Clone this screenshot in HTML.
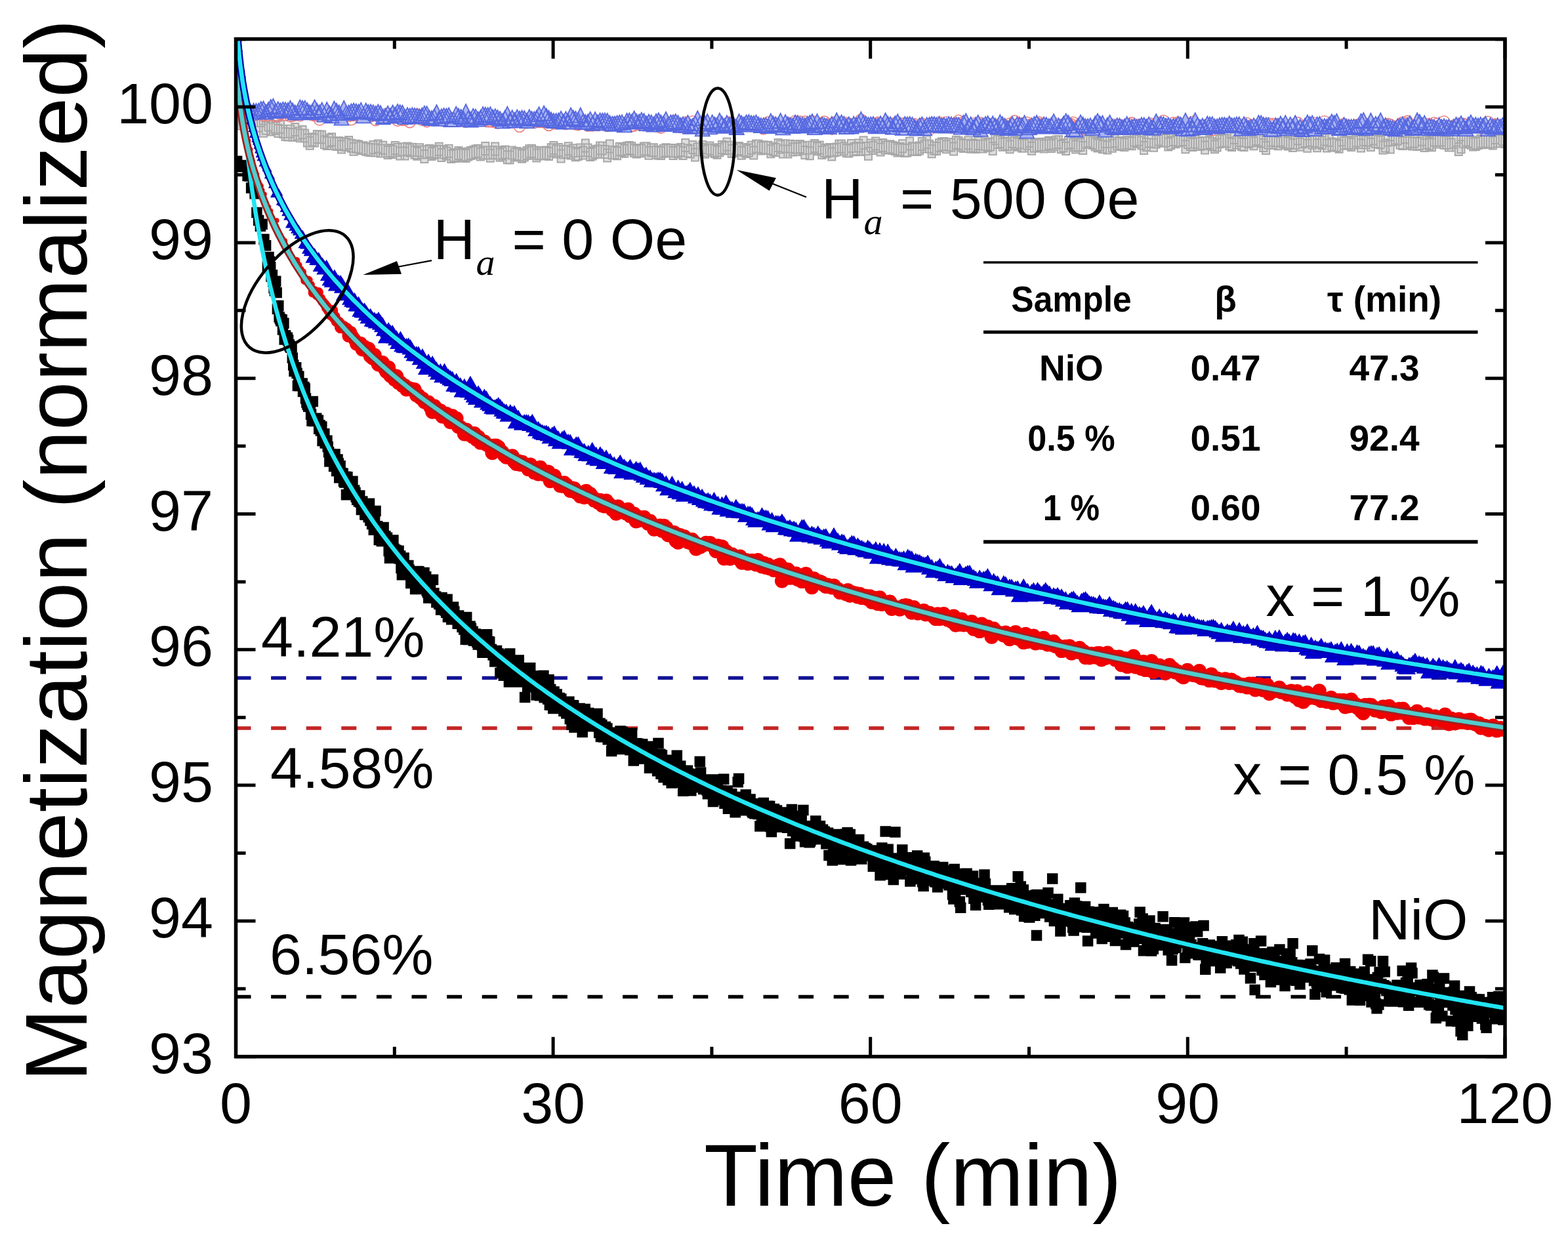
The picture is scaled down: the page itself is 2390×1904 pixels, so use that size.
<!DOCTYPE html><html><head><meta charset="utf-8"><style>html,body{margin:0;padding:0;background:#fff;overflow:hidden;}svg{display:block}</style></head><body>
<svg width="2390" height="1904" viewBox="0 0 2390 1904">
<rect width="2390" height="1904" fill="#fff"/>
<defs><clipPath id="pc"><rect x="359.5" y="59.5" width="1934.5" height="1551.2"/></clipPath></defs>
<g clip-path="url(#pc)">
<path d="M358.8 166.6h11v19h-11zM362.6 178.6h11v19h-11zM366.3 172.8h11v19h-11zM370 175.7h11v19h-11zM373.7 177h11v19h-11zM377.4 175.4h11v19h-11zM381.1 173.9h11v19h-11zM384.9 181.7h11v19h-11zM388.6 181.4h11v19h-11zM392.3 174.1h11v19h-11zM396 189.8h11v19h-11zM399.7 185.7h11v19h-11zM403.5 180.6h11v19h-11zM407.2 187.4h11v19h-11zM410.9 183.5h11v19h-11zM414.6 185.9h11v19h-11zM418.3 189.9h11v19h-11zM422 183.7h11v19h-11zM425.8 191h11v19h-11zM429.5 194.9h11v19h-11zM433.2 195.6h11v19h-11zM436.9 190.8h11v19h-11zM440.6 196h11v19h-11zM444.3 188.1h11v19h-11zM448.1 194.2h11v19h-11zM451.8 197.3h11v19h-11zM455.5 192h11v19h-11zM459.2 197.4h11v19h-11zM462.9 204.6h11v19h-11zM466.7 208.7h11v19h-11zM470.4 203.3h11v19h-11zM474.1 204.4h11v19h-11zM477.8 199.1h11v19h-11zM481.5 199.2h11v19h-11zM485.2 199.4h11v19h-11zM489 207.2h11v19h-11zM492.7 208.9h11v19h-11zM496.4 204.7h11v19h-11zM500.1 203.3h11v19h-11zM503.8 209.1h11v19h-11zM507.5 209.9h11v19h-11zM511.3 208.9h11v19h-11zM515 214.4h11v19h-11zM518.7 210.2h11v19h-11zM522.4 210.9h11v19h-11zM526.1 207.9h11v19h-11zM529.9 212.8h11v19h-11zM533.6 217.7h11v19h-11zM537.3 213.8h11v19h-11zM541 214.4h11v19h-11zM544.7 216.3h11v19h-11zM548.4 216.3h11v19h-11zM552.2 217.8h11v19h-11zM555.9 218.4h11v19h-11zM559.6 219.3h11v19h-11zM563.3 215h11v19h-11zM567 219.4h11v19h-11zM570.8 213.4h11v19h-11zM574.5 220.5h11v19h-11zM578.2 215.7h11v19h-11zM581.9 220.5h11v19h-11zM585.6 223h11v19h-11zM589.3 220.1h11v19h-11zM593.1 222.1h11v19h-11zM596.8 216.1h11v19h-11zM600.5 219h11v19h-11zM604.2 224.5h11v19h-11zM607.9 218.2h11v19h-11zM611.6 224.6h11v19h-11zM615.4 217.6h11v19h-11zM619.1 219.4h11v19h-11zM622.8 218.8h11v19h-11zM626.5 222.8h11v19h-11zM630.2 224.8h11v19h-11zM634 219.3h11v19h-11zM637.7 222.5h11v19h-11zM641.4 228.9h11v19h-11zM645.1 222.3h11v19h-11zM648.8 220.7h11v19h-11zM652.5 225h11v19h-11zM656.3 223h11v19h-11zM660 221.4h11v19h-11zM663.7 217.7h11v19h-11zM667.4 227h11v19h-11zM671.1 222.2h11v19h-11zM674.9 224.4h11v19h-11zM678.6 220.7h11v19h-11zM682.3 229h11v19h-11zM686 227.1h11v19h-11zM689.7 227.9h11v19h-11zM693.4 224h11v19h-11zM697.2 226h11v19h-11zM700.9 227.5h11v19h-11zM704.6 227.9h11v19h-11zM708.3 225.4h11v19h-11zM712 224h11v19h-11zM715.7 223h11v19h-11zM719.5 221.6h11v19h-11zM723.2 220.8h11v19h-11zM726.9 225.4h11v19h-11zM730.6 223.3h11v19h-11zM734.3 217.1h11v19h-11zM738.1 223.5h11v19h-11zM741.8 227.8h11v19h-11zM745.5 223.1h11v19h-11zM749.2 217.5h11v19h-11zM752.9 223.5h11v19h-11zM756.6 226.7h11v19h-11zM760.4 224.6h11v19h-11zM764.1 222.4h11v19h-11zM767.8 230.3h11v19h-11zM771.5 230.5h11v19h-11zM775.2 223.5h11v19h-11zM779 226.6h11v19h-11zM782.7 225.1h11v19h-11zM786.4 226.5h11v19h-11zM790.1 228.8h11v19h-11zM793.8 226.5h11v19h-11zM797.5 224h11v19h-11zM801.3 221.3h11v19h-11zM805 220.8h11v19h-11zM808.7 223.5h11v19h-11zM812.4 227.6h11v19h-11zM816.1 224.6h11v19h-11zM819.8 223.7h11v19h-11zM823.6 224.3h11v19h-11zM827.3 223.4h11v19h-11zM831 225.1h11v19h-11zM834.7 219.2h11v19h-11zM838.4 216.1h11v19h-11zM842.2 221.5h11v19h-11zM845.9 218.9h11v19h-11zM849.6 228.4h11v19h-11zM853.3 222.2h11v19h-11zM857 221.7h11v19h-11zM860.7 217.2h11v19h-11zM864.5 223.4h11v19h-11zM868.2 220.2h11v19h-11zM871.9 226.2h11v19h-11zM875.6 225.1h11v19h-11zM879.3 219.4h11v19h-11zM883.1 223.5h11v19h-11zM886.8 212.4h11v19h-11zM890.5 219.5h11v19h-11zM894.2 226.1h11v19h-11zM897.9 224.5h11v19h-11zM901.6 222.2h11v19h-11zM905.4 221.4h11v19h-11zM909.1 216.5h11v19h-11zM912.8 216.6h11v19h-11zM916.5 222.1h11v19h-11zM920.2 227.4h11v19h-11zM923.9 213.5h11v19h-11zM927.7 223.2h11v19h-11zM931.4 223h11v19h-11zM935.1 224.2h11v19h-11zM938.8 217.7h11v19h-11zM942.5 218.8h11v19h-11zM946.3 220.8h11v19h-11zM950 216.9h11v19h-11zM953.7 216.1h11v19h-11zM957.4 217.3h11v19h-11zM961.1 220h11v19h-11zM964.8 221.5h11v19h-11zM968.6 220h11v19h-11zM972.3 220.3h11v19h-11zM976 217.5h11v19h-11zM979.7 217.3h11v19h-11zM983.4 223.7h11v19h-11zM987.2 219.5h11v19h-11zM990.9 219.3h11v19h-11zM994.6 222.8h11v19h-11zM998.3 223.8h11v19h-11zM1002 223.9h11v19h-11zM1005.7 220.8h11v19h-11zM1009.5 219.2h11v19h-11zM1013.2 220.3h11v19h-11zM1016.9 219.9h11v19h-11zM1020.6 224.1h11v19h-11zM1024.3 220.2h11v19h-11zM1028 221.4h11v19h-11zM1031.8 219h11v19h-11zM1035.5 223.9h11v19h-11zM1039.2 211.9h11v19h-11zM1042.9 220.3h11v19h-11zM1046.6 221.6h11v19h-11zM1050.4 214.9h11v19h-11zM1054.1 226.4h11v19h-11zM1057.8 218.3h11v19h-11zM1061.5 218.3h11v19h-11zM1065.2 215h11v19h-11zM1068.9 221.8h11v19h-11zM1072.7 219.5h11v19h-11zM1076.4 216.6h11v19h-11zM1080.1 219.4h11v19h-11zM1083.8 221h11v19h-11zM1087.5 222.8h11v19h-11zM1091.3 219.3h11v19h-11zM1095 215.1h11v19h-11zM1098.7 216.5h11v19h-11zM1102.4 210.4h11v19h-11zM1106.1 215.8h11v19h-11zM1109.8 220.9h11v19h-11zM1113.6 219.9h11v19h-11zM1117.3 217.9h11v19h-11zM1121 217h11v19h-11zM1124.7 223.7h11v19h-11zM1128.4 219.1h11v19h-11zM1132.1 221.3h11v19h-11zM1135.9 219.5h11v19h-11zM1139.6 215.7h11v19h-11zM1143.3 223.5h11v19h-11zM1147 213.6h11v19h-11zM1150.7 213.8h11v19h-11zM1154.5 216.4h11v19h-11zM1158.2 215.3h11v19h-11zM1161.9 215.9h11v19h-11zM1165.6 215.7h11v19h-11zM1169.3 221.2h11v19h-11zM1173 217.9h11v19h-11zM1176.8 218.9h11v19h-11zM1180.5 212.1h11v19h-11zM1184.2 214.6h11v19h-11zM1187.9 221.4h11v19h-11zM1191.6 213.3h11v19h-11zM1195.4 221.6h11v19h-11zM1199.1 213.8h11v19h-11zM1202.8 218.5h11v19h-11zM1206.5 214.4h11v19h-11zM1210.2 218h11v19h-11zM1213.9 214.1h11v19h-11zM1217.7 216.3h11v19h-11zM1221.4 223.1h11v19h-11zM1225.1 215.8h11v19h-11zM1228.8 224.2h11v19h-11zM1232.5 215.5h11v19h-11zM1236.2 212.9h11v19h-11zM1240 217.3h11v19h-11zM1243.7 215.5h11v19h-11zM1247.4 223.1h11v19h-11zM1251.1 219.9h11v19h-11zM1254.8 221h11v19h-11zM1258.6 219h11v19h-11zM1262.3 225.4h11v19h-11zM1266 219.5h11v19h-11zM1269.7 218.5h11v19h-11zM1273.4 213.7h11v19h-11zM1277.1 213.4h11v19h-11zM1280.9 217.2h11v19h-11zM1284.6 220h11v19h-11zM1288.3 220.4h11v19h-11zM1292 213.1h11v19h-11zM1295.7 218.2h11v19h-11zM1299.5 217h11v19h-11zM1303.2 212.4h11v19h-11zM1306.9 218h11v19h-11zM1310.6 208.3h11v19h-11zM1314.3 217.1h11v19h-11zM1318 224.8h11v19h-11zM1321.8 212.5h11v19h-11zM1325.5 216.1h11v19h-11zM1329.2 209.4h11v19h-11zM1332.9 213.3h11v19h-11zM1336.6 218.5h11v19h-11zM1340.3 212.1h11v19h-11zM1344.1 215.6h11v19h-11zM1347.8 214.4h11v19h-11zM1351.5 214.2h11v19h-11zM1355.2 216.1h11v19h-11zM1358.9 217.1h11v19h-11zM1362.7 219.6h11v19h-11zM1366.4 218.1h11v19h-11zM1370.1 213.2h11v19h-11zM1373.8 220h11v19h-11zM1377.5 219.4h11v19h-11zM1381.2 209.5h11v19h-11zM1385 217.2h11v19h-11zM1388.7 217.7h11v19h-11zM1392.4 218.1h11v19h-11zM1396.1 216.5h11v19h-11zM1399.8 210h11v19h-11zM1403.6 213.5h11v19h-11zM1407.3 207.1h11v19h-11zM1411 213.8h11v19h-11zM1414.7 221.3h11v19h-11zM1418.4 216.5h11v19h-11zM1422.1 217h11v19h-11zM1425.9 212.2h11v19h-11zM1429.6 210.4h11v19h-11zM1433.3 210.1h11v19h-11zM1437 214.2h11v19h-11zM1440.7 210.9h11v19h-11zM1444.4 211.4h11v19h-11zM1448.2 217.6h11v19h-11zM1451.9 207.7h11v19h-11zM1455.6 208.8h11v19h-11zM1459.3 211.5h11v19h-11zM1463 212.9h11v19h-11zM1466.8 212.7h11v19h-11zM1470.5 208.2h11v19h-11zM1474.2 213.7h11v19h-11zM1477.9 212.5h11v19h-11zM1481.6 214.1h11v19h-11zM1485.3 209h11v19h-11zM1489.1 213.6h11v19h-11zM1492.8 213.4h11v19h-11zM1496.5 210.2h11v19h-11zM1500.2 211.7h11v19h-11zM1503.9 210.5h11v19h-11zM1507.7 217.1h11v19h-11zM1511.4 201.3h11v19h-11zM1515.1 207.1h11v19h-11zM1518.8 206.1h11v19h-11zM1522.5 210.7h11v19h-11zM1526.2 209.6h11v19h-11zM1530 210.4h11v19h-11zM1533.7 214.3h11v19h-11zM1537.4 206h11v19h-11zM1541.1 208.7h11v19h-11zM1544.8 210.8h11v19h-11zM1548.5 207.3h11v19h-11zM1552.3 212.7h11v19h-11zM1556 212.5h11v19h-11zM1559.7 208.8h11v19h-11zM1563.4 205h11v19h-11zM1567.1 216.7h11v19h-11zM1570.9 212.7h11v19h-11zM1574.6 212.4h11v19h-11zM1578.3 211.1h11v19h-11zM1582 210.8h11v19h-11zM1585.7 213.6h11v19h-11zM1589.4 210.6h11v19h-11zM1593.2 208.4h11v19h-11zM1596.9 213h11v19h-11zM1600.6 210.6h11v19h-11zM1604.3 207.6h11v19h-11zM1608 207.1h11v19h-11zM1611.8 214.3h11v19h-11zM1615.5 212.3h11v19h-11zM1619.2 217h11v19h-11zM1622.9 208.1h11v19h-11zM1626.6 207.3h11v19h-11zM1630.3 211.2h11v19h-11zM1634.1 214.6h11v19h-11zM1637.8 211.8h11v19h-11zM1641.5 211.1h11v19h-11zM1645.2 216.1h11v19h-11zM1648.9 206.8h11v19h-11zM1652.6 205h11v19h-11zM1656.4 206.7h11v19h-11zM1660.1 208.1h11v19h-11zM1663.8 210.4h11v19h-11zM1667.5 212.6h11v19h-11zM1671.2 210.4h11v19h-11zM1675 214.2h11v19h-11zM1678.7 205.9h11v19h-11zM1682.4 215.4h11v19h-11zM1686.1 205.8h11v19h-11zM1689.8 212.7h11v19h-11zM1693.5 205.2h11v19h-11zM1697.3 209.7h11v19h-11zM1701 208.7h11v19h-11zM1704.7 210.3h11v19h-11zM1708.4 211.1h11v19h-11zM1712.1 207.7h11v19h-11zM1715.9 208.2h11v19h-11zM1719.6 209.3h11v19h-11zM1723.3 203.8h11v19h-11zM1727 205.8h11v19h-11zM1730.7 202.7h11v19h-11zM1734.4 208.4h11v19h-11zM1738.2 216.1h11v19h-11zM1741.9 210.9h11v19h-11zM1745.6 205.3h11v19h-11zM1749.3 205.8h11v19h-11zM1753 211.7h11v19h-11zM1756.7 206.6h11v19h-11zM1760.5 202.6h11v19h-11zM1764.2 204.7h11v19h-11zM1767.9 204.6h11v19h-11zM1771.6 204.7h11v19h-11zM1775.3 210.6h11v19h-11zM1779.1 208.5h11v19h-11zM1782.8 203h11v19h-11zM1786.5 206.3h11v19h-11zM1790.2 204.2h11v19h-11zM1793.9 203.9h11v19h-11zM1797.6 202.9h11v19h-11zM1801.4 214.3h11v19h-11zM1805.1 207.1h11v19h-11zM1808.8 210.1h11v19h-11zM1812.5 211.1h11v19h-11zM1816.2 206.7h11v19h-11zM1820 209.9h11v19h-11zM1823.7 210h11v19h-11zM1827.4 208.8h11v19h-11zM1831.1 215.6h11v19h-11zM1834.8 209h11v19h-11zM1838.5 207.2h11v19h-11zM1842.3 210.3h11v19h-11zM1846 214.2h11v19h-11zM1849.7 211.5h11v19h-11zM1853.4 206.3h11v19h-11zM1857.1 204.9h11v19h-11zM1860.8 204.7h11v19h-11zM1864.6 205.6h11v19h-11zM1868.3 209.3h11v19h-11zM1872 210.9h11v19h-11zM1875.7 199.9h11v19h-11zM1879.4 207.8h11v19h-11zM1883.2 204h11v19h-11zM1886.9 210.2h11v19h-11zM1890.6 211h11v19h-11zM1894.3 205.1h11v19h-11zM1898 206.2h11v19h-11zM1901.7 204.5h11v19h-11zM1905.5 209.2h11v19h-11zM1909.2 202.1h11v19h-11zM1912.9 203.8h11v19h-11zM1916.6 205.4h11v19h-11zM1920.3 212h11v19h-11zM1924.1 216.1h11v19h-11zM1927.8 207.8h11v19h-11zM1931.5 203.4h11v19h-11zM1935.2 207.9h11v19h-11zM1938.9 204.6h11v19h-11zM1942.6 209.3h11v19h-11zM1946.4 203.8h11v19h-11zM1950.1 206.3h11v19h-11zM1953.8 207.6h11v19h-11zM1957.5 209.4h11v19h-11zM1961.2 207.3h11v19h-11zM1964.9 212h11v19h-11zM1968.7 208h11v19h-11zM1972.4 201.2h11v19h-11zM1976.1 210.8h11v19h-11zM1979.8 206.5h11v19h-11zM1983.5 205.2h11v19h-11zM1987.3 212.8h11v19h-11zM1991 204h11v19h-11zM1994.7 207.7h11v19h-11zM1998.4 205h11v19h-11zM2002.1 212.2h11v19h-11zM2005.8 206.2h11v19h-11zM2009.6 208.3h11v19h-11zM2013.3 202.6h11v19h-11zM2017 212.4h11v19h-11zM2020.7 203.7h11v19h-11zM2024.4 210.6h11v19h-11zM2028.2 211.3h11v19h-11zM2031.9 211.7h11v19h-11zM2035.6 213.7h11v19h-11zM2039.3 203.2h11v19h-11zM2043 208.7h11v19h-11zM2046.7 207.8h11v19h-11zM2050.5 208.8h11v19h-11zM2054.2 211.1h11v19h-11zM2057.9 207.7h11v19h-11zM2061.6 204.4h11v19h-11zM2065.3 206.9h11v19h-11zM2069 212.6h11v19h-11zM2072.8 203.1h11v19h-11zM2076.5 207.5h11v19h-11zM2080.2 203.8h11v19h-11zM2083.9 211.1h11v19h-11zM2087.6 201.4h11v19h-11zM2091.4 206h11v19h-11zM2095.1 206.7h11v19h-11zM2098.8 207.5h11v19h-11zM2102.5 215.4h11v19h-11zM2106.2 212.6h11v19h-11zM2109.9 203.5h11v19h-11zM2113.7 214.6h11v19h-11zM2117.4 202.9h11v19h-11zM2121.1 200.5h11v19h-11zM2124.8 201.8h11v19h-11zM2128.5 207.8h11v19h-11zM2132.3 208.9h11v19h-11zM2136 199.3h11v19h-11zM2139.7 208.5h11v19h-11zM2143.4 206.1h11v19h-11zM2147.1 209.4h11v19h-11zM2150.8 205.6h11v19h-11zM2154.6 210.1h11v19h-11zM2158.3 208.9h11v19h-11zM2162 202.8h11v19h-11zM2165.7 212h11v19h-11zM2169.4 207.6h11v19h-11zM2173.1 209.4h11v19h-11zM2176.9 211.3h11v19h-11zM2180.6 203.5h11v19h-11zM2184.3 206.6h11v19h-11zM2188 204h11v19h-11zM2191.7 203.5h11v19h-11zM2195.5 207.7h11v19h-11zM2199.2 208h11v19h-11zM2202.9 211.4h11v19h-11zM2206.6 211.6h11v19h-11zM2210.3 206.7h11v19h-11zM2214 203.8h11v19h-11zM2217.8 217.9h11v19h-11zM2221.5 214.2h11v19h-11zM2225.2 206.3h11v19h-11zM2228.9 203.4h11v19h-11zM2232.6 205.2h11v19h-11zM2236.4 207.7h11v19h-11zM2240.1 210.6h11v19h-11zM2243.8 210h11v19h-11zM2247.5 208.2h11v19h-11zM2251.2 205.8h11v19h-11zM2254.9 207.2h11v19h-11zM2258.7 205.5h11v19h-11zM2262.4 206.8h11v19h-11zM2266.1 206.2h11v19h-11zM2269.8 208.4h11v19h-11zM2273.5 200h11v19h-11zM2277.2 205.3h11v19h-11zM2281 205.5h11v19h-11zM2284.7 202.6h11v19h-11zM2288.4 205.9h11v19h-11z" fill="#dedede" stroke="#a8a8a8" stroke-width="2"/>
<path d="M355.8 170.9a8.5 8.5 0 1 0 17 0a8.5 8.5 0 1 0 -17 0zM359.6 173.1a8.5 8.5 0 1 0 17 0a8.5 8.5 0 1 0 -17 0zM363.3 169a8.5 8.5 0 1 0 17 0a8.5 8.5 0 1 0 -17 0zM367 170.3a8.5 8.5 0 1 0 17 0a8.5 8.5 0 1 0 -17 0zM370.7 170.9a8.5 8.5 0 1 0 17 0a8.5 8.5 0 1 0 -17 0zM374.4 171.6a8.5 8.5 0 1 0 17 0a8.5 8.5 0 1 0 -17 0zM378.1 176a8.5 8.5 0 1 0 17 0a8.5 8.5 0 1 0 -17 0zM381.9 173.1a8.5 8.5 0 1 0 17 0a8.5 8.5 0 1 0 -17 0zM385.6 172.4a8.5 8.5 0 1 0 17 0a8.5 8.5 0 1 0 -17 0zM389.3 173.6a8.5 8.5 0 1 0 17 0a8.5 8.5 0 1 0 -17 0zM393 175.9a8.5 8.5 0 1 0 17 0a8.5 8.5 0 1 0 -17 0zM396.7 171.4a8.5 8.5 0 1 0 17 0a8.5 8.5 0 1 0 -17 0zM400.5 175.9a8.5 8.5 0 1 0 17 0a8.5 8.5 0 1 0 -17 0zM404.2 167.5a8.5 8.5 0 1 0 17 0a8.5 8.5 0 1 0 -17 0zM407.9 171.1a8.5 8.5 0 1 0 17 0a8.5 8.5 0 1 0 -17 0zM411.6 177.1a8.5 8.5 0 1 0 17 0a8.5 8.5 0 1 0 -17 0zM415.3 177.3a8.5 8.5 0 1 0 17 0a8.5 8.5 0 1 0 -17 0zM419 174a8.5 8.5 0 1 0 17 0a8.5 8.5 0 1 0 -17 0zM422.8 172.4a8.5 8.5 0 1 0 17 0a8.5 8.5 0 1 0 -17 0zM426.5 175.6a8.5 8.5 0 1 0 17 0a8.5 8.5 0 1 0 -17 0zM430.2 172.5a8.5 8.5 0 1 0 17 0a8.5 8.5 0 1 0 -17 0zM433.9 177.5a8.5 8.5 0 1 0 17 0a8.5 8.5 0 1 0 -17 0zM437.6 176.6a8.5 8.5 0 1 0 17 0a8.5 8.5 0 1 0 -17 0zM441.3 175.6a8.5 8.5 0 1 0 17 0a8.5 8.5 0 1 0 -17 0zM445.1 171.6a8.5 8.5 0 1 0 17 0a8.5 8.5 0 1 0 -17 0zM448.8 176.2a8.5 8.5 0 1 0 17 0a8.5 8.5 0 1 0 -17 0zM452.5 173.2a8.5 8.5 0 1 0 17 0a8.5 8.5 0 1 0 -17 0zM456.2 173.2a8.5 8.5 0 1 0 17 0a8.5 8.5 0 1 0 -17 0zM459.9 172.8a8.5 8.5 0 1 0 17 0a8.5 8.5 0 1 0 -17 0zM463.7 173.6a8.5 8.5 0 1 0 17 0a8.5 8.5 0 1 0 -17 0zM467.4 175.2a8.5 8.5 0 1 0 17 0a8.5 8.5 0 1 0 -17 0zM471.1 176.1a8.5 8.5 0 1 0 17 0a8.5 8.5 0 1 0 -17 0zM474.8 176.1a8.5 8.5 0 1 0 17 0a8.5 8.5 0 1 0 -17 0zM478.5 182.5a8.5 8.5 0 1 0 17 0a8.5 8.5 0 1 0 -17 0zM482.2 173.2a8.5 8.5 0 1 0 17 0a8.5 8.5 0 1 0 -17 0zM486 177a8.5 8.5 0 1 0 17 0a8.5 8.5 0 1 0 -17 0zM489.7 172.5a8.5 8.5 0 1 0 17 0a8.5 8.5 0 1 0 -17 0zM493.4 173.8a8.5 8.5 0 1 0 17 0a8.5 8.5 0 1 0 -17 0zM497.1 171.5a8.5 8.5 0 1 0 17 0a8.5 8.5 0 1 0 -17 0zM500.8 177.7a8.5 8.5 0 1 0 17 0a8.5 8.5 0 1 0 -17 0zM504.5 175.5a8.5 8.5 0 1 0 17 0a8.5 8.5 0 1 0 -17 0zM508.3 175.3a8.5 8.5 0 1 0 17 0a8.5 8.5 0 1 0 -17 0zM512 174.9a8.5 8.5 0 1 0 17 0a8.5 8.5 0 1 0 -17 0zM515.7 177.7a8.5 8.5 0 1 0 17 0a8.5 8.5 0 1 0 -17 0zM519.4 174.3a8.5 8.5 0 1 0 17 0a8.5 8.5 0 1 0 -17 0zM523.1 176.8a8.5 8.5 0 1 0 17 0a8.5 8.5 0 1 0 -17 0zM526.9 182.3a8.5 8.5 0 1 0 17 0a8.5 8.5 0 1 0 -17 0zM530.6 175.8a8.5 8.5 0 1 0 17 0a8.5 8.5 0 1 0 -17 0zM534.3 174.8a8.5 8.5 0 1 0 17 0a8.5 8.5 0 1 0 -17 0zM538 174a8.5 8.5 0 1 0 17 0a8.5 8.5 0 1 0 -17 0zM541.7 178.7a8.5 8.5 0 1 0 17 0a8.5 8.5 0 1 0 -17 0zM545.4 177.1a8.5 8.5 0 1 0 17 0a8.5 8.5 0 1 0 -17 0zM549.2 175.2a8.5 8.5 0 1 0 17 0a8.5 8.5 0 1 0 -17 0zM552.9 175.2a8.5 8.5 0 1 0 17 0a8.5 8.5 0 1 0 -17 0zM556.6 177.5a8.5 8.5 0 1 0 17 0a8.5 8.5 0 1 0 -17 0zM560.3 175.1a8.5 8.5 0 1 0 17 0a8.5 8.5 0 1 0 -17 0zM564 183.1a8.5 8.5 0 1 0 17 0a8.5 8.5 0 1 0 -17 0zM567.8 177.5a8.5 8.5 0 1 0 17 0a8.5 8.5 0 1 0 -17 0zM571.5 177.8a8.5 8.5 0 1 0 17 0a8.5 8.5 0 1 0 -17 0zM575.2 178.2a8.5 8.5 0 1 0 17 0a8.5 8.5 0 1 0 -17 0zM578.9 174a8.5 8.5 0 1 0 17 0a8.5 8.5 0 1 0 -17 0zM582.6 175.1a8.5 8.5 0 1 0 17 0a8.5 8.5 0 1 0 -17 0zM586.3 178a8.5 8.5 0 1 0 17 0a8.5 8.5 0 1 0 -17 0zM590.1 179.1a8.5 8.5 0 1 0 17 0a8.5 8.5 0 1 0 -17 0zM593.8 176.2a8.5 8.5 0 1 0 17 0a8.5 8.5 0 1 0 -17 0zM597.5 183.6a8.5 8.5 0 1 0 17 0a8.5 8.5 0 1 0 -17 0zM601.2 180.7a8.5 8.5 0 1 0 17 0a8.5 8.5 0 1 0 -17 0zM604.9 182.9a8.5 8.5 0 1 0 17 0a8.5 8.5 0 1 0 -17 0zM608.6 182.7a8.5 8.5 0 1 0 17 0a8.5 8.5 0 1 0 -17 0zM612.4 179.3a8.5 8.5 0 1 0 17 0a8.5 8.5 0 1 0 -17 0zM616.1 186.1a8.5 8.5 0 1 0 17 0a8.5 8.5 0 1 0 -17 0zM619.8 180.4a8.5 8.5 0 1 0 17 0a8.5 8.5 0 1 0 -17 0zM623.5 175.5a8.5 8.5 0 1 0 17 0a8.5 8.5 0 1 0 -17 0zM627.2 174.4a8.5 8.5 0 1 0 17 0a8.5 8.5 0 1 0 -17 0zM631 180.4a8.5 8.5 0 1 0 17 0a8.5 8.5 0 1 0 -17 0zM634.7 182.7a8.5 8.5 0 1 0 17 0a8.5 8.5 0 1 0 -17 0zM638.4 180.8a8.5 8.5 0 1 0 17 0a8.5 8.5 0 1 0 -17 0zM642.1 185.1a8.5 8.5 0 1 0 17 0a8.5 8.5 0 1 0 -17 0zM645.8 180.1a8.5 8.5 0 1 0 17 0a8.5 8.5 0 1 0 -17 0zM649.5 182.4a8.5 8.5 0 1 0 17 0a8.5 8.5 0 1 0 -17 0zM653.3 183a8.5 8.5 0 1 0 17 0a8.5 8.5 0 1 0 -17 0zM657 178.6a8.5 8.5 0 1 0 17 0a8.5 8.5 0 1 0 -17 0zM660.7 182.1a8.5 8.5 0 1 0 17 0a8.5 8.5 0 1 0 -17 0zM664.4 182.4a8.5 8.5 0 1 0 17 0a8.5 8.5 0 1 0 -17 0zM668.1 184.3a8.5 8.5 0 1 0 17 0a8.5 8.5 0 1 0 -17 0zM671.9 184.7a8.5 8.5 0 1 0 17 0a8.5 8.5 0 1 0 -17 0zM675.6 184.3a8.5 8.5 0 1 0 17 0a8.5 8.5 0 1 0 -17 0zM679.3 180a8.5 8.5 0 1 0 17 0a8.5 8.5 0 1 0 -17 0zM683 183.9a8.5 8.5 0 1 0 17 0a8.5 8.5 0 1 0 -17 0zM686.7 184.8a8.5 8.5 0 1 0 17 0a8.5 8.5 0 1 0 -17 0zM690.4 182.3a8.5 8.5 0 1 0 17 0a8.5 8.5 0 1 0 -17 0zM694.2 184.2a8.5 8.5 0 1 0 17 0a8.5 8.5 0 1 0 -17 0zM697.9 184.4a8.5 8.5 0 1 0 17 0a8.5 8.5 0 1 0 -17 0zM701.6 185.6a8.5 8.5 0 1 0 17 0a8.5 8.5 0 1 0 -17 0zM705.3 182.9a8.5 8.5 0 1 0 17 0a8.5 8.5 0 1 0 -17 0zM709 184a8.5 8.5 0 1 0 17 0a8.5 8.5 0 1 0 -17 0zM712.7 183.4a8.5 8.5 0 1 0 17 0a8.5 8.5 0 1 0 -17 0zM716.5 183.2a8.5 8.5 0 1 0 17 0a8.5 8.5 0 1 0 -17 0zM720.2 181.6a8.5 8.5 0 1 0 17 0a8.5 8.5 0 1 0 -17 0zM723.9 182.4a8.5 8.5 0 1 0 17 0a8.5 8.5 0 1 0 -17 0zM727.6 180.6a8.5 8.5 0 1 0 17 0a8.5 8.5 0 1 0 -17 0zM731.3 183a8.5 8.5 0 1 0 17 0a8.5 8.5 0 1 0 -17 0zM735.1 185.3a8.5 8.5 0 1 0 17 0a8.5 8.5 0 1 0 -17 0zM738.8 185.3a8.5 8.5 0 1 0 17 0a8.5 8.5 0 1 0 -17 0zM742.5 185.7a8.5 8.5 0 1 0 17 0a8.5 8.5 0 1 0 -17 0zM746.2 183.7a8.5 8.5 0 1 0 17 0a8.5 8.5 0 1 0 -17 0zM749.9 187.5a8.5 8.5 0 1 0 17 0a8.5 8.5 0 1 0 -17 0zM753.6 183a8.5 8.5 0 1 0 17 0a8.5 8.5 0 1 0 -17 0zM757.4 186.2a8.5 8.5 0 1 0 17 0a8.5 8.5 0 1 0 -17 0zM761.1 185.4a8.5 8.5 0 1 0 17 0a8.5 8.5 0 1 0 -17 0zM764.8 182.6a8.5 8.5 0 1 0 17 0a8.5 8.5 0 1 0 -17 0zM768.5 182.9a8.5 8.5 0 1 0 17 0a8.5 8.5 0 1 0 -17 0zM772.2 186.6a8.5 8.5 0 1 0 17 0a8.5 8.5 0 1 0 -17 0zM776 184.9a8.5 8.5 0 1 0 17 0a8.5 8.5 0 1 0 -17 0zM779.7 185.6a8.5 8.5 0 1 0 17 0a8.5 8.5 0 1 0 -17 0zM783.4 192.8a8.5 8.5 0 1 0 17 0a8.5 8.5 0 1 0 -17 0zM787.1 186.6a8.5 8.5 0 1 0 17 0a8.5 8.5 0 1 0 -17 0zM790.8 185.6a8.5 8.5 0 1 0 17 0a8.5 8.5 0 1 0 -17 0zM794.5 187.3a8.5 8.5 0 1 0 17 0a8.5 8.5 0 1 0 -17 0zM798.3 184a8.5 8.5 0 1 0 17 0a8.5 8.5 0 1 0 -17 0zM802 185.2a8.5 8.5 0 1 0 17 0a8.5 8.5 0 1 0 -17 0zM805.7 186.9a8.5 8.5 0 1 0 17 0a8.5 8.5 0 1 0 -17 0zM809.4 183.8a8.5 8.5 0 1 0 17 0a8.5 8.5 0 1 0 -17 0zM813.1 185.9a8.5 8.5 0 1 0 17 0a8.5 8.5 0 1 0 -17 0zM816.8 185.7a8.5 8.5 0 1 0 17 0a8.5 8.5 0 1 0 -17 0zM820.6 186.5a8.5 8.5 0 1 0 17 0a8.5 8.5 0 1 0 -17 0zM824.3 181.9a8.5 8.5 0 1 0 17 0a8.5 8.5 0 1 0 -17 0zM828 190.9a8.5 8.5 0 1 0 17 0a8.5 8.5 0 1 0 -17 0zM831.7 186.4a8.5 8.5 0 1 0 17 0a8.5 8.5 0 1 0 -17 0zM835.4 188.1a8.5 8.5 0 1 0 17 0a8.5 8.5 0 1 0 -17 0zM839.2 184.2a8.5 8.5 0 1 0 17 0a8.5 8.5 0 1 0 -17 0zM842.9 183.7a8.5 8.5 0 1 0 17 0a8.5 8.5 0 1 0 -17 0zM846.6 187.1a8.5 8.5 0 1 0 17 0a8.5 8.5 0 1 0 -17 0zM850.3 186.3a8.5 8.5 0 1 0 17 0a8.5 8.5 0 1 0 -17 0zM854 188.9a8.5 8.5 0 1 0 17 0a8.5 8.5 0 1 0 -17 0zM857.7 185.1a8.5 8.5 0 1 0 17 0a8.5 8.5 0 1 0 -17 0zM861.5 185.1a8.5 8.5 0 1 0 17 0a8.5 8.5 0 1 0 -17 0zM865.2 188.5a8.5 8.5 0 1 0 17 0a8.5 8.5 0 1 0 -17 0zM868.9 189.5a8.5 8.5 0 1 0 17 0a8.5 8.5 0 1 0 -17 0zM872.6 190.2a8.5 8.5 0 1 0 17 0a8.5 8.5 0 1 0 -17 0zM876.3 187.9a8.5 8.5 0 1 0 17 0a8.5 8.5 0 1 0 -17 0zM880.1 188.8a8.5 8.5 0 1 0 17 0a8.5 8.5 0 1 0 -17 0zM883.8 186.3a8.5 8.5 0 1 0 17 0a8.5 8.5 0 1 0 -17 0zM887.5 191.7a8.5 8.5 0 1 0 17 0a8.5 8.5 0 1 0 -17 0zM891.2 191.4a8.5 8.5 0 1 0 17 0a8.5 8.5 0 1 0 -17 0zM894.9 191.4a8.5 8.5 0 1 0 17 0a8.5 8.5 0 1 0 -17 0zM898.6 184.6a8.5 8.5 0 1 0 17 0a8.5 8.5 0 1 0 -17 0zM902.4 190.9a8.5 8.5 0 1 0 17 0a8.5 8.5 0 1 0 -17 0zM906.1 186.9a8.5 8.5 0 1 0 17 0a8.5 8.5 0 1 0 -17 0zM909.8 190.1a8.5 8.5 0 1 0 17 0a8.5 8.5 0 1 0 -17 0zM913.5 190a8.5 8.5 0 1 0 17 0a8.5 8.5 0 1 0 -17 0zM917.2 192a8.5 8.5 0 1 0 17 0a8.5 8.5 0 1 0 -17 0zM920.9 188.5a8.5 8.5 0 1 0 17 0a8.5 8.5 0 1 0 -17 0zM924.7 188.2a8.5 8.5 0 1 0 17 0a8.5 8.5 0 1 0 -17 0zM928.4 186.6a8.5 8.5 0 1 0 17 0a8.5 8.5 0 1 0 -17 0zM932.1 186.2a8.5 8.5 0 1 0 17 0a8.5 8.5 0 1 0 -17 0zM935.8 190.7a8.5 8.5 0 1 0 17 0a8.5 8.5 0 1 0 -17 0zM939.5 187a8.5 8.5 0 1 0 17 0a8.5 8.5 0 1 0 -17 0zM943.3 191a8.5 8.5 0 1 0 17 0a8.5 8.5 0 1 0 -17 0zM947 188.5a8.5 8.5 0 1 0 17 0a8.5 8.5 0 1 0 -17 0zM950.7 188.1a8.5 8.5 0 1 0 17 0a8.5 8.5 0 1 0 -17 0zM954.4 191.9a8.5 8.5 0 1 0 17 0a8.5 8.5 0 1 0 -17 0zM958.1 191.7a8.5 8.5 0 1 0 17 0a8.5 8.5 0 1 0 -17 0zM961.8 187.2a8.5 8.5 0 1 0 17 0a8.5 8.5 0 1 0 -17 0zM965.6 189.3a8.5 8.5 0 1 0 17 0a8.5 8.5 0 1 0 -17 0zM969.3 189.8a8.5 8.5 0 1 0 17 0a8.5 8.5 0 1 0 -17 0zM973 191.5a8.5 8.5 0 1 0 17 0a8.5 8.5 0 1 0 -17 0zM976.7 188.1a8.5 8.5 0 1 0 17 0a8.5 8.5 0 1 0 -17 0zM980.4 188.9a8.5 8.5 0 1 0 17 0a8.5 8.5 0 1 0 -17 0zM984.2 189.7a8.5 8.5 0 1 0 17 0a8.5 8.5 0 1 0 -17 0zM987.9 191.8a8.5 8.5 0 1 0 17 0a8.5 8.5 0 1 0 -17 0zM991.6 192.4a8.5 8.5 0 1 0 17 0a8.5 8.5 0 1 0 -17 0zM995.3 188.9a8.5 8.5 0 1 0 17 0a8.5 8.5 0 1 0 -17 0zM999 194.6a8.5 8.5 0 1 0 17 0a8.5 8.5 0 1 0 -17 0zM1002.7 191.4a8.5 8.5 0 1 0 17 0a8.5 8.5 0 1 0 -17 0zM1006.5 188.4a8.5 8.5 0 1 0 17 0a8.5 8.5 0 1 0 -17 0zM1010.2 186.6a8.5 8.5 0 1 0 17 0a8.5 8.5 0 1 0 -17 0zM1013.9 189.3a8.5 8.5 0 1 0 17 0a8.5 8.5 0 1 0 -17 0zM1017.6 184.6a8.5 8.5 0 1 0 17 0a8.5 8.5 0 1 0 -17 0zM1021.3 191.1a8.5 8.5 0 1 0 17 0a8.5 8.5 0 1 0 -17 0zM1025 192.1a8.5 8.5 0 1 0 17 0a8.5 8.5 0 1 0 -17 0zM1028.8 193.9a8.5 8.5 0 1 0 17 0a8.5 8.5 0 1 0 -17 0zM1032.5 192a8.5 8.5 0 1 0 17 0a8.5 8.5 0 1 0 -17 0zM1036.2 186.5a8.5 8.5 0 1 0 17 0a8.5 8.5 0 1 0 -17 0zM1039.9 190a8.5 8.5 0 1 0 17 0a8.5 8.5 0 1 0 -17 0zM1043.6 192.4a8.5 8.5 0 1 0 17 0a8.5 8.5 0 1 0 -17 0zM1047.4 185.2a8.5 8.5 0 1 0 17 0a8.5 8.5 0 1 0 -17 0zM1051.1 188.5a8.5 8.5 0 1 0 17 0a8.5 8.5 0 1 0 -17 0zM1054.8 192.1a8.5 8.5 0 1 0 17 0a8.5 8.5 0 1 0 -17 0zM1058.5 190.6a8.5 8.5 0 1 0 17 0a8.5 8.5 0 1 0 -17 0zM1062.2 185.4a8.5 8.5 0 1 0 17 0a8.5 8.5 0 1 0 -17 0zM1065.9 189.1a8.5 8.5 0 1 0 17 0a8.5 8.5 0 1 0 -17 0zM1069.7 190.4a8.5 8.5 0 1 0 17 0a8.5 8.5 0 1 0 -17 0zM1073.4 195.5a8.5 8.5 0 1 0 17 0a8.5 8.5 0 1 0 -17 0zM1077.1 189.2a8.5 8.5 0 1 0 17 0a8.5 8.5 0 1 0 -17 0zM1080.8 188a8.5 8.5 0 1 0 17 0a8.5 8.5 0 1 0 -17 0zM1084.5 190.8a8.5 8.5 0 1 0 17 0a8.5 8.5 0 1 0 -17 0zM1088.3 191a8.5 8.5 0 1 0 17 0a8.5 8.5 0 1 0 -17 0zM1092 191.5a8.5 8.5 0 1 0 17 0a8.5 8.5 0 1 0 -17 0zM1095.7 193.6a8.5 8.5 0 1 0 17 0a8.5 8.5 0 1 0 -17 0zM1099.4 189.8a8.5 8.5 0 1 0 17 0a8.5 8.5 0 1 0 -17 0zM1103.1 186.5a8.5 8.5 0 1 0 17 0a8.5 8.5 0 1 0 -17 0zM1106.8 190a8.5 8.5 0 1 0 17 0a8.5 8.5 0 1 0 -17 0zM1110.6 189.9a8.5 8.5 0 1 0 17 0a8.5 8.5 0 1 0 -17 0zM1114.3 192.2a8.5 8.5 0 1 0 17 0a8.5 8.5 0 1 0 -17 0zM1118 191.9a8.5 8.5 0 1 0 17 0a8.5 8.5 0 1 0 -17 0zM1121.7 187.9a8.5 8.5 0 1 0 17 0a8.5 8.5 0 1 0 -17 0zM1125.4 191.6a8.5 8.5 0 1 0 17 0a8.5 8.5 0 1 0 -17 0zM1129.1 192.2a8.5 8.5 0 1 0 17 0a8.5 8.5 0 1 0 -17 0zM1132.9 189.1a8.5 8.5 0 1 0 17 0a8.5 8.5 0 1 0 -17 0zM1136.6 191.9a8.5 8.5 0 1 0 17 0a8.5 8.5 0 1 0 -17 0zM1140.3 189.9a8.5 8.5 0 1 0 17 0a8.5 8.5 0 1 0 -17 0zM1144 189.9a8.5 8.5 0 1 0 17 0a8.5 8.5 0 1 0 -17 0zM1147.7 189.1a8.5 8.5 0 1 0 17 0a8.5 8.5 0 1 0 -17 0zM1151.5 191.4a8.5 8.5 0 1 0 17 0a8.5 8.5 0 1 0 -17 0zM1155.2 196.5a8.5 8.5 0 1 0 17 0a8.5 8.5 0 1 0 -17 0zM1158.9 189.9a8.5 8.5 0 1 0 17 0a8.5 8.5 0 1 0 -17 0zM1162.6 186.4a8.5 8.5 0 1 0 17 0a8.5 8.5 0 1 0 -17 0zM1166.3 188.7a8.5 8.5 0 1 0 17 0a8.5 8.5 0 1 0 -17 0zM1170 187.7a8.5 8.5 0 1 0 17 0a8.5 8.5 0 1 0 -17 0zM1173.8 190a8.5 8.5 0 1 0 17 0a8.5 8.5 0 1 0 -17 0zM1177.5 188.8a8.5 8.5 0 1 0 17 0a8.5 8.5 0 1 0 -17 0zM1181.2 195.4a8.5 8.5 0 1 0 17 0a8.5 8.5 0 1 0 -17 0zM1184.9 190.9a8.5 8.5 0 1 0 17 0a8.5 8.5 0 1 0 -17 0zM1188.6 193.6a8.5 8.5 0 1 0 17 0a8.5 8.5 0 1 0 -17 0zM1192.4 187.2a8.5 8.5 0 1 0 17 0a8.5 8.5 0 1 0 -17 0zM1196.1 188.4a8.5 8.5 0 1 0 17 0a8.5 8.5 0 1 0 -17 0zM1199.8 194.1a8.5 8.5 0 1 0 17 0a8.5 8.5 0 1 0 -17 0zM1203.5 184.8a8.5 8.5 0 1 0 17 0a8.5 8.5 0 1 0 -17 0zM1207.2 189.4a8.5 8.5 0 1 0 17 0a8.5 8.5 0 1 0 -17 0zM1210.9 185.2a8.5 8.5 0 1 0 17 0a8.5 8.5 0 1 0 -17 0zM1214.7 192.9a8.5 8.5 0 1 0 17 0a8.5 8.5 0 1 0 -17 0zM1218.4 185.5a8.5 8.5 0 1 0 17 0a8.5 8.5 0 1 0 -17 0zM1222.1 188.3a8.5 8.5 0 1 0 17 0a8.5 8.5 0 1 0 -17 0zM1225.8 188.7a8.5 8.5 0 1 0 17 0a8.5 8.5 0 1 0 -17 0zM1229.5 184.9a8.5 8.5 0 1 0 17 0a8.5 8.5 0 1 0 -17 0zM1233.2 195.3a8.5 8.5 0 1 0 17 0a8.5 8.5 0 1 0 -17 0zM1237 188.7a8.5 8.5 0 1 0 17 0a8.5 8.5 0 1 0 -17 0zM1240.7 193.3a8.5 8.5 0 1 0 17 0a8.5 8.5 0 1 0 -17 0zM1244.4 187.5a8.5 8.5 0 1 0 17 0a8.5 8.5 0 1 0 -17 0zM1248.1 185.6a8.5 8.5 0 1 0 17 0a8.5 8.5 0 1 0 -17 0zM1251.8 189.8a8.5 8.5 0 1 0 17 0a8.5 8.5 0 1 0 -17 0zM1255.6 189.7a8.5 8.5 0 1 0 17 0a8.5 8.5 0 1 0 -17 0zM1259.3 196.6a8.5 8.5 0 1 0 17 0a8.5 8.5 0 1 0 -17 0zM1263 186.6a8.5 8.5 0 1 0 17 0a8.5 8.5 0 1 0 -17 0zM1266.7 185.4a8.5 8.5 0 1 0 17 0a8.5 8.5 0 1 0 -17 0zM1270.4 187.6a8.5 8.5 0 1 0 17 0a8.5 8.5 0 1 0 -17 0zM1274.1 190.1a8.5 8.5 0 1 0 17 0a8.5 8.5 0 1 0 -17 0zM1277.9 190.8a8.5 8.5 0 1 0 17 0a8.5 8.5 0 1 0 -17 0zM1281.6 187.5a8.5 8.5 0 1 0 17 0a8.5 8.5 0 1 0 -17 0zM1285.3 188.5a8.5 8.5 0 1 0 17 0a8.5 8.5 0 1 0 -17 0zM1289 190.8a8.5 8.5 0 1 0 17 0a8.5 8.5 0 1 0 -17 0zM1292.7 192.1a8.5 8.5 0 1 0 17 0a8.5 8.5 0 1 0 -17 0zM1296.5 187.9a8.5 8.5 0 1 0 17 0a8.5 8.5 0 1 0 -17 0zM1300.2 189.8a8.5 8.5 0 1 0 17 0a8.5 8.5 0 1 0 -17 0zM1303.9 182.6a8.5 8.5 0 1 0 17 0a8.5 8.5 0 1 0 -17 0zM1307.6 187.1a8.5 8.5 0 1 0 17 0a8.5 8.5 0 1 0 -17 0zM1311.3 190.6a8.5 8.5 0 1 0 17 0a8.5 8.5 0 1 0 -17 0zM1315 189.5a8.5 8.5 0 1 0 17 0a8.5 8.5 0 1 0 -17 0zM1318.8 189.1a8.5 8.5 0 1 0 17 0a8.5 8.5 0 1 0 -17 0zM1322.5 193.6a8.5 8.5 0 1 0 17 0a8.5 8.5 0 1 0 -17 0zM1326.2 188.8a8.5 8.5 0 1 0 17 0a8.5 8.5 0 1 0 -17 0zM1329.9 186.9a8.5 8.5 0 1 0 17 0a8.5 8.5 0 1 0 -17 0zM1333.6 190.1a8.5 8.5 0 1 0 17 0a8.5 8.5 0 1 0 -17 0zM1337.3 190.1a8.5 8.5 0 1 0 17 0a8.5 8.5 0 1 0 -17 0zM1341.1 186.8a8.5 8.5 0 1 0 17 0a8.5 8.5 0 1 0 -17 0zM1344.8 192.2a8.5 8.5 0 1 0 17 0a8.5 8.5 0 1 0 -17 0zM1348.5 193.9a8.5 8.5 0 1 0 17 0a8.5 8.5 0 1 0 -17 0zM1352.2 188.2a8.5 8.5 0 1 0 17 0a8.5 8.5 0 1 0 -17 0zM1355.9 187.5a8.5 8.5 0 1 0 17 0a8.5 8.5 0 1 0 -17 0zM1359.7 189.5a8.5 8.5 0 1 0 17 0a8.5 8.5 0 1 0 -17 0zM1363.4 192.9a8.5 8.5 0 1 0 17 0a8.5 8.5 0 1 0 -17 0zM1367.1 188.4a8.5 8.5 0 1 0 17 0a8.5 8.5 0 1 0 -17 0zM1370.8 188a8.5 8.5 0 1 0 17 0a8.5 8.5 0 1 0 -17 0zM1374.5 188.3a8.5 8.5 0 1 0 17 0a8.5 8.5 0 1 0 -17 0zM1378.2 190.4a8.5 8.5 0 1 0 17 0a8.5 8.5 0 1 0 -17 0zM1382 190.4a8.5 8.5 0 1 0 17 0a8.5 8.5 0 1 0 -17 0zM1385.7 189.4a8.5 8.5 0 1 0 17 0a8.5 8.5 0 1 0 -17 0zM1389.4 192.9a8.5 8.5 0 1 0 17 0a8.5 8.5 0 1 0 -17 0zM1393.1 195.5a8.5 8.5 0 1 0 17 0a8.5 8.5 0 1 0 -17 0zM1396.8 188.5a8.5 8.5 0 1 0 17 0a8.5 8.5 0 1 0 -17 0zM1400.6 192.5a8.5 8.5 0 1 0 17 0a8.5 8.5 0 1 0 -17 0zM1404.3 190.6a8.5 8.5 0 1 0 17 0a8.5 8.5 0 1 0 -17 0zM1408 197.5a8.5 8.5 0 1 0 17 0a8.5 8.5 0 1 0 -17 0zM1411.7 187.8a8.5 8.5 0 1 0 17 0a8.5 8.5 0 1 0 -17 0zM1415.4 189.2a8.5 8.5 0 1 0 17 0a8.5 8.5 0 1 0 -17 0zM1419.1 190.3a8.5 8.5 0 1 0 17 0a8.5 8.5 0 1 0 -17 0zM1422.9 186.5a8.5 8.5 0 1 0 17 0a8.5 8.5 0 1 0 -17 0zM1426.6 189.6a8.5 8.5 0 1 0 17 0a8.5 8.5 0 1 0 -17 0zM1430.3 191.9a8.5 8.5 0 1 0 17 0a8.5 8.5 0 1 0 -17 0zM1434 186.5a8.5 8.5 0 1 0 17 0a8.5 8.5 0 1 0 -17 0zM1437.7 190.4a8.5 8.5 0 1 0 17 0a8.5 8.5 0 1 0 -17 0zM1441.4 194.6a8.5 8.5 0 1 0 17 0a8.5 8.5 0 1 0 -17 0zM1445.2 188.7a8.5 8.5 0 1 0 17 0a8.5 8.5 0 1 0 -17 0zM1448.9 187.9a8.5 8.5 0 1 0 17 0a8.5 8.5 0 1 0 -17 0zM1452.6 183.8a8.5 8.5 0 1 0 17 0a8.5 8.5 0 1 0 -17 0zM1456.3 189.9a8.5 8.5 0 1 0 17 0a8.5 8.5 0 1 0 -17 0zM1460 186.1a8.5 8.5 0 1 0 17 0a8.5 8.5 0 1 0 -17 0zM1463.8 191.6a8.5 8.5 0 1 0 17 0a8.5 8.5 0 1 0 -17 0zM1467.5 194.4a8.5 8.5 0 1 0 17 0a8.5 8.5 0 1 0 -17 0zM1471.2 191.6a8.5 8.5 0 1 0 17 0a8.5 8.5 0 1 0 -17 0zM1474.9 188.3a8.5 8.5 0 1 0 17 0a8.5 8.5 0 1 0 -17 0zM1478.6 191.9a8.5 8.5 0 1 0 17 0a8.5 8.5 0 1 0 -17 0zM1482.3 189.1a8.5 8.5 0 1 0 17 0a8.5 8.5 0 1 0 -17 0zM1486.1 187.5a8.5 8.5 0 1 0 17 0a8.5 8.5 0 1 0 -17 0zM1489.8 189.1a8.5 8.5 0 1 0 17 0a8.5 8.5 0 1 0 -17 0zM1493.5 190.9a8.5 8.5 0 1 0 17 0a8.5 8.5 0 1 0 -17 0zM1497.2 189.4a8.5 8.5 0 1 0 17 0a8.5 8.5 0 1 0 -17 0zM1500.9 191.7a8.5 8.5 0 1 0 17 0a8.5 8.5 0 1 0 -17 0zM1504.7 195.7a8.5 8.5 0 1 0 17 0a8.5 8.5 0 1 0 -17 0zM1508.4 191.9a8.5 8.5 0 1 0 17 0a8.5 8.5 0 1 0 -17 0zM1512.1 192.3a8.5 8.5 0 1 0 17 0a8.5 8.5 0 1 0 -17 0zM1515.8 188.7a8.5 8.5 0 1 0 17 0a8.5 8.5 0 1 0 -17 0zM1519.5 193.8a8.5 8.5 0 1 0 17 0a8.5 8.5 0 1 0 -17 0zM1523.2 191.3a8.5 8.5 0 1 0 17 0a8.5 8.5 0 1 0 -17 0zM1527 193a8.5 8.5 0 1 0 17 0a8.5 8.5 0 1 0 -17 0zM1530.7 188.5a8.5 8.5 0 1 0 17 0a8.5 8.5 0 1 0 -17 0zM1534.4 191.1a8.5 8.5 0 1 0 17 0a8.5 8.5 0 1 0 -17 0zM1538.1 184.6a8.5 8.5 0 1 0 17 0a8.5 8.5 0 1 0 -17 0zM1541.8 189.6a8.5 8.5 0 1 0 17 0a8.5 8.5 0 1 0 -17 0zM1545.5 188.4a8.5 8.5 0 1 0 17 0a8.5 8.5 0 1 0 -17 0zM1549.3 188a8.5 8.5 0 1 0 17 0a8.5 8.5 0 1 0 -17 0zM1553 194.9a8.5 8.5 0 1 0 17 0a8.5 8.5 0 1 0 -17 0zM1556.7 186.7a8.5 8.5 0 1 0 17 0a8.5 8.5 0 1 0 -17 0zM1560.4 190.2a8.5 8.5 0 1 0 17 0a8.5 8.5 0 1 0 -17 0zM1564.1 190.2a8.5 8.5 0 1 0 17 0a8.5 8.5 0 1 0 -17 0zM1567.9 191.9a8.5 8.5 0 1 0 17 0a8.5 8.5 0 1 0 -17 0zM1571.6 193.1a8.5 8.5 0 1 0 17 0a8.5 8.5 0 1 0 -17 0zM1575.3 186.6a8.5 8.5 0 1 0 17 0a8.5 8.5 0 1 0 -17 0zM1579 189.3a8.5 8.5 0 1 0 17 0a8.5 8.5 0 1 0 -17 0zM1582.7 188.9a8.5 8.5 0 1 0 17 0a8.5 8.5 0 1 0 -17 0zM1586.4 192.4a8.5 8.5 0 1 0 17 0a8.5 8.5 0 1 0 -17 0zM1590.2 193a8.5 8.5 0 1 0 17 0a8.5 8.5 0 1 0 -17 0zM1593.9 189.7a8.5 8.5 0 1 0 17 0a8.5 8.5 0 1 0 -17 0zM1597.6 189.3a8.5 8.5 0 1 0 17 0a8.5 8.5 0 1 0 -17 0zM1601.3 188.2a8.5 8.5 0 1 0 17 0a8.5 8.5 0 1 0 -17 0zM1605 191.6a8.5 8.5 0 1 0 17 0a8.5 8.5 0 1 0 -17 0zM1608.8 194.9a8.5 8.5 0 1 0 17 0a8.5 8.5 0 1 0 -17 0zM1612.5 191.7a8.5 8.5 0 1 0 17 0a8.5 8.5 0 1 0 -17 0zM1616.2 189a8.5 8.5 0 1 0 17 0a8.5 8.5 0 1 0 -17 0zM1619.9 188.7a8.5 8.5 0 1 0 17 0a8.5 8.5 0 1 0 -17 0zM1623.6 189a8.5 8.5 0 1 0 17 0a8.5 8.5 0 1 0 -17 0zM1627.3 186.7a8.5 8.5 0 1 0 17 0a8.5 8.5 0 1 0 -17 0zM1631.1 195.1a8.5 8.5 0 1 0 17 0a8.5 8.5 0 1 0 -17 0zM1634.8 191a8.5 8.5 0 1 0 17 0a8.5 8.5 0 1 0 -17 0zM1638.5 190a8.5 8.5 0 1 0 17 0a8.5 8.5 0 1 0 -17 0zM1642.2 196.4a8.5 8.5 0 1 0 17 0a8.5 8.5 0 1 0 -17 0zM1645.9 191.4a8.5 8.5 0 1 0 17 0a8.5 8.5 0 1 0 -17 0zM1649.6 194.6a8.5 8.5 0 1 0 17 0a8.5 8.5 0 1 0 -17 0zM1653.4 191.6a8.5 8.5 0 1 0 17 0a8.5 8.5 0 1 0 -17 0zM1657.1 193.7a8.5 8.5 0 1 0 17 0a8.5 8.5 0 1 0 -17 0zM1660.8 191.1a8.5 8.5 0 1 0 17 0a8.5 8.5 0 1 0 -17 0zM1664.5 190a8.5 8.5 0 1 0 17 0a8.5 8.5 0 1 0 -17 0zM1668.2 192a8.5 8.5 0 1 0 17 0a8.5 8.5 0 1 0 -17 0zM1672 192.7a8.5 8.5 0 1 0 17 0a8.5 8.5 0 1 0 -17 0zM1675.7 193.7a8.5 8.5 0 1 0 17 0a8.5 8.5 0 1 0 -17 0zM1679.4 191.5a8.5 8.5 0 1 0 17 0a8.5 8.5 0 1 0 -17 0zM1683.1 190.4a8.5 8.5 0 1 0 17 0a8.5 8.5 0 1 0 -17 0zM1686.8 190.1a8.5 8.5 0 1 0 17 0a8.5 8.5 0 1 0 -17 0zM1690.5 191.8a8.5 8.5 0 1 0 17 0a8.5 8.5 0 1 0 -17 0zM1694.3 189.8a8.5 8.5 0 1 0 17 0a8.5 8.5 0 1 0 -17 0zM1698 190.2a8.5 8.5 0 1 0 17 0a8.5 8.5 0 1 0 -17 0zM1701.7 192.4a8.5 8.5 0 1 0 17 0a8.5 8.5 0 1 0 -17 0zM1705.4 192.5a8.5 8.5 0 1 0 17 0a8.5 8.5 0 1 0 -17 0zM1709.1 192.3a8.5 8.5 0 1 0 17 0a8.5 8.5 0 1 0 -17 0zM1712.9 189.2a8.5 8.5 0 1 0 17 0a8.5 8.5 0 1 0 -17 0zM1716.6 187.4a8.5 8.5 0 1 0 17 0a8.5 8.5 0 1 0 -17 0zM1720.3 191.7a8.5 8.5 0 1 0 17 0a8.5 8.5 0 1 0 -17 0zM1724 191.3a8.5 8.5 0 1 0 17 0a8.5 8.5 0 1 0 -17 0zM1727.7 190.1a8.5 8.5 0 1 0 17 0a8.5 8.5 0 1 0 -17 0zM1731.4 191.6a8.5 8.5 0 1 0 17 0a8.5 8.5 0 1 0 -17 0zM1735.2 193.2a8.5 8.5 0 1 0 17 0a8.5 8.5 0 1 0 -17 0zM1738.9 190.6a8.5 8.5 0 1 0 17 0a8.5 8.5 0 1 0 -17 0zM1742.6 192.1a8.5 8.5 0 1 0 17 0a8.5 8.5 0 1 0 -17 0zM1746.3 188.6a8.5 8.5 0 1 0 17 0a8.5 8.5 0 1 0 -17 0zM1750 190.5a8.5 8.5 0 1 0 17 0a8.5 8.5 0 1 0 -17 0zM1753.7 189a8.5 8.5 0 1 0 17 0a8.5 8.5 0 1 0 -17 0zM1757.5 187.5a8.5 8.5 0 1 0 17 0a8.5 8.5 0 1 0 -17 0zM1761.2 192.2a8.5 8.5 0 1 0 17 0a8.5 8.5 0 1 0 -17 0zM1764.9 184a8.5 8.5 0 1 0 17 0a8.5 8.5 0 1 0 -17 0zM1768.6 190.9a8.5 8.5 0 1 0 17 0a8.5 8.5 0 1 0 -17 0zM1772.3 193a8.5 8.5 0 1 0 17 0a8.5 8.5 0 1 0 -17 0zM1776.1 192.1a8.5 8.5 0 1 0 17 0a8.5 8.5 0 1 0 -17 0zM1779.8 187.2a8.5 8.5 0 1 0 17 0a8.5 8.5 0 1 0 -17 0zM1783.5 191.7a8.5 8.5 0 1 0 17 0a8.5 8.5 0 1 0 -17 0zM1787.2 186.5a8.5 8.5 0 1 0 17 0a8.5 8.5 0 1 0 -17 0zM1790.9 188.9a8.5 8.5 0 1 0 17 0a8.5 8.5 0 1 0 -17 0zM1794.6 194.7a8.5 8.5 0 1 0 17 0a8.5 8.5 0 1 0 -17 0zM1798.4 191.5a8.5 8.5 0 1 0 17 0a8.5 8.5 0 1 0 -17 0zM1802.1 194a8.5 8.5 0 1 0 17 0a8.5 8.5 0 1 0 -17 0zM1805.8 188.4a8.5 8.5 0 1 0 17 0a8.5 8.5 0 1 0 -17 0zM1809.5 185.9a8.5 8.5 0 1 0 17 0a8.5 8.5 0 1 0 -17 0zM1813.2 189.2a8.5 8.5 0 1 0 17 0a8.5 8.5 0 1 0 -17 0zM1817 194.3a8.5 8.5 0 1 0 17 0a8.5 8.5 0 1 0 -17 0zM1820.7 193.4a8.5 8.5 0 1 0 17 0a8.5 8.5 0 1 0 -17 0zM1824.4 193.8a8.5 8.5 0 1 0 17 0a8.5 8.5 0 1 0 -17 0zM1828.1 190.8a8.5 8.5 0 1 0 17 0a8.5 8.5 0 1 0 -17 0zM1831.8 190.9a8.5 8.5 0 1 0 17 0a8.5 8.5 0 1 0 -17 0zM1835.5 190.6a8.5 8.5 0 1 0 17 0a8.5 8.5 0 1 0 -17 0zM1839.3 198.4a8.5 8.5 0 1 0 17 0a8.5 8.5 0 1 0 -17 0zM1843 191.4a8.5 8.5 0 1 0 17 0a8.5 8.5 0 1 0 -17 0zM1846.7 195.6a8.5 8.5 0 1 0 17 0a8.5 8.5 0 1 0 -17 0zM1850.4 190.7a8.5 8.5 0 1 0 17 0a8.5 8.5 0 1 0 -17 0zM1854.1 194.6a8.5 8.5 0 1 0 17 0a8.5 8.5 0 1 0 -17 0zM1857.8 188.5a8.5 8.5 0 1 0 17 0a8.5 8.5 0 1 0 -17 0zM1861.6 189.9a8.5 8.5 0 1 0 17 0a8.5 8.5 0 1 0 -17 0zM1865.3 192.1a8.5 8.5 0 1 0 17 0a8.5 8.5 0 1 0 -17 0zM1869 189.7a8.5 8.5 0 1 0 17 0a8.5 8.5 0 1 0 -17 0zM1872.7 190.2a8.5 8.5 0 1 0 17 0a8.5 8.5 0 1 0 -17 0zM1876.4 190.8a8.5 8.5 0 1 0 17 0a8.5 8.5 0 1 0 -17 0zM1880.2 189.8a8.5 8.5 0 1 0 17 0a8.5 8.5 0 1 0 -17 0zM1883.9 195.1a8.5 8.5 0 1 0 17 0a8.5 8.5 0 1 0 -17 0zM1887.6 194a8.5 8.5 0 1 0 17 0a8.5 8.5 0 1 0 -17 0zM1891.3 187.7a8.5 8.5 0 1 0 17 0a8.5 8.5 0 1 0 -17 0zM1895 195.5a8.5 8.5 0 1 0 17 0a8.5 8.5 0 1 0 -17 0zM1898.7 191.1a8.5 8.5 0 1 0 17 0a8.5 8.5 0 1 0 -17 0zM1902.5 191.1a8.5 8.5 0 1 0 17 0a8.5 8.5 0 1 0 -17 0zM1906.2 190.8a8.5 8.5 0 1 0 17 0a8.5 8.5 0 1 0 -17 0zM1909.9 193.4a8.5 8.5 0 1 0 17 0a8.5 8.5 0 1 0 -17 0zM1913.6 193a8.5 8.5 0 1 0 17 0a8.5 8.5 0 1 0 -17 0zM1917.3 189.9a8.5 8.5 0 1 0 17 0a8.5 8.5 0 1 0 -17 0zM1921.1 191.4a8.5 8.5 0 1 0 17 0a8.5 8.5 0 1 0 -17 0zM1924.8 188a8.5 8.5 0 1 0 17 0a8.5 8.5 0 1 0 -17 0zM1928.5 195.9a8.5 8.5 0 1 0 17 0a8.5 8.5 0 1 0 -17 0zM1932.2 189.1a8.5 8.5 0 1 0 17 0a8.5 8.5 0 1 0 -17 0zM1935.9 189a8.5 8.5 0 1 0 17 0a8.5 8.5 0 1 0 -17 0zM1939.6 189.5a8.5 8.5 0 1 0 17 0a8.5 8.5 0 1 0 -17 0zM1943.4 191.6a8.5 8.5 0 1 0 17 0a8.5 8.5 0 1 0 -17 0zM1947.1 193.2a8.5 8.5 0 1 0 17 0a8.5 8.5 0 1 0 -17 0zM1950.8 190.4a8.5 8.5 0 1 0 17 0a8.5 8.5 0 1 0 -17 0zM1954.5 191.4a8.5 8.5 0 1 0 17 0a8.5 8.5 0 1 0 -17 0zM1958.2 190.4a8.5 8.5 0 1 0 17 0a8.5 8.5 0 1 0 -17 0zM1961.9 194.5a8.5 8.5 0 1 0 17 0a8.5 8.5 0 1 0 -17 0zM1965.7 191.9a8.5 8.5 0 1 0 17 0a8.5 8.5 0 1 0 -17 0zM1969.4 187.1a8.5 8.5 0 1 0 17 0a8.5 8.5 0 1 0 -17 0zM1973.1 195a8.5 8.5 0 1 0 17 0a8.5 8.5 0 1 0 -17 0zM1976.8 192.2a8.5 8.5 0 1 0 17 0a8.5 8.5 0 1 0 -17 0zM1980.5 196.1a8.5 8.5 0 1 0 17 0a8.5 8.5 0 1 0 -17 0zM1984.3 189.8a8.5 8.5 0 1 0 17 0a8.5 8.5 0 1 0 -17 0zM1988 190.1a8.5 8.5 0 1 0 17 0a8.5 8.5 0 1 0 -17 0zM1991.7 190.9a8.5 8.5 0 1 0 17 0a8.5 8.5 0 1 0 -17 0zM1995.4 187.8a8.5 8.5 0 1 0 17 0a8.5 8.5 0 1 0 -17 0zM1999.1 190.4a8.5 8.5 0 1 0 17 0a8.5 8.5 0 1 0 -17 0zM2002.8 194.5a8.5 8.5 0 1 0 17 0a8.5 8.5 0 1 0 -17 0zM2006.6 193.1a8.5 8.5 0 1 0 17 0a8.5 8.5 0 1 0 -17 0zM2010.3 185.3a8.5 8.5 0 1 0 17 0a8.5 8.5 0 1 0 -17 0zM2014 194.6a8.5 8.5 0 1 0 17 0a8.5 8.5 0 1 0 -17 0zM2017.7 192.3a8.5 8.5 0 1 0 17 0a8.5 8.5 0 1 0 -17 0zM2021.4 193.4a8.5 8.5 0 1 0 17 0a8.5 8.5 0 1 0 -17 0zM2025.2 191.5a8.5 8.5 0 1 0 17 0a8.5 8.5 0 1 0 -17 0zM2028.9 191.9a8.5 8.5 0 1 0 17 0a8.5 8.5 0 1 0 -17 0zM2032.6 191.5a8.5 8.5 0 1 0 17 0a8.5 8.5 0 1 0 -17 0zM2036.3 191.5a8.5 8.5 0 1 0 17 0a8.5 8.5 0 1 0 -17 0zM2040 188.8a8.5 8.5 0 1 0 17 0a8.5 8.5 0 1 0 -17 0zM2043.7 194a8.5 8.5 0 1 0 17 0a8.5 8.5 0 1 0 -17 0zM2047.5 191.9a8.5 8.5 0 1 0 17 0a8.5 8.5 0 1 0 -17 0zM2051.2 192.4a8.5 8.5 0 1 0 17 0a8.5 8.5 0 1 0 -17 0zM2054.9 192.3a8.5 8.5 0 1 0 17 0a8.5 8.5 0 1 0 -17 0zM2058.6 190.6a8.5 8.5 0 1 0 17 0a8.5 8.5 0 1 0 -17 0zM2062.3 191.3a8.5 8.5 0 1 0 17 0a8.5 8.5 0 1 0 -17 0zM2066 188.1a8.5 8.5 0 1 0 17 0a8.5 8.5 0 1 0 -17 0zM2069.8 192.1a8.5 8.5 0 1 0 17 0a8.5 8.5 0 1 0 -17 0zM2073.5 192.1a8.5 8.5 0 1 0 17 0a8.5 8.5 0 1 0 -17 0zM2077.2 190.8a8.5 8.5 0 1 0 17 0a8.5 8.5 0 1 0 -17 0zM2080.9 187.1a8.5 8.5 0 1 0 17 0a8.5 8.5 0 1 0 -17 0zM2084.6 194.8a8.5 8.5 0 1 0 17 0a8.5 8.5 0 1 0 -17 0zM2088.4 191a8.5 8.5 0 1 0 17 0a8.5 8.5 0 1 0 -17 0zM2092.1 191.4a8.5 8.5 0 1 0 17 0a8.5 8.5 0 1 0 -17 0zM2095.8 190.7a8.5 8.5 0 1 0 17 0a8.5 8.5 0 1 0 -17 0zM2099.5 189.9a8.5 8.5 0 1 0 17 0a8.5 8.5 0 1 0 -17 0zM2103.2 190.4a8.5 8.5 0 1 0 17 0a8.5 8.5 0 1 0 -17 0zM2106.9 188.7a8.5 8.5 0 1 0 17 0a8.5 8.5 0 1 0 -17 0zM2110.7 190a8.5 8.5 0 1 0 17 0a8.5 8.5 0 1 0 -17 0zM2114.4 196.6a8.5 8.5 0 1 0 17 0a8.5 8.5 0 1 0 -17 0zM2118.1 194.4a8.5 8.5 0 1 0 17 0a8.5 8.5 0 1 0 -17 0zM2121.8 196.5a8.5 8.5 0 1 0 17 0a8.5 8.5 0 1 0 -17 0zM2125.5 189.9a8.5 8.5 0 1 0 17 0a8.5 8.5 0 1 0 -17 0zM2129.3 186.7a8.5 8.5 0 1 0 17 0a8.5 8.5 0 1 0 -17 0zM2133 188.1a8.5 8.5 0 1 0 17 0a8.5 8.5 0 1 0 -17 0zM2136.7 184.9a8.5 8.5 0 1 0 17 0a8.5 8.5 0 1 0 -17 0zM2140.4 194.2a8.5 8.5 0 1 0 17 0a8.5 8.5 0 1 0 -17 0zM2144.1 194.5a8.5 8.5 0 1 0 17 0a8.5 8.5 0 1 0 -17 0zM2147.8 191.7a8.5 8.5 0 1 0 17 0a8.5 8.5 0 1 0 -17 0zM2151.6 192.4a8.5 8.5 0 1 0 17 0a8.5 8.5 0 1 0 -17 0zM2155.3 192.4a8.5 8.5 0 1 0 17 0a8.5 8.5 0 1 0 -17 0zM2159 191.2a8.5 8.5 0 1 0 17 0a8.5 8.5 0 1 0 -17 0zM2162.7 193.3a8.5 8.5 0 1 0 17 0a8.5 8.5 0 1 0 -17 0zM2166.4 189a8.5 8.5 0 1 0 17 0a8.5 8.5 0 1 0 -17 0zM2170.1 190.4a8.5 8.5 0 1 0 17 0a8.5 8.5 0 1 0 -17 0zM2173.9 191.1a8.5 8.5 0 1 0 17 0a8.5 8.5 0 1 0 -17 0zM2177.6 187.2a8.5 8.5 0 1 0 17 0a8.5 8.5 0 1 0 -17 0zM2181.3 189a8.5 8.5 0 1 0 17 0a8.5 8.5 0 1 0 -17 0zM2185 192.6a8.5 8.5 0 1 0 17 0a8.5 8.5 0 1 0 -17 0zM2188.7 192.4a8.5 8.5 0 1 0 17 0a8.5 8.5 0 1 0 -17 0zM2192.5 185.3a8.5 8.5 0 1 0 17 0a8.5 8.5 0 1 0 -17 0zM2196.2 193.8a8.5 8.5 0 1 0 17 0a8.5 8.5 0 1 0 -17 0zM2199.9 192.4a8.5 8.5 0 1 0 17 0a8.5 8.5 0 1 0 -17 0zM2203.6 193.4a8.5 8.5 0 1 0 17 0a8.5 8.5 0 1 0 -17 0zM2207.3 191.4a8.5 8.5 0 1 0 17 0a8.5 8.5 0 1 0 -17 0zM2211 193a8.5 8.5 0 1 0 17 0a8.5 8.5 0 1 0 -17 0zM2214.8 188.3a8.5 8.5 0 1 0 17 0a8.5 8.5 0 1 0 -17 0zM2218.5 191a8.5 8.5 0 1 0 17 0a8.5 8.5 0 1 0 -17 0zM2222.2 188.9a8.5 8.5 0 1 0 17 0a8.5 8.5 0 1 0 -17 0zM2225.9 190.2a8.5 8.5 0 1 0 17 0a8.5 8.5 0 1 0 -17 0zM2229.6 194.5a8.5 8.5 0 1 0 17 0a8.5 8.5 0 1 0 -17 0zM2233.4 195.6a8.5 8.5 0 1 0 17 0a8.5 8.5 0 1 0 -17 0zM2237.1 191.6a8.5 8.5 0 1 0 17 0a8.5 8.5 0 1 0 -17 0zM2240.8 190.4a8.5 8.5 0 1 0 17 0a8.5 8.5 0 1 0 -17 0zM2244.5 193.5a8.5 8.5 0 1 0 17 0a8.5 8.5 0 1 0 -17 0zM2248.2 192.7a8.5 8.5 0 1 0 17 0a8.5 8.5 0 1 0 -17 0zM2251.9 196.4a8.5 8.5 0 1 0 17 0a8.5 8.5 0 1 0 -17 0zM2255.7 193.1a8.5 8.5 0 1 0 17 0a8.5 8.5 0 1 0 -17 0zM2259.4 185.7a8.5 8.5 0 1 0 17 0a8.5 8.5 0 1 0 -17 0zM2263.1 191.7a8.5 8.5 0 1 0 17 0a8.5 8.5 0 1 0 -17 0zM2266.8 190.8a8.5 8.5 0 1 0 17 0a8.5 8.5 0 1 0 -17 0zM2270.5 189.6a8.5 8.5 0 1 0 17 0a8.5 8.5 0 1 0 -17 0zM2274.2 191.9a8.5 8.5 0 1 0 17 0a8.5 8.5 0 1 0 -17 0zM2278 191.7a8.5 8.5 0 1 0 17 0a8.5 8.5 0 1 0 -17 0zM2281.7 190.7a8.5 8.5 0 1 0 17 0a8.5 8.5 0 1 0 -17 0zM2285.4 195.4a8.5 8.5 0 1 0 17 0a8.5 8.5 0 1 0 -17 0z" fill="none" stroke="#ec8080" stroke-width="1.6"/>
<path d="M353.3 174.3l11 -22l11 22zM357.1 175.8l11 -22l11 22zM360.8 177.3l11 -22l11 22zM364.5 177.8l11 -22l11 22zM368.2 177.2l11 -22l11 22zM371.9 182.3l11 -22l11 22zM375.6 179.7l11 -22l11 22zM379.4 180.1l11 -22l11 22zM383.1 179.8l11 -22l11 22zM386.8 177.1l11 -22l11 22zM390.5 176.5l11 -22l11 22zM394.2 181.7l11 -22l11 22zM398 178.2l11 -22l11 22zM401.7 174l11 -22l11 22zM405.4 172.7l11 -22l11 22zM409.1 180l11 -22l11 22zM412.8 177.2l11 -22l11 22zM416.5 179.2l11 -22l11 22zM420.3 177.8l11 -22l11 22zM424 178.2l11 -22l11 22zM427.7 179l11 -22l11 22zM431.4 175.8l11 -22l11 22zM435.1 179.5l11 -22l11 22zM438.8 182.5l11 -22l11 22zM442.6 181.7l11 -22l11 22zM446.3 174.4l11 -22l11 22zM450 175.7l11 -22l11 22zM453.7 175.7l11 -22l11 22zM457.4 179l11 -22l11 22zM461.2 182.3l11 -22l11 22zM464.9 180.8l11 -22l11 22zM468.6 174.6l11 -22l11 22zM472.3 180l11 -22l11 22zM476 182.3l11 -22l11 22zM479.7 178.6l11 -22l11 22zM483.5 185.7l11 -22l11 22zM487.2 178l11 -22l11 22zM490.9 183.6l11 -22l11 22zM494.6 187.3l11 -22l11 22zM498.3 176.6l11 -22l11 22zM502 179.7l11 -22l11 22zM505.8 182.6l11 -22l11 22zM509.5 190.7l11 -22l11 22zM513.2 175.8l11 -22l11 22zM516.9 183.1l11 -22l11 22zM520.6 182.4l11 -22l11 22zM524.4 180.5l11 -22l11 22zM528.1 179.4l11 -22l11 22zM531.8 180.6l11 -22l11 22zM535.5 181.4l11 -22l11 22zM539.2 178.7l11 -22l11 22zM542.9 187.4l11 -22l11 22zM546.7 179.6l11 -22l11 22zM550.4 181.8l11 -22l11 22zM554.1 181.3l11 -22l11 22zM557.8 182.2l11 -22l11 22zM561.5 183.9l11 -22l11 22zM565.3 181.5l11 -22l11 22zM569 183.3l11 -22l11 22zM572.7 189.4l11 -22l11 22zM576.4 187.5l11 -22l11 22zM580.1 183.7l11 -22l11 22zM583.8 187.5l11 -22l11 22zM587.6 182.6l11 -22l11 22zM591.3 185.7l11 -22l11 22zM595 180.9l11 -22l11 22zM598.7 181.9l11 -22l11 22zM602.4 182.8l11 -22l11 22zM606.1 189.2l11 -22l11 22zM609.9 186.3l11 -22l11 22zM613.6 187.4l11 -22l11 22zM617.3 186.3l11 -22l11 22zM621 187.1l11 -22l11 22zM624.7 187.4l11 -22l11 22zM628.5 188.5l11 -22l11 22zM632.2 186.8l11 -22l11 22zM635.9 183.7l11 -22l11 22zM639.6 184.2l11 -22l11 22zM643.3 190.3l11 -22l11 22zM647 191l11 -22l11 22zM650.8 188.6l11 -22l11 22zM654.5 182.1l11 -22l11 22zM658.2 191.9l11 -22l11 22zM661.9 188.2l11 -22l11 22zM665.6 187.1l11 -22l11 22zM669.4 187.5l11 -22l11 22zM673.1 186.5l11 -22l11 22zM676.8 193l11 -22l11 22zM680.5 192.9l11 -22l11 22zM684.2 184.7l11 -22l11 22zM687.9 187.5l11 -22l11 22zM691.7 189.1l11 -22l11 22zM695.4 192.1l11 -22l11 22zM699.1 181.1l11 -22l11 22zM702.8 191.3l11 -22l11 22zM706.5 193.6l11 -22l11 22zM710.2 187.7l11 -22l11 22zM714 188.7l11 -22l11 22zM717.7 192.7l11 -22l11 22zM721.4 190.2l11 -22l11 22zM725.1 185.1l11 -22l11 22zM728.8 185.8l11 -22l11 22zM732.6 186.3l11 -22l11 22zM736.3 185.2l11 -22l11 22zM740 189.6l11 -22l11 22zM743.7 188.2l11 -22l11 22zM747.4 190l11 -22l11 22zM751.1 192.1l11 -22l11 22zM754.9 195.4l11 -22l11 22zM758.6 190.8l11 -22l11 22zM762.3 184.7l11 -22l11 22zM766 194.6l11 -22l11 22zM769.7 190.2l11 -22l11 22zM773.5 194.1l11 -22l11 22zM777.2 189.4l11 -22l11 22zM780.9 191.8l11 -22l11 22zM784.6 190.6l11 -22l11 22zM788.3 191l11 -22l11 22zM792 195l11 -22l11 22zM795.8 189.3l11 -22l11 22zM799.5 191.9l11 -22l11 22zM803.2 192.2l11 -22l11 22zM806.9 190.5l11 -22l11 22zM810.6 185.2l11 -22l11 22zM814.3 192.9l11 -22l11 22zM818.1 183.5l11 -22l11 22zM821.8 187.6l11 -22l11 22zM825.5 190.8l11 -22l11 22zM829.2 193.6l11 -22l11 22zM832.9 195l11 -22l11 22zM836.7 195.1l11 -22l11 22zM840.4 194.5l11 -22l11 22zM844.1 191.7l11 -22l11 22zM847.8 196.6l11 -22l11 22zM851.5 192.2l11 -22l11 22zM855.2 196.5l11 -22l11 22zM859 186.6l11 -22l11 22zM862.7 190.5l11 -22l11 22zM866.4 191.8l11 -22l11 22zM870.1 193.6l11 -22l11 22zM873.8 186.6l11 -22l11 22zM877.6 196.3l11 -22l11 22zM881.3 197l11 -22l11 22zM885 196.5l11 -22l11 22zM888.7 192.7l11 -22l11 22zM892.4 198.8l11 -22l11 22zM896.1 192.9l11 -22l11 22zM899.9 197.4l11 -22l11 22zM903.6 194.6l11 -22l11 22zM907.3 194.8l11 -22l11 22zM911 194.6l11 -22l11 22zM914.7 195.1l11 -22l11 22zM918.4 198.6l11 -22l11 22zM922.2 199.7l11 -22l11 22zM925.9 199.8l11 -22l11 22zM929.6 198.4l11 -22l11 22zM933.3 197.8l11 -22l11 22zM937 197.2l11 -22l11 22zM940.8 201.3l11 -22l11 22zM944.5 194.8l11 -22l11 22zM948.2 194.4l11 -22l11 22zM951.9 196.5l11 -22l11 22zM955.6 191.5l11 -22l11 22zM959.3 195.9l11 -22l11 22zM963.1 196.6l11 -22l11 22zM966.8 193.8l11 -22l11 22zM970.5 195.3l11 -22l11 22zM974.2 199.2l11 -22l11 22zM977.9 196.6l11 -22l11 22zM981.7 197.6l11 -22l11 22zM985.4 200.6l11 -22l11 22zM989.1 195.8l11 -22l11 22zM992.8 194.3l11 -22l11 22zM996.5 197.7l11 -22l11 22zM1000.2 199.3l11 -22l11 22zM1004 192.7l11 -22l11 22zM1007.7 200.2l11 -22l11 22zM1011.4 197.4l11 -22l11 22zM1015.1 197.2l11 -22l11 22zM1018.8 196l11 -22l11 22zM1022.5 198.2l11 -22l11 22zM1026.3 201.8l11 -22l11 22zM1030 200.5l11 -22l11 22zM1033.7 201.4l11 -22l11 22zM1037.4 197.9l11 -22l11 22zM1041.1 203.8l11 -22l11 22zM1044.9 202.9l11 -22l11 22zM1048.6 199l11 -22l11 22zM1052.3 191.2l11 -22l11 22zM1056 199.3l11 -22l11 22zM1059.7 207.4l11 -22l11 22zM1063.4 199l11 -22l11 22zM1067.2 196.1l11 -22l11 22zM1070.9 204.3l11 -22l11 22zM1074.6 197.4l11 -22l11 22zM1078.3 200.7l11 -22l11 22zM1082 201.5l11 -22l11 22zM1085.8 194.8l11 -22l11 22zM1089.5 199.7l11 -22l11 22zM1093.2 202.9l11 -22l11 22zM1096.9 198.3l11 -22l11 22zM1100.6 201.3l11 -22l11 22zM1104.3 199.3l11 -22l11 22zM1108.1 202.5l11 -22l11 22zM1111.8 205l11 -22l11 22zM1115.5 196.1l11 -22l11 22zM1119.2 198.6l11 -22l11 22zM1122.9 200.6l11 -22l11 22zM1126.6 197.6l11 -22l11 22zM1130.4 197l11 -22l11 22zM1134.1 198.5l11 -22l11 22zM1137.8 198.7l11 -22l11 22zM1141.5 197.6l11 -22l11 22zM1145.2 200.6l11 -22l11 22zM1149 202l11 -22l11 22zM1152.7 201.9l11 -22l11 22zM1156.4 201.7l11 -22l11 22zM1160.1 203.2l11 -22l11 22zM1163.8 195.6l11 -22l11 22zM1167.5 199.3l11 -22l11 22zM1171.3 200.3l11 -22l11 22zM1175 201.3l11 -22l11 22zM1178.7 194.9l11 -22l11 22zM1182.4 205.4l11 -22l11 22zM1186.1 197.1l11 -22l11 22zM1189.9 200.6l11 -22l11 22zM1193.6 202l11 -22l11 22zM1197.3 203.1l11 -22l11 22zM1201 197.8l11 -22l11 22zM1204.7 198.3l11 -22l11 22zM1208.4 201l11 -22l11 22zM1212.2 201.7l11 -22l11 22zM1215.9 202.7l11 -22l11 22zM1219.6 199.8l11 -22l11 22zM1223.3 197.9l11 -22l11 22zM1227 196l11 -22l11 22zM1230.7 205.2l11 -22l11 22zM1234.5 195.9l11 -22l11 22zM1238.2 202.1l11 -22l11 22zM1241.9 200.9l11 -22l11 22zM1245.6 202.4l11 -22l11 22zM1249.3 203l11 -22l11 22zM1253.1 204.2l11 -22l11 22zM1256.8 200l11 -22l11 22zM1260.5 201.4l11 -22l11 22zM1264.2 194.3l11 -22l11 22zM1267.9 200.3l11 -22l11 22zM1271.6 197.5l11 -22l11 22zM1275.4 199.8l11 -22l11 22zM1279.1 204l11 -22l11 22zM1282.8 200.6l11 -22l11 22zM1286.5 203.6l11 -22l11 22zM1290.2 199.7l11 -22l11 22zM1294 201.5l11 -22l11 22zM1297.7 199.1l11 -22l11 22zM1301.4 192.7l11 -22l11 22zM1305.1 198.3l11 -22l11 22zM1308.8 199.6l11 -22l11 22zM1312.5 200.9l11 -22l11 22zM1316.3 200.5l11 -22l11 22zM1320 200.1l11 -22l11 22zM1323.7 203.3l11 -22l11 22zM1327.4 202.4l11 -22l11 22zM1331.1 199.3l11 -22l11 22zM1334.8 203.2l11 -22l11 22zM1338.6 194.6l11 -22l11 22zM1342.3 199.7l11 -22l11 22zM1346 200.2l11 -22l11 22zM1349.7 204.5l11 -22l11 22zM1353.4 199l11 -22l11 22zM1357.2 196.2l11 -22l11 22zM1360.9 201.2l11 -22l11 22zM1364.6 205.8l11 -22l11 22zM1368.3 200.1l11 -22l11 22zM1372 200.4l11 -22l11 22zM1375.7 200.1l11 -22l11 22zM1379.5 200.9l11 -22l11 22zM1383.2 204.7l11 -22l11 22zM1386.9 206.7l11 -22l11 22zM1390.6 202.3l11 -22l11 22zM1394.3 200.6l11 -22l11 22zM1398.1 206.4l11 -22l11 22zM1401.8 201.2l11 -22l11 22zM1405.5 201.1l11 -22l11 22zM1409.2 199.9l11 -22l11 22zM1412.9 200l11 -22l11 22zM1416.6 201.7l11 -22l11 22zM1420.4 200.1l11 -22l11 22zM1424.1 202.3l11 -22l11 22zM1427.8 201.3l11 -22l11 22zM1431.5 202.7l11 -22l11 22zM1435.2 199.9l11 -22l11 22zM1438.9 200.5l11 -22l11 22zM1442.7 201.8l11 -22l11 22zM1446.4 201.3l11 -22l11 22zM1450.1 201.4l11 -22l11 22zM1453.8 204.7l11 -22l11 22zM1457.5 197.9l11 -22l11 22zM1461.3 195.3l11 -22l11 22zM1465 203.4l11 -22l11 22zM1468.7 200.5l11 -22l11 22zM1472.4 205.3l11 -22l11 22zM1476.1 201l11 -22l11 22zM1479.8 197.7l11 -22l11 22zM1483.6 207.8l11 -22l11 22zM1487.3 202.5l11 -22l11 22zM1491 199.9l11 -22l11 22zM1494.7 199l11 -22l11 22zM1498.4 203l11 -22l11 22zM1502.2 199.3l11 -22l11 22zM1505.9 202.5l11 -22l11 22zM1509.6 204.8l11 -22l11 22zM1513.3 197.2l11 -22l11 22zM1517 200.3l11 -22l11 22zM1520.7 202.8l11 -22l11 22zM1524.5 206.4l11 -22l11 22zM1528.2 204.2l11 -22l11 22zM1531.9 200.1l11 -22l11 22zM1535.6 205.8l11 -22l11 22zM1539.3 200.4l11 -22l11 22zM1543 201l11 -22l11 22zM1546.8 202.6l11 -22l11 22zM1550.5 198.2l11 -22l11 22zM1554.2 210.7l11 -22l11 22zM1557.9 205.1l11 -22l11 22zM1561.6 202.2l11 -22l11 22zM1565.4 199.9l11 -22l11 22zM1569.1 198.1l11 -22l11 22zM1572.8 202.7l11 -22l11 22zM1576.5 203.7l11 -22l11 22zM1580.2 200.4l11 -22l11 22zM1583.9 201l11 -22l11 22zM1587.7 203.3l11 -22l11 22zM1591.4 201.5l11 -22l11 22zM1595.1 196.1l11 -22l11 22zM1598.8 203.7l11 -22l11 22zM1602.5 202.4l11 -22l11 22zM1606.3 203.9l11 -22l11 22zM1610 199.5l11 -22l11 22zM1613.7 195.4l11 -22l11 22zM1617.4 198l11 -22l11 22zM1621.1 202.7l11 -22l11 22zM1624.8 208l11 -22l11 22zM1628.6 208.8l11 -22l11 22zM1632.3 202.7l11 -22l11 22zM1636 197.4l11 -22l11 22zM1639.7 200.8l11 -22l11 22zM1643.4 203.2l11 -22l11 22zM1647.1 203.2l11 -22l11 22zM1650.9 202.2l11 -22l11 22zM1654.6 205.9l11 -22l11 22zM1658.3 199.2l11 -22l11 22zM1662 195.4l11 -22l11 22zM1665.7 199.3l11 -22l11 22zM1669.5 198.5l11 -22l11 22zM1673.2 208.7l11 -22l11 22zM1676.9 201.4l11 -22l11 22zM1680.6 197.7l11 -22l11 22zM1684.3 203.8l11 -22l11 22zM1688 205l11 -22l11 22zM1691.8 202.2l11 -22l11 22zM1695.5 202.6l11 -22l11 22zM1699.2 205.1l11 -22l11 22zM1702.9 203.6l11 -22l11 22zM1706.6 199.9l11 -22l11 22zM1710.4 203.8l11 -22l11 22zM1714.1 204.8l11 -22l11 22zM1717.8 203.1l11 -22l11 22zM1721.5 204.7l11 -22l11 22zM1725.2 203.8l11 -22l11 22zM1728.9 201.3l11 -22l11 22zM1732.7 201.6l11 -22l11 22zM1736.4 203.9l11 -22l11 22zM1740.1 200.4l11 -22l11 22zM1743.8 205.5l11 -22l11 22zM1747.5 205.7l11 -22l11 22zM1751.2 196l11 -22l11 22zM1755 201.9l11 -22l11 22zM1758.7 199.8l11 -22l11 22zM1762.4 200.2l11 -22l11 22zM1766.1 202.5l11 -22l11 22zM1769.8 201.6l11 -22l11 22zM1773.6 203.8l11 -22l11 22zM1777.3 203l11 -22l11 22zM1781 203.2l11 -22l11 22zM1784.7 199.7l11 -22l11 22zM1788.4 201l11 -22l11 22zM1792.1 206.5l11 -22l11 22zM1795.9 194.7l11 -22l11 22zM1799.6 207.3l11 -22l11 22zM1803.3 200.4l11 -22l11 22zM1807 205.6l11 -22l11 22zM1810.7 194.3l11 -22l11 22zM1814.5 200.9l11 -22l11 22zM1818.2 204.7l11 -22l11 22zM1821.9 202.6l11 -22l11 22zM1825.6 205.2l11 -22l11 22zM1829.3 199.5l11 -22l11 22zM1833 200.4l11 -22l11 22zM1836.8 200.2l11 -22l11 22zM1840.5 203.7l11 -22l11 22zM1844.2 203.5l11 -22l11 22zM1847.9 201.8l11 -22l11 22zM1851.6 201.3l11 -22l11 22zM1855.3 201.3l11 -22l11 22zM1859.1 202.4l11 -22l11 22zM1862.8 199.3l11 -22l11 22zM1866.5 202l11 -22l11 22zM1870.2 201.7l11 -22l11 22zM1873.9 200.5l11 -22l11 22zM1877.7 200.5l11 -22l11 22zM1881.4 206.6l11 -22l11 22zM1885.1 200.3l11 -22l11 22zM1888.8 203.4l11 -22l11 22zM1892.5 206.3l11 -22l11 22zM1896.2 204.4l11 -22l11 22zM1900 202.2l11 -22l11 22zM1903.7 205.2l11 -22l11 22zM1907.4 197.9l11 -22l11 22zM1911.1 198.5l11 -22l11 22zM1914.8 201l11 -22l11 22zM1918.6 201.5l11 -22l11 22zM1922.3 201.9l11 -22l11 22zM1926 207.8l11 -22l11 22zM1929.7 207.3l11 -22l11 22zM1933.4 202.1l11 -22l11 22zM1937.1 203l11 -22l11 22zM1940.9 199.5l11 -22l11 22zM1944.6 203.2l11 -22l11 22zM1948.3 198.2l11 -22l11 22zM1952 206.4l11 -22l11 22zM1955.7 200.7l11 -22l11 22zM1959.4 203.9l11 -22l11 22zM1963.2 198.3l11 -22l11 22zM1966.9 206.4l11 -22l11 22zM1970.6 204.1l11 -22l11 22zM1974.3 208.1l11 -22l11 22zM1978 202.4l11 -22l11 22zM1981.8 197.4l11 -22l11 22zM1985.5 199.9l11 -22l11 22zM1989.2 198.5l11 -22l11 22zM1992.9 207l11 -22l11 22zM1996.6 200.4l11 -22l11 22zM2000.3 200l11 -22l11 22zM2004.1 204.1l11 -22l11 22zM2007.8 203.1l11 -22l11 22zM2011.5 203.8l11 -22l11 22zM2015.2 200.8l11 -22l11 22zM2018.9 196.3l11 -22l11 22zM2022.7 198.2l11 -22l11 22zM2026.4 195.7l11 -22l11 22zM2030.1 206.1l11 -22l11 22zM2033.8 205l11 -22l11 22zM2037.5 201.2l11 -22l11 22zM2041.2 204.2l11 -22l11 22zM2045 204.3l11 -22l11 22zM2048.7 204.2l11 -22l11 22zM2052.4 203.9l11 -22l11 22zM2056.1 205l11 -22l11 22zM2059.8 202.6l11 -22l11 22zM2063.5 195.7l11 -22l11 22zM2067.3 194l11 -22l11 22zM2071 206.1l11 -22l11 22zM2074.7 204.1l11 -22l11 22zM2078.4 194.8l11 -22l11 22zM2082.1 202.9l11 -22l11 22zM2085.9 199.7l11 -22l11 22zM2089.6 200.7l11 -22l11 22zM2093.3 194.5l11 -22l11 22zM2097 204.7l11 -22l11 22zM2100.7 202.1l11 -22l11 22zM2104.4 204.8l11 -22l11 22zM2108.2 205.6l11 -22l11 22zM2111.9 206.2l11 -22l11 22zM2115.6 207.3l11 -22l11 22zM2119.3 203.2l11 -22l11 22zM2123 203l11 -22l11 22zM2126.8 200.5l11 -22l11 22zM2130.5 204l11 -22l11 22zM2134.2 201.7l11 -22l11 22zM2137.9 198.8l11 -22l11 22zM2141.6 206l11 -22l11 22zM2145.3 204.5l11 -22l11 22zM2149.1 194.3l11 -22l11 22zM2152.8 196.8l11 -22l11 22zM2156.5 201.7l11 -22l11 22zM2160.2 198.4l11 -22l11 22zM2163.9 206.1l11 -22l11 22zM2167.6 203l11 -22l11 22zM2171.4 204.1l11 -22l11 22zM2175.1 205.3l11 -22l11 22zM2178.8 206.5l11 -22l11 22zM2182.5 201.6l11 -22l11 22zM2186.2 204.3l11 -22l11 22zM2190 203.2l11 -22l11 22zM2193.7 204.9l11 -22l11 22zM2197.4 204.2l11 -22l11 22zM2201.1 206.8l11 -22l11 22zM2204.8 204.1l11 -22l11 22zM2208.5 201l11 -22l11 22zM2212.3 202.9l11 -22l11 22zM2216 199.1l11 -22l11 22zM2219.7 203.5l11 -22l11 22zM2223.4 207.1l11 -22l11 22zM2227.1 200.7l11 -22l11 22zM2230.9 197.5l11 -22l11 22zM2234.6 202.3l11 -22l11 22zM2238.3 201l11 -22l11 22zM2242 202.5l11 -22l11 22zM2245.7 200.7l11 -22l11 22zM2249.4 202.8l11 -22l11 22zM2253.2 199.5l11 -22l11 22zM2256.9 207.2l11 -22l11 22zM2260.6 201.9l11 -22l11 22zM2264.3 204.1l11 -22l11 22zM2268 204.8l11 -22l11 22zM2271.7 202.1l11 -22l11 22zM2275.5 203.9l11 -22l11 22zM2279.2 201.8l11 -22l11 22zM2282.9 201.2l11 -22l11 22z" fill="#aab4f2" stroke="#5568e0" stroke-width="1.8"/>
<line x1="359.5" y1="1033.6" x2="2294" y2="1033.6" stroke="#141496" stroke-width="5.5" stroke-dasharray="23 30.6"/>
<line x1="359.5" y1="1110" x2="2294" y2="1110" stroke="#c42424" stroke-width="5.5" stroke-dasharray="23 30.6"/>
<line x1="359.5" y1="1519.5" x2="2294" y2="1519.5" stroke="#000" stroke-width="5.5" stroke-dasharray="23 30.6"/>
<path d="M361.1 245.8h0M363.9 254.3h0M366.6 251.9h0M369.4 254.2h0M372.1 252.3h0M374.9 254.3h0M377.6 268.1h0M380.4 268.5h0M383.1 286.4h0M385.9 279.9h0M388.6 295.3h0M391.4 324h0M394.1 335.9h0M396.9 344.8h0M399.6 341.8h0M402.4 364.7h0M405.1 374.2h0M407.9 406.3h0M409.5 392.1h0M410.8 398.8h0M412.2 407.2h0M413.5 421.6h0M414.9 419.3h0M416.2 429.2h0M417.6 439.1h0M418.9 443.2h0M420.2 428.8h0M421.6 446.1h0M422.9 471h0M424.3 465.9h0M425.6 483.3h0M427 486.2h0M428.3 489.2h0M429.7 487.5h0M431 502.6h0M432.4 492.7h0M433.7 517.5h0M435.1 511.4h0M436.4 516.4h0M437.8 514.7h0M439.1 518.4h0M440.5 525.3h0M441.8 527.8h0M443.1 529.8h0M444.5 528.7h0M445.8 545.6h0M447.2 556.6h0M448.5 565.9h0M449.9 562h0M451.2 560.2h0M452.6 569.1h0M453.9 588h0M455.3 573.8h0M456.6 588.3h0M458 585.4h0M459.3 586.5h0M460.7 584.4h0M462 596.9h0M463.4 590.1h0M464.7 592.6h0M466 607.5h0M467.4 613.4h0M468.7 616.7h0M470.1 619.7h0M471.4 615.3h0M472.8 620h0M474.1 631.8h0M475.5 641.5h0M476.8 612h0M478.2 642h0M479.5 638.3h0M480.9 639.5h0M482.2 637.8h0M483.6 641.6h0M484.9 640.7h0M486.2 653.8h0M487.6 648.2h0M488.9 656.6h0M490.3 650.4h0M491.6 672h0M493 671.3h0M494.3 661.3h0M495.7 675.5h0M497 672.3h0M498.4 671.8h0M499.7 681.1h0M501.1 689.3h0M502.4 703.4h0M503.8 692.3h0M505.1 699.8h0M506.5 699h0M507.8 701.7h0M509.1 711h0M510.5 692.6h0M511.8 700.7h0M513.2 717.9h0M514.5 700.5h0M515.9 706.6h0M517.2 728.3h0M518.6 710.3h0M519.9 720.9h0M521.3 724.4h0M522.6 721.8h0M524 733.7h0M525.3 735.6h0M526.7 726.8h0M528 754.2h0M529.4 727.3h0M530.7 735.4h0M532 739.8h0M533.4 744.4h0M534.7 737.3h0M536.1 750.4h0M537.4 733.8h0M538.8 748.1h0M540.1 747.4h0M541.5 750.9h0M542.8 757.4h0M544.2 761.8h0M545.5 756.8h0M546.9 764.4h0M548.2 755.6h0M549.6 765.7h0M550.9 777.1h0M552.3 764.5h0M553.6 770.8h0M554.9 776.4h0M556.3 784.3h0M557.6 784.7h0M559 781.3h0M560.3 772.9h0M561.7 788.2h0M563 767.8h0M564.4 793.4h0M565.7 787h0M567.1 798.9h0M568.4 795.8h0M569.8 807.8h0M571.1 795.4h0M572.5 778.9h0M573.8 804h0M575.2 802.2h0M576.5 806.2h0M577.8 822.9h0M579.2 804.7h0M580.5 820.7h0M581.9 825h0M583.2 824.5h0M584.6 804.1h0M585.9 821.5h0M587.3 817.2h0M588.6 822.3h0M590 819.8h0M591.3 823.5h0M592.7 840h0M594 850.8h0M595.4 837.9h0M596.7 825.6h0M598 845.4h0M599.4 823.4h0M600.7 837h0M602.1 849.7h0M603.4 838.8h0M604.8 850.1h0M606.1 844.5h0M607.5 839.7h0M608.8 851.4h0M610.2 847.6h0M611.5 866.1h0M612.9 876.2h0M614.2 874.7h0M615.6 850.6h0M616.9 873.7h0M618.3 863.7h0M619.6 866.7h0M620.9 866h0M622.3 862.1h0M623.6 868.7h0M625 875.9h0M626.3 889.1h0M627.7 876.7h0M629 874.2h0M630.4 872.1h0M631.7 874.8h0M633.1 897.9h0M634.4 885.4h0M635.8 883.5h0M637.1 871h0M638.5 871.6h0M639.8 891.4h0M641.2 892.6h0M642.5 897.7h0M643.8 892.3h0M645.2 884.3h0M646.5 873.1h0M647.9 884.1h0M649.2 879.3h0M650.6 900.4h0M651.9 903.2h0M653.3 911.5h0M654.6 888.8h0M656 893.3h0M657.3 910.1h0M658.7 909.3h0M660 883.7h0M661.4 904.3h0M662.7 911.8h0M664.1 909.5h0M665.4 918.2h0M666.7 915.5h0M668.1 912.4h0M669.4 920.9h0M670.8 918.8h0M672.1 929.6h0M673.5 911.1h0M674.8 921.7h0M676.2 916.3h0M677.5 924.3h0M678.9 930.6h0M680.2 933.8h0M681.6 913.8h0M682.9 940.5h0M684.3 937h0M685.6 938.3h0M687 936.2h0M688.3 944.2h0M689.6 941.4h0M691 925.6h0M692.3 932.3h0M693.7 940.1h0M695 938.6h0M696.4 938.8h0M697.7 950.7h0M699.1 938.5h0M700.4 942.7h0M701.8 942h0M703.1 950.8h0M704.5 955.7h0M705.8 946.5h0M707.2 959.4h0M708.5 949h0M709.8 974.7h0M711.2 941h0M712.5 959.7h0M713.9 975.1h0M715.2 959.4h0M716.6 954.8h0M717.9 957.9h0M719.3 972.6h0M720.6 962.8h0M722 976.7h0M723.3 970h0M724.7 966.4h0M726 968.5h0M727.4 979h0M728.7 982.5h0M730.1 969.2h0M731.4 967.4h0M732.7 968.7h0M734.1 982.9h0M735.4 994.8h0M736.8 977.4h0M738.1 988.1h0M739.5 980.7h0M740.8 992.4h0M742.2 967.2h0M743.5 992.1h0M744.9 978.1h0M746.2 978.7h0M747.6 993.5h0M748.9 990.1h0M750.3 992.1h0M751.6 998.4h0M753 996.9h0M754.3 1008.5h0M755.6 1003.7h0M757 991.9h0M758.3 999.3h0M759.7 996.5h0M761 998.8h0M762.4 1026.1h0M763.7 998h0M765.1 1015.7h0M766.4 1018.6h0M767.8 1029.7h0M769.1 1008.8h0M770.5 1011.9h0M771.8 1013.3h0M773.2 1009h0M774.5 1027.4h0M775.9 1039.5h0M777.2 996.5h0M778.5 1013.6h0M779.9 1032.8h0M781.2 1009.9h0M782.6 1010.3h0M783.9 1020.7h0M785.3 1021.4h0M786.6 1021h0M788 1022.4h0M789.3 1039.4h0M790.7 1006.6h0M792 1019.8h0M793.4 1018.3h0M794.7 1030.6h0M796.1 1026h0M797.4 1034.7h0M798.7 1031.8h0M800.1 1063.1h0M801.4 1022.9h0M802.8 1030.8h0M804.1 1047.3h0M805.5 1033.7h0M806.8 1039.1h0M808.2 1018.3h0M809.5 1045.7h0M810.9 1039.7h0M812.2 1046.5h0M813.6 1030.4h0M814.9 1036.2h0M816.3 1037.5h0M817.6 1059.5h0M819 1032h0M820.3 1051.2h0M821.6 1050.7h0M823 1060.2h0M824.3 1052.8h0M825.7 1042.8h0M827 1056.7h0M828.4 1029.9h0M829.7 1063.2h0M831.1 1054.4h0M832.4 1050h0M833.8 1050.2h0M835.1 1065.8h0M836.5 1036.2h0M837.8 1074.4h0M839.2 1051.1h0M840.5 1074.7h0M841.9 1064.3h0M843.2 1080h0M844.5 1054.4h0M845.9 1073.1h0M847.2 1066h0M848.6 1058.6h0M849.9 1079.6h0M851.3 1067.3h0M852.6 1063.9h0M854 1069.3h0M855.3 1065.4h0M856.7 1071h0M858 1073.5h0M859.4 1084h0M860.7 1074.9h0M862.1 1069.9h0M863.4 1087.6h0M864.8 1075.2h0M866.1 1070.9h0M867.4 1069.7h0M868.8 1096.1h0M870.1 1080.9h0M871.5 1104.7h0M872.8 1075.2h0M874.2 1075.4h0M875.5 1108.8h0M876.9 1084.1h0M878.2 1085.5h0M879.6 1086.1h0M880.9 1080h0M882.3 1098.6h0M883.6 1080.1h0M885 1098.1h0M886.3 1083h0M887.7 1116h0M889 1100.4h0M890.3 1104.6h0M891.7 1081h0M893 1101.2h0M894.4 1092h0M895.7 1090.8h0M897.1 1087.1h0M898.4 1107.3h0M899.8 1101.1h0M901.1 1097.4h0M902.5 1093.8h0M903.8 1097.8h0M905.2 1096.3h0M906.5 1102.6h0M907.9 1095.8h0M909.2 1098.8h0M910.5 1088.1h0M911.9 1107.6h0M913.2 1116.9h0M914.6 1102.7h0M915.9 1123.1h0M917.3 1105h0M918.6 1112.6h0M920 1123.5h0M921.3 1116.3h0M922.7 1108h0M924 1119h0M925.4 1110.6h0M926.7 1127.3h0M928.1 1125h0M929.4 1117.1h0M930.8 1124.5h0M932.1 1144.9h0M933.4 1137.2h0M934.8 1129.9h0M936.1 1120.2h0M937.5 1118.7h0M938.8 1118h0M940.2 1134.6h0M941.5 1116.7h0M942.9 1130.7h0M944.2 1142h0M945.6 1114.5h0M946.9 1134.2h0M948.3 1115.8h0M949.6 1129.8h0M951 1136.4h0M952.3 1123.7h0M953.7 1121.5h0M955 1130.5h0M956.3 1136.7h0M957.7 1132.1h0M959 1127.8h0M960.4 1143.3h0M961.7 1127.9h0M963.1 1117.8h0M964.4 1140.4h0M965.8 1159.5h0M967.1 1136.4h0M968.5 1140.9h0M969.8 1133.3h0M971.2 1137.7h0M972.5 1133.8h0M973.9 1148.4h0M975.2 1135.4h0M976.6 1139.1h0M977.9 1155.4h0M979.2 1134.6h0M980.6 1156.8h0M981.9 1147.5h0M983.3 1141.7h0M984.6 1150.4h0M986 1147.2h0M987.3 1155h0M988.7 1150.9h0M990 1170.7h0M991.4 1163.9h0M992.7 1165.3h0M994.1 1138.1h0M995.4 1153.4h0M996.8 1168.1h0M998.1 1163.5h0M999.5 1159h0M1000.8 1158.7h0M1002.1 1175.2h0M1003.5 1133h0M1004.8 1153.8h0M1006.2 1149.8h0M1007.5 1179.7h0M1008.9 1151.2h0M1010.2 1162.1h0M1011.6 1184.9h0M1012.9 1163.2h0M1014.3 1169.3h0M1015.6 1167.7h0M1017 1174.4h0M1018.3 1189h0M1019.7 1158.8h0M1021 1169.8h0M1022.3 1186.2h0M1023.7 1193.5h0M1025 1170.4h0M1026.4 1185.8h0M1027.7 1183.5h0M1029.1 1183.6h0M1030.4 1162.1h0M1031.8 1151.7h0M1033.1 1177.8h0M1034.5 1176.1h0M1035.8 1177h0M1037.2 1167.7h0M1038.5 1192.7h0M1039.9 1177.1h0M1041.2 1205.8h0M1042.6 1179.2h0M1043.9 1185.5h0M1045.2 1189.7h0M1046.6 1180.2h0M1047.9 1174.7h0M1049.3 1179.5h0M1050.6 1185.6h0M1052 1181.4h0M1053.3 1205.3h0M1054.7 1182.6h0M1056 1195.3h0M1057.4 1196.4h0M1058.7 1191.2h0M1060.1 1180.1h0M1061.4 1198.4h0M1062.8 1200.3h0M1064.1 1193.8h0M1065.5 1193h0M1066.8 1161h0M1068.1 1177.7h0M1069.5 1193.1h0M1070.8 1198.2h0M1072.2 1203.1h0M1073.5 1193.9h0M1074.9 1200h0M1076.2 1188.4h0M1077.6 1204.6h0M1078.9 1210.2h0M1080.3 1198.9h0M1081.6 1209.7h0M1083 1198.4h0M1084.3 1197.3h0M1085.7 1199.8h0M1087 1222h0M1088.4 1188.6h0M1089.7 1206.3h0M1091 1201.8h0M1092.4 1206.8h0M1093.7 1192.4h0M1095.1 1218.1h0M1096.4 1213.9h0M1097.8 1205.8h0M1099.1 1204.9h0M1100.5 1210.2h0M1101.8 1219.3h0M1103.2 1187.7h0M1104.5 1224.8h0M1105.9 1209.1h0M1107.2 1220.7h0M1108.6 1205.5h0M1109.9 1232.7h0M1111.2 1217.2h0M1112.6 1232.2h0M1113.9 1210.2h0M1115.3 1210.5h0M1116.6 1228h0M1118 1224.7h0M1119.3 1224h0M1120.7 1238.3h0M1122 1226.5h0M1123.4 1217.2h0M1124.7 1192.3h0M1126.1 1186.9h0M1127.4 1228.5h0M1128.8 1228.4h0M1130.1 1214.9h0M1131.5 1229.3h0M1132.8 1222.8h0M1134.1 1226.2h0M1135.5 1235.3h0M1136.8 1211.4h0M1138.2 1230.6h0M1139.5 1232.8h0M1140.9 1225.8h0M1142.2 1230.6h0M1143.6 1218.6h0M1144.9 1231.7h0M1146.3 1236.9h0M1147.6 1238.9h0M1149 1225.3h0M1150.3 1240.3h0M1151.7 1236.1h0M1153 1240.2h0M1154.4 1234h0M1155.7 1241h0M1157 1237.4h0M1158.4 1259.6h0M1159.7 1233.7h0M1161.1 1248.2h0M1162.4 1237.7h0M1163.8 1223.9h0M1165.1 1243.5h0M1166.5 1251.4h0M1167.8 1252.1h0M1169.2 1248.3h0M1170.5 1228.8h0M1171.9 1244.8h0M1173.2 1228.9h0M1174.6 1260.3h0M1175.9 1267.9h0M1177.3 1233.9h0M1178.6 1240.8h0M1179.9 1233.2h0M1181.3 1238.4h0M1182.6 1239.6h0M1184 1235.4h0M1185.3 1242.9h0M1186.7 1254.3h0M1188 1245.8h0M1189.4 1260.7h0M1190.7 1247.3h0M1192.1 1251.2h0M1193.4 1238.4h0M1194.8 1260.5h0M1196.1 1240.7h0M1197.5 1248.9h0M1198.8 1240.3h0M1200.2 1261.7h0M1201.5 1243.8h0M1202.8 1260.3h0M1204.2 1286h0M1205.5 1259.2h0M1206.9 1234.1h0M1208.2 1266.7h0M1209.6 1260.5h0M1210.9 1264.1h0M1212.3 1262.7h0M1213.6 1270.7h0M1215 1269.8h0M1216.3 1259.7h0M1217.7 1248.5h0M1219 1260.5h0M1220.4 1274.5h0M1221.7 1243.9h0M1223 1265.7h0M1224.4 1235.1h0M1225.7 1275.3h0M1227.1 1283.2h0M1228.4 1274h0M1229.8 1259.4h0M1231.1 1274.2h0M1232.5 1280.3h0M1233.8 1284.2h0M1235.2 1282.2h0M1236.5 1279.5h0M1237.9 1259.2h0M1239.2 1268.6h0M1240.6 1274.9h0M1241.9 1271.1h0M1243.3 1251.5h0M1244.6 1270h0M1245.9 1265.1h0M1247.3 1274.8h0M1248.6 1279.2h0M1250 1259.3h0M1251.3 1266.7h0M1252.7 1276.4h0M1254 1264.7h0M1255.4 1275.5h0M1256.7 1267.8h0M1258.1 1269.7h0M1259.4 1286.2h0M1260.8 1276.5h0M1262.1 1269.7h0M1263.5 1304h0M1264.8 1276.2h0M1266.2 1279.6h0M1267.5 1280.6h0M1268.8 1311.6h0M1270.2 1292h0M1271.5 1290.7h0M1272.9 1278.7h0M1274.2 1291.5h0M1275.6 1294.9h0M1276.9 1272h0M1278.3 1291.9h0M1279.6 1301.8h0M1281 1304.1h0M1282.3 1288.6h0M1283.7 1310.1h0M1285 1280.1h0M1286.4 1298.3h0M1287.7 1293.6h0M1289.1 1271.8h0M1290.4 1299.5h0M1291.7 1269.2h0M1293.1 1283.5h0M1294.4 1289.6h0M1295.8 1271.9h0M1297.1 1311.4h0M1298.5 1287.6h0M1299.8 1280h0M1301.2 1297.9h0M1302.5 1293.6h0M1303.9 1283h0M1305.2 1289.1h0M1306.6 1304.4h0M1307.9 1304.2h0M1309.3 1279.9h0M1310.6 1306.8h0M1312 1307.3h0M1313.3 1309.6h0M1314.6 1293.3h0M1316 1290.8h0M1317.3 1298.2h0M1318.7 1293h0M1320 1297.6h0M1321.4 1294.5h0M1322.7 1298.3h0M1324.1 1296.6h0M1325.4 1302.6h0M1326.8 1304.4h0M1328.1 1300.5h0M1329.5 1298h0M1330.8 1320.8h0M1332.2 1314.3h0M1333.5 1310.2h0M1334.8 1296.4h0M1336.2 1312.6h0M1337.5 1304.8h0M1338.9 1313.2h0M1340.2 1309.9h0M1341.6 1334.2h0M1342.9 1308.6h0M1344.3 1292.5h0M1345.6 1320.6h0M1347 1321.8h0M1348.3 1333.1h0M1349.7 1267.4h0M1351 1301.3h0M1352.4 1298.3h0M1353.7 1294.8h0M1355.1 1313.8h0M1356.4 1319.8h0M1357.7 1324.7h0M1359.1 1323.4h0M1360.4 1314.5h0M1361.8 1341.1h0M1363.1 1317.7h0M1364.5 1268.4h0M1365.8 1312.6h0M1367.2 1308.4h0M1368.5 1320.3h0M1369.9 1312.7h0M1371.2 1314.1h0M1372.6 1332.5h0M1373.9 1310.4h0M1375.3 1295.6h0M1376.6 1321.8h0M1378 1326.5h0M1379.3 1318.9h0M1380.6 1320.5h0M1382 1314.7h0M1383.3 1307.3h0M1384.7 1313.7h0M1386 1310.9h0M1387.4 1343.5h0M1388.7 1318.6h0M1390.1 1338.6h0M1391.4 1321.5h0M1392.8 1314.7h0M1394.1 1326.9h0M1395.5 1328.6h0M1396.8 1340h0M1398.2 1304.5h0M1399.5 1322.1h0M1400.9 1331.4h0M1402.2 1319.5h0M1403.5 1329.3h0M1404.9 1325.3h0M1406.2 1344.3h0M1407.6 1350.8h0M1408.9 1307.7h0M1410.3 1313.7h0M1411.6 1322.1h0M1413 1330.4h0M1414.3 1329.9h0M1415.7 1323h0M1417 1339h0M1418.4 1342.3h0M1419.7 1334.5h0M1421.1 1328.6h0M1422.4 1334.7h0M1423.7 1320.3h0M1425.1 1344.1h0M1426.4 1344.6h0M1427.8 1326.1h0M1429.1 1352.3h0M1430.5 1336h0M1431.8 1346.3h0M1433.2 1337.7h0M1434.5 1336.3h0M1435.9 1346.4h0M1437.2 1322.1h0M1438.6 1336.9h0M1439.9 1327.1h0M1441.3 1345.8h0M1442.6 1336.8h0M1444 1337.8h0M1445.3 1336h0M1446.6 1349.2h0M1448 1345.5h0M1449.3 1340.7h0M1450.7 1338.4h0M1452 1363.4h0M1453.4 1370.4h0M1454.7 1325.1h0M1456.1 1358.4h0M1457.4 1354.8h0M1458.8 1349.4h0M1460.1 1351.2h0M1461.5 1332h0M1462.8 1374.4h0M1464.2 1383.7h0M1465.5 1348.7h0M1466.9 1348.9h0M1468.2 1350.8h0M1469.5 1342.2h0M1470.9 1355.9h0M1472.2 1349.9h0M1473.6 1331.8h0M1474.9 1342.4h0M1476.3 1344.3h0M1477.6 1345.2h0M1479 1346.1h0M1480.3 1359.5h0M1481.7 1348.4h0M1483 1335.6h0M1484.4 1369.7h0M1485.7 1347.7h0M1487.1 1379.8h0M1488.4 1357.7h0M1489.8 1364.9h0M1491.1 1346.5h0M1492.4 1357.3h0M1493.8 1352.4h0M1495.1 1356.4h0M1496.5 1362.7h0M1497.8 1353.6h0M1499.2 1367.5h0M1500.5 1333.4h0M1501.9 1347.2h0M1503.2 1367h0M1504.6 1365.7h0M1505.9 1372.2h0M1507.3 1378.7h0M1508.6 1369h0M1510 1370h0M1511.3 1364.9h0M1512.7 1365.1h0M1514 1361.9h0M1515.3 1365.3h0M1516.7 1357.6h0M1518 1362.5h0M1519.4 1373.5h0M1520.7 1370.6h0M1522.1 1378.2h0M1523.4 1357.4h0M1524.8 1359.8h0M1526.1 1374.2h0M1527.5 1357.5h0M1528.8 1357.4h0M1530.2 1374.7h0M1531.5 1364.8h0M1532.9 1378.1h0M1534.2 1370.3h0M1535.5 1364.4h0M1536.9 1358h0M1538.2 1383.3h0M1539.6 1369.5h0M1540.9 1360.8h0M1542.3 1354.3h0M1543.6 1357.5h0M1545 1367.2h0M1546.3 1385.9h0M1547.7 1362.2h0M1549 1377.7h0M1550.4 1375.7h0M1551.7 1336.3h0M1553.1 1359.5h0M1554.4 1383.3h0M1555.8 1351.5h0M1557.1 1387.5h0M1558.4 1375.3h0M1559.8 1356.6h0M1561.1 1396.9h0M1562.5 1374.9h0M1563.8 1394.5h0M1565.2 1379.4h0M1566.5 1368.9h0M1567.9 1397.4h0M1569.2 1398.4h0M1570.6 1393h0M1571.9 1365.5h0M1573.3 1386.4h0M1574.6 1366.3h0M1576 1373.3h0M1577.3 1395.7h0M1578.7 1364.6h0M1580 1425.9h0M1581.3 1363.9h0M1582.7 1367.1h0M1584 1390.8h0M1585.4 1380.3h0M1586.7 1381.3h0M1588.1 1372.7h0M1589.4 1392.1h0M1590.8 1386.7h0M1592.1 1382.2h0M1593.5 1369.2h0M1594.8 1368h0M1596.2 1385.5h0M1597.5 1360.9h0M1598.9 1378.8h0M1600.2 1397.5h0M1601.6 1395h0M1602.9 1382.7h0M1604.2 1339.5h0M1605.6 1394.5h0M1606.9 1404.1h0M1608.3 1389.6h0M1609.6 1404.1h0M1611 1401.6h0M1612.3 1370.7h0M1613.7 1387.9h0M1615 1385.2h0M1616.4 1419.6h0M1617.7 1404.1h0M1619.1 1393.4h0M1620.4 1399h0M1621.8 1403h0M1623.1 1384.9h0M1624.4 1391.4h0M1625.8 1392.7h0M1627.1 1389.3h0M1628.5 1390.8h0M1629.8 1398.5h0M1631.2 1380.2h0M1632.5 1382.2h0M1633.9 1405.1h0M1635.2 1414.1h0M1636.6 1418.5h0M1637.9 1376.5h0M1639.3 1403.7h0M1640.6 1381.3h0M1642 1391.8h0M1643.3 1395.9h0M1644.7 1403.5h0M1646 1405.8h0M1647.3 1353.3h0M1648.7 1392.8h0M1650 1412.9h0M1651.4 1402h0M1652.7 1382h0M1654.1 1382h0M1655.4 1392.2h0M1656.8 1413.8h0M1658.1 1434.5h0M1659.5 1389.7h0M1660.8 1409h0M1662.2 1397h0M1663.5 1410.4h0M1664.9 1401.2h0M1666.2 1391.1h0M1667.6 1397h0M1668.9 1397.3h0M1670.2 1422.5h0M1671.6 1390.5h0M1672.9 1415.6h0M1674.3 1396.4h0M1675.6 1398.8h0M1677 1409.7h0M1678.3 1395.6h0M1679.7 1431h0M1681 1423.7h0M1682.4 1386h0M1683.7 1414.9h0M1685.1 1427h0M1686.4 1395.1h0M1687.8 1405h0M1689.1 1427.7h0M1690.5 1400.7h0M1691.8 1418.3h0M1693.1 1410.3h0M1694.5 1413.7h0M1695.8 1391.1h0M1697.2 1411.4h0M1698.5 1403.3h0M1699.9 1433.9h0M1701.2 1420.9h0M1702.6 1414.7h0M1703.9 1413.7h0M1705.3 1422.5h0M1706.6 1395.5h0M1708 1394.7h0M1709.3 1404.3h0M1710.7 1406h0M1712 1396.2h0M1713.4 1422.4h0M1714.7 1406.5h0M1716 1439.9h0M1717.4 1415.8h0M1718.7 1413.1h0M1720.1 1425.3h0M1721.4 1425.5h0M1722.8 1415.2h0M1724.1 1425.9h0M1725.5 1434.4h0M1726.8 1414.2h0M1728.2 1435.5h0M1729.5 1417.9h0M1730.9 1431h0M1732.2 1420.4h0M1733.6 1416.7h0M1734.9 1425.2h0M1736.2 1408.5h0M1737.6 1390.4h0M1738.9 1422.1h0M1740.3 1420h0M1741.6 1400.6h0M1743 1449.2h0M1744.3 1430.8h0M1745.7 1409.2h0M1747 1430.8h0M1748.4 1434.3h0M1749.7 1420.6h0M1751.1 1422.7h0M1752.4 1403.5h0M1753.8 1429h0M1755.1 1449.4h0M1756.5 1440.8h0M1757.8 1446.4h0M1759.1 1420.5h0M1760.5 1414.9h0M1761.8 1439h0M1763.2 1432.2h0M1764.5 1424h0M1765.9 1425.4h0M1767.2 1441h0M1768.6 1437.5h0M1769.9 1424.5h0M1771.3 1427.2h0M1772.6 1397.3h0M1774 1416.9h0M1775.3 1438.4h0M1776.7 1426.2h0M1778 1421.6h0M1779.4 1435.8h0M1780.7 1448.2h0M1782 1422.9h0M1783.4 1429.5h0M1784.7 1430.6h0M1786.1 1463.9h0M1787.4 1446.9h0M1788.8 1438h0M1790.1 1406.2h0M1791.5 1444.7h0M1792.8 1442.7h0M1794.2 1433.6h0M1795.5 1427.2h0M1796.9 1431.2h0M1798.2 1416.8h0M1799.6 1432.6h0M1800.9 1432h0M1802.3 1426.8h0M1803.6 1434.3h0M1804.9 1406.5h0M1806.3 1459.9h0M1807.6 1437.2h0M1809 1425h0M1810.3 1449.2h0M1811.7 1449.9h0M1813 1434.3h0M1814.4 1413.7h0M1815.7 1440.2h0M1817.1 1447.1h0M1818.4 1449.5h0M1819.8 1453.3h0M1821.1 1452.7h0M1822.5 1412.4h0M1823.8 1444.3h0M1825.2 1420.2h0M1826.5 1455.4h0M1827.8 1448.8h0M1829.2 1455.8h0M1830.5 1444.9h0M1831.9 1444.7h0M1833.2 1438.3h0M1834.6 1411.1h0M1835.9 1443.2h0M1837.3 1477.7h0M1838.6 1462.1h0M1840 1443.9h0M1841.3 1452.2h0M1842.7 1452.8h0M1844 1440.4h0M1845.4 1447.9h0M1846.7 1452.4h0M1848 1442.4h0M1849.4 1456.8h0M1850.7 1464.4h0M1852.1 1464.9h0M1853.4 1453.2h0M1854.8 1448h0M1856.1 1459.5h0M1857.5 1444.2h0M1858.8 1443.2h0M1860.2 1475.6h0M1861.5 1447.2h0M1862.9 1435.3h0M1864.2 1462.9h0M1865.6 1461.6h0M1866.9 1467h0M1868.3 1452.1h0M1869.6 1467.9h0M1870.9 1452.4h0M1872.3 1441.8h0M1873.6 1452.4h0M1875 1458.1h0M1876.3 1441.7h0M1877.7 1453.3h0M1879 1459h0M1880.4 1450.9h0M1881.7 1457.6h0M1883.1 1456.5h0M1884.4 1440.2h0M1885.8 1463.3h0M1887.1 1465h0M1888.5 1433.1h0M1889.8 1450h0M1891.2 1469h0M1892.5 1464.7h0M1893.8 1435.8h0M1895.2 1462.7h0M1896.5 1477.6h0M1897.9 1471.4h0M1899.2 1470.4h0M1900.6 1459.7h0M1901.9 1462.4h0M1903.3 1447.4h0M1904.6 1462.3h0M1906 1491.3h0M1907.3 1462.5h0M1908.7 1451.5h0M1910 1473.3h0M1911.4 1438.2h0M1912.7 1509.1h0M1914.1 1472.1h0M1915.4 1461.3h0M1916.7 1457.1h0M1918.1 1453.8h0M1919.4 1467h0M1920.8 1466.4h0M1922.1 1434.5h0M1923.5 1479h0M1924.8 1462.3h0M1926.2 1453.4h0M1927.5 1485.9h0M1928.9 1482.4h0M1930.2 1460.8h0M1931.6 1460.1h0M1932.9 1482.5h0M1934.3 1460.5h0M1935.6 1471.8h0M1936.9 1496.9h0M1938.3 1454.6h0M1939.6 1451.2h0M1941 1459.8h0M1942.3 1458.8h0M1943.7 1471.5h0M1945 1483.8h0M1946.4 1466.3h0M1947.7 1493.5h0M1949.1 1475.1h0M1950.4 1447.6h0M1951.8 1472.5h0M1953.1 1487.6h0M1954.5 1487.6h0M1955.8 1464.9h0M1957.2 1472.9h0M1958.5 1502.9h0M1959.8 1476.7h0M1961.2 1463.4h0M1962.5 1456.1h0M1963.9 1470.1h0M1965.2 1480.7h0M1966.6 1453.7h0M1967.9 1493.9h0M1969.3 1467.3h0M1970.6 1438.2h0M1972 1485.8h0M1973.3 1478.3h0M1974.7 1475.2h0M1976 1494.7h0M1977.4 1471h0M1978.7 1488h0M1980.1 1472.5h0M1981.4 1500.5h0M1982.7 1480h0M1984.1 1480.5h0M1985.4 1488.1h0M1986.8 1479.7h0M1988.1 1486.9h0M1989.5 1478.3h0M1990.8 1489.6h0M1992.2 1483.3h0M1993.5 1471.2h0M1994.9 1489.8h0M1996.2 1488.9h0M1997.6 1469.4h0M1998.9 1479.5h0M2000.3 1449.2h0M2001.6 1485.3h0M2003 1495h0M2004.3 1515.7h0M2005.6 1488.5h0M2007 1498.5h0M2008.3 1504.3h0M2009.7 1495h0M2011 1461.9h0M2012.4 1480.2h0M2013.7 1493.6h0M2015.1 1490.6h0M2016.4 1489.6h0M2017.8 1475.7h0M2019.1 1463.4h0M2020.5 1492.7h0M2021.8 1512.2h0M2023.2 1482.2h0M2024.5 1495.8h0M2025.9 1482.1h0M2027.2 1487.4h0M2028.5 1482h0M2029.9 1500.4h0M2031.2 1478.1h0M2032.6 1493.4h0M2033.9 1502.3h0M2035.3 1490.6h0M2036.6 1475.2h0M2038 1496.4h0M2039.3 1489.3h0M2040.7 1475.2h0M2042 1489.8h0M2043.4 1488.7h0M2044.7 1505.5h0M2046.1 1486.7h0M2047.4 1494.5h0M2048.7 1506.2h0M2050.1 1469.1h0M2051.4 1506.8h0M2052.8 1494.5h0M2054.1 1481.6h0M2055.5 1496.6h0M2056.8 1508.5h0M2058.2 1481.1h0M2059.5 1488.4h0M2060.9 1524.4h0M2062.2 1516.5h0M2063.6 1522.3h0M2064.9 1497.2h0M2066.3 1484.6h0M2067.6 1484.8h0M2069 1490.8h0M2070.3 1484.8h0M2071.6 1503.7h0M2073 1524.8h0M2074.3 1484.6h0M2075.7 1518.1h0M2077 1487.3h0M2078.4 1490.3h0M2079.7 1481.6h0M2081.1 1509.4h0M2082.4 1499h0M2083.8 1500.8h0M2085.1 1462.7h0M2086.5 1493.1h0M2087.8 1505.2h0M2089.2 1465.3h0M2090.5 1527.4h0M2091.9 1506.2h0M2093.2 1516.6h0M2094.5 1498.6h0M2095.9 1522.2h0M2097.2 1530.3h0M2098.6 1537.2h0M2099.9 1490.1h0M2101.3 1531.6h0M2102.6 1482.1h0M2104 1506.9h0M2105.3 1499.9h0M2106.7 1502.2h0M2108 1465.3h0M2109.4 1502.2h0M2110.7 1481.4h0M2112.1 1503.9h0M2113.4 1510.3h0M2114.8 1508h0M2116.1 1506.1h0M2117.4 1526.2h0M2118.8 1512.4h0M2120.1 1516.3h0M2121.5 1526.4h0M2122.8 1508h0M2124.2 1510.5h0M2125.5 1524.3h0M2126.9 1506.1h0M2128.2 1526.6h0M2129.6 1501.8h0M2130.9 1507.6h0M2132.3 1508.8h0M2133.6 1506.7h0M2135 1511h0M2136.3 1505h0M2137.7 1479.9h0M2139 1527.2h0M2140.3 1506.3h0M2141.7 1522.1h0M2143 1498.2h0M2144.4 1520.6h0M2145.7 1495.7h0M2147.1 1532.7h0M2148.4 1511.6h0M2149.8 1507.7h0M2151.1 1475.5h0M2152.5 1483.6h0M2153.8 1507.5h0M2155.2 1505.8h0M2156.5 1506.1h0M2157.9 1507.8h0M2159.2 1527.8h0M2160.5 1506.6h0M2161.9 1509.9h0M2163.2 1505.5h0M2164.6 1501.4h0M2165.9 1524h0M2167.3 1507.1h0M2168.6 1511.4h0M2170 1520.7h0M2171.3 1517.8h0M2172.7 1527.8h0M2174 1527.5h0M2175.4 1500.3h0M2176.7 1501h0M2178.1 1531.2h0M2179.4 1513.3h0M2180.8 1532.5h0M2182.1 1507.1h0M2183.4 1486.4h0M2184.8 1489.8h0M2186.1 1510.4h0M2187.5 1514.2h0M2188.8 1552.1h0M2190.2 1537h0M2191.5 1536.3h0M2192.9 1533.6h0M2194.2 1499.7h0M2195.6 1522.5h0M2196.9 1520.6h0M2198.3 1549h0M2199.6 1513.1h0M2201 1491.4h0M2202.3 1524.1h0M2203.7 1519.6h0M2205 1525h0M2206.3 1527.1h0M2207.7 1528.1h0M2209 1515.8h0M2210.4 1518.8h0M2211.7 1556.6h0M2213.1 1516.8h0M2214.4 1532.5h0M2215.8 1512.2h0M2217.1 1502.7h0M2218.5 1538.8h0M2219.8 1529.5h0M2221.2 1556.9h0M2222.5 1542h0M2223.9 1531.4h0M2225.2 1518h0M2226.6 1572h0M2227.9 1530h0M2229.2 1577.7h0M2230.6 1539.5h0M2231.9 1551.7h0M2233.3 1539.1h0M2234.6 1537.3h0M2236 1528.5h0M2237.3 1563.8h0M2238.7 1519.8h0M2240 1511.5h0M2241.4 1540.9h0M2242.7 1520.3h0M2244.1 1546.5h0M2245.4 1531.2h0M2246.8 1549.8h0M2248.1 1535.1h0M2249.4 1523.3h0M2250.8 1529.8h0M2252.1 1544.1h0M2253.5 1526.2h0M2254.8 1523.4h0M2256.2 1532.6h0M2257.5 1539.6h0M2258.9 1552.5h0M2260.2 1546.9h0M2261.6 1547.8h0M2262.9 1533.6h0M2264.3 1561.9h0M2265.6 1566.8h0M2267 1527.9h0M2268.3 1544.2h0M2269.7 1536.3h0M2271 1542h0M2272.3 1533.5h0M2273.7 1528.3h0M2275 1520.3h0M2276.4 1531.4h0M2277.7 1538.9h0M2279.1 1553.2h0M2280.4 1546.9h0M2281.8 1533.6h0M2283.1 1530.4h0M2284.5 1518.9h0M2285.8 1549.4h0M2287.2 1543.8h0M2288.5 1548.8h0M2289.9 1551h0M2291.2 1554.5h0M2292.6 1540.3h0M2293.9 1537.2h0" fill="none" stroke="#000" stroke-width="16.5" stroke-linecap="square"/>
<path d="M555.6 529.3h0M558.6 533.7h0M561.7 532.1h0M564.7 542.8h0M567.8 545.5h0M570.8 541.6h0M573.9 549.9h0M576.9 555.5h0M580 553.8h0M583 553h0M586 561.3h0M589.1 566.5h0M592.1 560.4h0M595.2 572.7h0M598.2 572h0M601.3 578.1h0M604.3 573.7h0M607.4 583.3h0M610.4 583.6h0M613.4 587.8h0M616.5 587.7h0M619.5 593.4h0M622.6 591.8h0M625.6 593.2h0M628.7 593.5h0M631.7 594h0M634.8 602.2h0M637.8 603.1h0M640.8 606.2h0M643.9 607.9h0M646.9 612.4h0M650 613.6h0M653 613.6h0M656.1 620.6h0M659.1 627.7h0M662.1 619.2h0M665.2 623h0M668.2 628.7h0M671.3 626.3h0M674.3 634.7h0M677.4 630.7h0M680.4 631h0M683.5 634h0M686.5 643.2h0M689.5 634.3h0M692.6 644.1h0M695.6 638h0M698.7 650.3h0M701.7 651.2h0M704.8 654.1h0M707.8 661.4h0M710.9 655.5h0M713.9 661.9h0M716.9 661.9h0M720 665.5h0M723 661h0M726.1 669.6h0M729.1 666.4h0M732.2 674.8h0M735.2 674.8h0M738.3 673.5h0M741.3 677.3h0M744.3 679h0M747.4 679.7h0M750.4 690.3h0M753.5 679.6h0M756.5 679.5h0M759.6 681.5h0M762.6 687.1h0M765.7 689.6h0M768.7 694h0M771.7 696.8h0M774.8 695.9h0M777.8 697.3h0M780.9 695.2h0M783.9 703.8h0M787 706.9h0M790 703.2h0M793.1 707.9h0M796.1 704.7h0M799.1 708.6h0M802.2 710.7h0M805.2 715.1h0M808.3 708.4h0M811.3 715.5h0M814.4 720.1h0M817.4 719.7h0M820.5 722.4h0M823.5 712.7h0M826.5 720.1h0M829.6 723.2h0M832.6 723.6h0M835.7 719.4h0M838.7 733.2h0M841.8 731.8h0M844.8 725.4h0M847.9 732.1h0M850.9 735.5h0M853.9 740.3h0M857 740.8h0M860 736.2h0M863.1 739h0M866.1 743.7h0M869.2 747.9h0M872.2 744.2h0M875.3 745h0M878.3 750.8h0M881.3 750.6h0M884.4 756.5h0M887.4 754.7h0M890.5 758h0M893.5 748.8h0M896.6 752.4h0M899.6 753.1h0M902.7 757.6h0M905.7 762.7h0M908.7 761.8h0M911.8 766h0M914.8 762.8h0M917.9 770.4h0M920.9 771.4h0M924 763.4h0M927 767.1h0M930 770.1h0M933.1 776.6h0M936.1 777.8h0M939.2 782.8h0M942.2 772.2h0M945.3 779.7h0M948.3 780.2h0M951.4 780.6h0M954.4 782.4h0M957.4 776.7h0M960.5 786.5h0M963.5 785.2h0M966.6 783.5h0M969.6 794.4h0M972.7 788.1h0M975.7 792.7h0M978.8 790.6h0M981.8 788.7h0M984.8 793.9h0M987.9 798h0M990.9 794.5h0M994 801.2h0M997 806.8h0M1000.1 806.2h0M1003.1 802h0M1006.2 801.4h0M1009.2 808.9h0M1012.2 801.7h0M1015.3 804.2h0M1018.3 815.5h0M1021.4 811.9h0M1024.4 813.5h0M1027.5 811.9h0M1030.5 824.5h0M1033.6 826.8h0M1036.6 816h0M1039.6 820.8h0M1042.7 817.9h0M1045.7 821.8h0M1048.8 826.2h0M1051.8 827.2h0M1054.9 822.8h0M1057.9 826.3h0M1061 836.4h0M1064 830.7h0M1067 833.6h0M1070.1 831.6h0M1073.1 830.2h0M1076.2 827.7h0M1079.2 829.3h0M1082.3 827.9h0M1085.3 831.1h0M1088.4 833h0M1091.4 840h0M1094.4 832.3h0M1097.5 841h0M1100.5 833.4h0M1103.6 851.2h0M1106.6 840.6h0M1109.7 844.4h0M1112.7 851.4h0M1115.8 845.3h0M1118.8 847.4h0M1121.8 848.7h0M1124.9 851.3h0M1127.9 848.4h0M1131 857.8h0M1134 856.6h0M1137.1 854h0M1140.1 859h0M1143.2 855.2h0M1146.2 854.7h0M1149.2 857.3h0M1152.3 860.4h0M1155.3 854h0M1158.4 859.5h0M1161.4 863.4h0M1164.5 858.7h0M1167.5 865h0M1170.5 860.7h0M1173.6 866.5h0M1176.6 866.5h0M1179.7 869.1h0M1182.7 866.1h0M1185.8 862.5h0M1188.8 861.2h0M1191.9 885.5h0M1194.9 867.3h0M1197.9 870.5h0M1201 868.6h0M1204 880.8h0M1207.1 879.3h0M1210.1 880.8h0M1213.2 874.4h0M1216.2 883.3h0M1219.3 877.7h0M1222.3 886.1h0M1225.3 882.1h0M1228.4 874.9h0M1231.4 883.9h0M1234.5 882h0M1237.5 895.2h0M1240.6 882.3h0M1243.6 887h0M1246.7 888h0M1249.7 886.8h0M1252.7 888.2h0M1255.8 891.6h0M1258.8 894h0M1261.9 892.1h0M1264.9 893.6h0M1268 895.5h0M1271 892.9h0M1274.1 896.4h0M1277.1 898.3h0M1280.1 902.9h0M1283.2 902.6h0M1286.2 902.8h0M1289.3 905.2h0M1292.3 899.9h0M1295.4 907.8h0M1298.4 903.2h0M1301.5 904.9h0M1304.5 904.8h0M1307.5 909.6h0M1310.6 905.7h0M1313.6 911.1h0M1316.7 908.5h0M1319.7 908.8h0M1322.8 913h0M1325.8 909.3h0M1328.9 917.7h0M1331.9 911.5h0M1334.9 913.2h0M1338 920.3h0M1341 911.3h0M1344.1 920.9h0M1347.1 918.7h0M1350.2 919.6h0M1353.2 920.8h0M1356.3 917.6h0M1359.3 927.9h0M1362.3 924.6h0M1365.4 925.9h0M1368.4 927.3h0M1371.5 928.7h0M1374.5 927.1h0M1377.6 923.4h0M1380.6 922.9h0M1383.7 923.5h0M1386.7 927.6h0M1389.7 933.8h0M1392.8 926.1h0M1395.8 930.5h0M1398.9 934.7h0M1401.9 932.1h0M1405 933.2h0M1408 931h0M1411.1 936.4h0M1414.1 934.4h0M1417.1 934.8h0M1420.2 936.7h0M1423.2 940.3h0M1426.3 943.3h0M1429.3 936.3h0M1432.4 943.2h0M1435.4 938.1h0M1438.4 936.1h0M1441.5 941.3h0M1444.5 944.7h0M1447.6 945.1h0M1450.6 947.5h0M1453.7 939.5h0M1456.7 952.8h0M1459.8 951.5h0M1462.8 951.7h0M1465.8 944.2h0M1468.9 952.5h0M1471.9 949.7h0M1475 950.6h0M1478 953.2h0M1481.1 948.1h0M1484.1 958.6h0M1487.2 959.2h0M1490.2 959.1h0M1493.2 962.1h0M1496.3 951.6h0M1499.3 957.4h0M1502.4 958h0M1505.4 955.5h0M1508.5 963.7h0M1511.5 970.8h0M1514.6 958.5h0M1517.6 965.1h0M1520.6 964.1h0M1523.7 965.1h0M1526.7 965.7h0M1529.8 968.5h0M1532.8 964.5h0M1535.9 966.1h0M1538.9 974.3h0M1542 969h0M1545 969.7h0M1548 964.1h0M1551.1 972.9h0M1554.1 974.1h0M1557.2 973.6h0M1560.2 979.1h0M1563.3 966.8h0M1566.3 978h0M1569.4 969.6h0M1572.4 972.4h0M1575.4 969.6h0M1578.5 980.5h0M1581.5 977.8h0M1584.6 977.3h0M1587.6 979.8h0M1590.7 972.7h0M1593.7 978.8h0M1596.8 982.4h0M1599.8 980.2h0M1602.8 982.8h0M1605.9 978h0M1608.9 985h0M1612 984h0M1615 986.6h0M1618.1 992.1h0M1621.1 987.4h0M1624.2 985.7h0M1627.2 989.9h0M1630.2 985.2h0M1633.3 995.8h0M1636.3 990.6h0M1639.4 991.3h0M1642.4 993.7h0M1645.5 988h0M1648.5 993.2h0M1651.6 993.1h0M1654.6 1002.3h0M1657.6 1000.4h0M1660.7 1002.5h0M1663.7 996.7h0M1666.8 997.8h0M1669.8 1001.7h0M1672.9 996.1h0M1675.9 995.9h0M1678.9 1005.5h0M1682 1002.2h0M1685 1002.9h0M1688.1 995.6h0M1691.1 1000.9h0M1694.2 1001.4h0M1697.2 1001.2h0M1700.3 1005.6h0M1703.3 1001.8h0M1706.3 1001.5h0M1709.4 1013.5h0M1712.4 1008.8h0M1715.5 1004h0M1718.5 1016.1h0M1721.6 1011.1h0M1724.6 1011h0M1727.7 1000.6h0M1730.7 1016.4h0M1733.7 1012.3h0M1736.8 1016.8h0M1739.8 1019.2h0M1742.9 1009h0M1745.9 1021.1h0M1749 1018h0M1752 1016.1h0M1755.1 1008h0M1758.1 1024.1h0M1761.1 1018.8h0M1764.2 1020.5h0M1767.2 1014.6h0M1770.3 1021.7h0M1773.3 1022.2h0M1776.4 1026.2h0M1779.4 1018h0M1782.5 1014.1h0M1785.5 1020.3h0M1788.5 1019.6h0M1791.6 1024.8h0M1794.6 1023.8h0M1797.7 1025.8h0M1800.7 1030.2h0M1803.8 1032.3h0M1806.8 1027h0M1809.9 1021.7h0M1812.9 1028h0M1815.9 1027.9h0M1819 1028.9h0M1822 1029.2h0M1825.1 1030.3h0M1828.1 1023h0M1831.2 1033.5h0M1834.2 1033.9h0M1837.3 1033.9h0M1840.3 1032.8h0M1843.3 1037.1h0M1846.4 1028.3h0M1849.4 1034.6h0M1852.5 1037.6h0M1855.5 1034.5h0M1858.6 1036.4h0M1861.6 1040.9h0M1864.7 1037.2h0M1867.7 1035.3h0M1870.7 1037.3h0M1873.8 1040.9h0M1876.8 1036.4h0M1879.9 1040.8h0M1882.9 1039.9h0M1886 1042.1h0M1889 1045.2h0M1892.1 1045.7h0M1895.1 1043.9h0M1898.1 1045h0M1901.2 1047.6h0M1904.2 1042.6h0M1907.3 1046.5h0M1910.3 1042.4h0M1913.4 1051.5h0M1916.4 1048h0M1919.4 1043.6h0M1922.5 1047.1h0M1925.5 1052h0M1928.6 1050.9h0M1931.6 1044.6h0M1934.7 1057.3h0M1937.7 1052.4h0M1940.8 1053.6h0M1943.8 1051.7h0M1946.8 1050.4h0M1949.9 1048.5h0M1952.9 1055h0M1956 1054.9h0M1959 1054.7h0M1962.1 1058.8h0M1965.1 1057.8h0M1968.2 1053.6h0M1971.2 1056.3h0M1974.2 1062.3h0M1977.3 1054h0M1980.3 1067.1h0M1983.4 1058h0M1986.4 1069.7h0M1989.5 1062.7h0M1992.5 1056h0M1995.6 1063.8h0M1998.6 1063.1h0M2001.6 1061.8h0M2004.7 1064h0M2007.7 1064.6h0M2010.8 1053.3h0M2013.8 1068.1h0M2016.9 1065h0M2019.9 1066.6h0M2023 1069.6h0M2026 1067.6h0M2029 1063.8h0M2032.1 1071.6h0M2035.1 1068.1h0M2038.2 1070.6h0M2041.2 1067.7h0M2044.3 1070.2h0M2047.3 1067.8h0M2050.4 1077.5h0M2053.4 1068.6h0M2056.4 1076.3h0M2059.5 1066.7h0M2062.5 1074.8h0M2065.6 1073.4h0M2068.6 1078.5h0M2071.7 1076.3h0M2074.7 1084.1h0M2077.8 1087h0M2080.8 1075.1h0M2083.8 1080.1h0M2086.9 1074.7h0M2089.9 1075.1h0M2093 1078.9h0M2096 1082.8h0M2099.1 1082.5h0M2102.1 1080h0M2105.2 1085.2h0M2108.2 1077.5h0M2111.2 1079h0M2114.3 1082.5h0M2117.3 1076.7h0M2120.4 1088.6h0M2123.4 1083.8h0M2126.5 1083.6h0M2129.5 1086.8h0M2132.6 1081h0M2135.6 1085.9h0M2138.6 1080.7h0M2141.7 1086.7h0M2144.7 1088.2h0M2147.8 1094h0M2150.8 1088.8h0M2153.9 1094.1h0M2156.9 1089.7h0M2160 1084.5h0M2163 1093.5h0M2166 1091.5h0M2169.1 1089.7h0M2172.1 1095.6h0M2175.2 1088.9h0M2178.2 1091.8h0M2181.3 1096.2h0M2184.3 1097.2h0M2187.3 1092.3h0M2190.4 1096.2h0M2193.4 1095.9h0M2196.5 1098.3h0M2199.5 1095.8h0M2202.6 1089.5h0M2205.6 1096.2h0M2208.7 1103.5h0M2211.7 1095.5h0M2214.7 1098.3h0M2217.8 1102.4h0M2220.8 1099.1h0M2223.9 1096.5h0M2226.9 1100.8h0M2230 1100.7h0M2233 1098.7h0M2236.1 1101.7h0M2239.1 1097.8h0M2242.1 1097.6h0M2245.2 1099.7h0M2248.2 1103.5h0M2251.3 1104.7h0M2254.3 1103h0M2257.4 1109.5h0M2260.4 1108.2h0M2263.5 1106.7h0M2266.5 1111.1h0M2269.5 1112.8h0M2272.6 1110.5h0M2275.6 1106.4h0M2278.7 1111.9h0M2281.7 1113.6h0M2284.8 1111.3h0M2287.8 1109.9h0M2290.9 1111.8h0M2293.9 1112.4h0" fill="none" stroke="#f00000" stroke-width="22" stroke-linecap="round"/>
<path d="M356.5 80.1a3.8 3.8 0 1 0 7.7 0a3.8 3.8 0 1 0 -7.7 0zM358.1 109.8a3.8 3.8 0 1 0 7.7 0a3.8 3.8 0 1 0 -7.7 0zM359.7 132.5a3.8 3.8 0 1 0 7.7 0a3.8 3.8 0 1 0 -7.7 0zM361.4 154a3.8 3.8 0 1 0 7.7 0a3.8 3.8 0 1 0 -7.7 0zM363 157.3a3.8 3.8 0 1 0 7.7 0a3.8 3.8 0 1 0 -7.7 0zM364.7 170.9a3.8 3.8 0 1 0 7.7 0a3.8 3.8 0 1 0 -7.7 0zM366.3 191.7a3.8 3.8 0 1 0 7.7 0a3.8 3.8 0 1 0 -7.7 0zM367.9 189.9a3.8 3.8 0 1 0 7.7 0a3.8 3.8 0 1 0 -7.7 0zM369.6 197a3.8 3.8 0 1 0 7.7 0a3.8 3.8 0 1 0 -7.7 0zM371.2 206.4a3.8 3.8 0 1 0 7.7 0a3.8 3.8 0 1 0 -7.7 0zM372.9 213.1a3.8 3.8 0 1 0 7.7 0a3.8 3.8 0 1 0 -7.7 0zM374.5 214.3a3.8 3.8 0 1 0 7.7 0a3.8 3.8 0 1 0 -7.7 0zM376.1 231a3.8 3.8 0 1 0 7.7 0a3.8 3.8 0 1 0 -7.7 0zM377.8 228.2a3.8 3.8 0 1 0 7.7 0a3.8 3.8 0 1 0 -7.7 0zM379.4 238.8a3.8 3.8 0 1 0 7.7 0a3.8 3.8 0 1 0 -7.7 0zM381.1 245.3a3.8 3.8 0 1 0 7.7 0a3.8 3.8 0 1 0 -7.7 0zM382.7 254.2a3.8 3.8 0 1 0 7.7 0a3.8 3.8 0 1 0 -7.7 0zM384.3 257.4a3.8 3.8 0 1 0 7.7 0a3.8 3.8 0 1 0 -7.7 0zM386 261.9a3.8 3.8 0 1 0 7.7 0a3.8 3.8 0 1 0 -7.7 0zM387.6 265.8a3.8 3.8 0 1 0 7.7 0a3.8 3.8 0 1 0 -7.7 0zM389.3 274.8a3.8 3.8 0 1 0 7.7 0a3.8 3.8 0 1 0 -7.7 0zM390.9 277.6a3.8 3.8 0 1 0 7.7 0a3.8 3.8 0 1 0 -7.7 0zM392.5 281.1a3.8 3.8 0 1 0 7.7 0a3.8 3.8 0 1 0 -7.7 0zM394.2 283.5a3.8 3.8 0 1 0 7.7 0a3.8 3.8 0 1 0 -7.7 0zM395.8 289.8a3.8 3.8 0 1 0 7.7 0a3.8 3.8 0 1 0 -7.7 0zM397.5 297.8a3.8 3.8 0 1 0 7.7 0a3.8 3.8 0 1 0 -7.7 0zM399.1 296a3.8 3.8 0 1 0 7.7 0a3.8 3.8 0 1 0 -7.7 0zM400.7 306.4a3.8 3.8 0 1 0 7.7 0a3.8 3.8 0 1 0 -7.7 0zM402.4 310.4a3.8 3.8 0 1 0 7.7 0a3.8 3.8 0 1 0 -7.7 0zM404 318.2a3.8 3.8 0 1 0 7.7 0a3.8 3.8 0 1 0 -7.7 0zM405.6 315.6a3.8 3.8 0 1 0 7.7 0a3.8 3.8 0 1 0 -7.7 0zM408.7 321.7a3.8 3.8 0 1 0 7.7 0a3.8 3.8 0 1 0 -7.7 0zM411.7 331.8a3.8 3.8 0 1 0 7.7 0a3.8 3.8 0 1 0 -7.7 0zM414.8 337.5a3.8 3.8 0 1 0 7.7 0a3.8 3.8 0 1 0 -7.7 0zM417.8 336.1a3.8 3.8 0 1 0 7.7 0a3.8 3.8 0 1 0 -7.7 0zM420.8 356a3.8 3.8 0 1 0 7.7 0a3.8 3.8 0 1 0 -7.7 0zM423.9 358.7a3.9 3.9 0 1 0 7.8 0a3.9 3.9 0 1 0 -7.8 0zM426.7 364.4a4.1 4.1 0 1 0 8.1 0a4.1 4.1 0 1 0 -8.1 0zM429.6 366.9a4.2 4.2 0 1 0 8.5 0a4.2 4.2 0 1 0 -8.5 0zM432.5 376.8a4.4 4.4 0 1 0 8.8 0a4.4 4.4 0 1 0 -8.8 0zM435.3 380.1a4.6 4.6 0 1 0 9.1 0a4.6 4.6 0 1 0 -9.1 0zM438.2 392.2a4.7 4.7 0 1 0 9.5 0a4.7 4.7 0 1 0 -9.5 0zM441.1 394.4a4.9 4.9 0 1 0 9.8 0a4.9 4.9 0 1 0 -9.8 0zM444 402.2a5.1 5.1 0 1 0 10.2 0a5.1 5.1 0 1 0 -10.2 0zM446.8 397.8a5.3 5.3 0 1 0 10.5 0a5.3 5.3 0 1 0 -10.5 0zM449.7 404.1a5.4 5.4 0 1 0 10.9 0a5.4 5.4 0 1 0 -10.9 0zM452.6 410.6a5.6 5.6 0 1 0 11.2 0a5.6 5.6 0 1 0 -11.2 0zM455.4 414.7a5.8 5.8 0 1 0 11.6 0a5.8 5.8 0 1 0 -11.6 0zM458.3 427.3a6 6 0 1 0 11.9 0a6 6 0 1 0 -11.9 0zM461.2 427.5a6.1 6.1 0 1 0 12.3 0a6.1 6.1 0 1 0 -12.3 0zM464.1 426.9a6.3 6.3 0 1 0 12.6 0a6.3 6.3 0 1 0 -12.6 0zM466.9 434.2a6.5 6.5 0 1 0 13 0a6.5 6.5 0 1 0 -13 0zM469.8 446.1a6.7 6.7 0 1 0 13.3 0a6.7 6.7 0 1 0 -13.3 0zM472.7 442.8a6.8 6.8 0 1 0 13.6 0a6.8 6.8 0 1 0 -13.6 0zM475.5 450.3a7 7 0 1 0 14 0a7 7 0 1 0 -14 0zM478.4 446.1a7.2 7.2 0 1 0 14.3 0a7.2 7.2 0 1 0 -14.3 0zM481.3 454.4a7.3 7.3 0 1 0 14.7 0a7.3 7.3 0 1 0 -14.7 0zM484.2 459.8a7.5 7.5 0 1 0 15 0a7.5 7.5 0 1 0 -15 0zM487 463.4a7.7 7.7 0 1 0 15.4 0a7.7 7.7 0 1 0 -15.4 0zM489.9 468.3a7.9 7.9 0 1 0 15.7 0a7.9 7.9 0 1 0 -15.7 0zM492.8 473.4a8 8 0 1 0 16.1 0a8 8 0 1 0 -16.1 0zM495.6 480a8.2 8.2 0 1 0 16.4 0a8.2 8.2 0 1 0 -16.4 0zM498.5 473.4a8.4 8.4 0 1 0 16.8 0a8.4 8.4 0 1 0 -16.8 0zM501.4 483.6a8.6 8.6 0 1 0 17.1 0a8.6 8.6 0 1 0 -17.1 0zM504.3 489.5a8.7 8.7 0 1 0 17.5 0a8.7 8.7 0 1 0 -17.5 0zM507.1 491.4a8.9 8.9 0 1 0 17.8 0a8.9 8.9 0 1 0 -17.8 0zM510 498.2a9.1 9.1 0 1 0 18.1 0a9.1 9.1 0 1 0 -18.1 0zM512.9 497.2a9.2 9.2 0 1 0 18.5 0a9.2 9.2 0 1 0 -18.5 0zM515.7 499.5a9.4 9.4 0 1 0 18.8 0a9.4 9.4 0 1 0 -18.8 0zM518.6 501.5a9.6 9.6 0 1 0 19.2 0a9.6 9.6 0 1 0 -19.2 0zM521.5 511.1a9.8 9.8 0 1 0 19.5 0a9.8 9.8 0 1 0 -19.5 0zM524.3 506.6a9.9 9.9 0 1 0 19.9 0a9.9 9.9 0 1 0 -19.9 0zM527.2 512.9a10.1 10.1 0 1 0 20.2 0a10.1 10.1 0 1 0 -20.2 0zM530.1 517.6a10.3 10.3 0 1 0 20.6 0a10.3 10.3 0 1 0 -20.6 0zM533 523.1a10.5 10.5 0 1 0 20.9 0a10.5 10.5 0 1 0 -20.9 0zM535.8 523.1a10.6 10.6 0 1 0 21.3 0a10.6 10.6 0 1 0 -21.3 0zM538.7 523.9a10.8 10.8 0 1 0 21.6 0a10.8 10.8 0 1 0 -21.6 0zM541.6 532.4a11 11 0 1 0 22 0a11 11 0 1 0 -22 0z" fill="#f00000"/>
<path d="M354.9 18l5.4 -9.5l5.4 9.5zM356.5 61.7l5.4 -9.5l5.4 9.5zM358.2 77.9l5.4 -9.5l5.4 9.5zM359.8 100.5l5.4 -9.5l5.4 9.5zM361.5 108.2l5.4 -9.5l5.4 9.5zM363.1 117.5l5.4 -9.5l5.4 9.5zM364.7 133.5l5.4 -9.5l5.4 9.5zM366.4 141l5.4 -9.5l5.4 9.5zM368 152.6l5.4 -9.5l5.4 9.5zM369.7 156.8l5.4 -9.5l5.4 9.5zM371.3 164.6l5.4 -9.5l5.4 9.5zM372.9 171.3l5.4 -9.5l5.4 9.5zM374.6 178.4l5.4 -9.5l5.4 9.5zM376.2 188.6l5.4 -9.5l5.4 9.5zM377.9 189.6l5.4 -9.5l5.4 9.5zM379.5 200.4l5.4 -9.5l5.4 9.5zM381.1 209.2l5.4 -9.5l5.4 9.5zM382.8 208.3l5.4 -9.5l5.4 9.5zM384.4 216.1l5.4 -9.5l5.4 9.5zM386.1 219.7l5.4 -9.5l5.4 9.5zM387.7 226l5.4 -9.5l5.4 9.5zM389.3 232.7l5.4 -9.5l5.4 9.5zM391 239.2l5.4 -9.5l5.4 9.5zM392.6 244.5l5.4 -9.5l5.4 9.5zM394.3 244.1l5.4 -9.5l5.4 9.5zM395.9 252.9l5.4 -9.5l5.4 9.5zM397.5 253.1l5.4 -9.5l5.4 9.5zM399.2 255.6l5.4 -9.5l5.4 9.5zM400.8 260.3l5.4 -9.5l5.4 9.5zM402.5 261.2l5.4 -9.5l5.4 9.5zM404.1 271.4l5.4 -9.5l5.4 9.5zM407.1 272.6l5.4 -9.5l5.4 9.5zM410.2 285.9l5.4 -9.5l5.4 9.5zM413.2 300.3l5.4 -9.5l5.4 9.5zM416.2 295.4l5.4 -9.5l5.4 9.5zM419.3 297.8l5.4 -9.5l5.4 9.5zM422.1 311.9l5.6 -9.9l5.6 9.9zM424.9 313.5l5.9 -10.3l5.9 10.3zM427.7 322.6l6.1 -10.8l6.1 10.8zM430.5 328.4l6.4 -11.2l6.4 11.2zM433.3 334.8l6.7 -11.6l6.7 11.6zM436.1 346.8l6.9 -12.1l6.9 12.1zM438.8 345.9l7.2 -12.5l7.2 12.5zM441.6 351l7.4 -13l7.4 13zM444.4 354.9l7.7 -13.4l7.7 13.4zM447.2 357.9l7.9 -13.8l7.9 13.8zM450 363.2l8.2 -14.3l8.2 14.3zM452.8 366.6l8.4 -14.7l8.4 14.7zM455.6 377.5l8.7 -15.2l8.7 15.2zM458.4 378.8l8.9 -15.6l8.9 15.6zM461.2 386l9.2 -16l9.2 16zM464 389.4l9.4 -16.5l9.4 16.5zM466.8 399.9l9.7 -16.9l9.7 16.9zM469.6 396.8l9.9 -17.4l9.9 17.4zM472.4 403.3l10.2 -17.8l10.2 17.8zM475.2 403.6l10.4 -18.2l10.4 18.2zM477.9 413.3l10.7 -18.7l10.7 18.7zM480.7 413.1l10.9 -19.1l10.9 19.1zM483.5 417.8l11.2 -19.6l11.2 19.6zM486.3 417.3l11.4 -20l11.4 20zM489.1 427.3l11.7 -20.5l11.7 20.5zM491.9 434.7l11.9 -20.9l11.9 20.9zM494.9 437.3l12 -21l12 21zM497.9 433l12 -21l12 21zM501 442.8l12 -21l12 21zM504 441.1l12 -21l12 21zM507.1 441.5l12 -21l12 21zM510.1 446.1l12 -21l12 21zM513.2 457.4l12 -21l12 21zM516.2 455.6l12 -21l12 21zM519.2 455.9l12 -21l12 21zM522.3 464.1l12 -21l12 21zM525.3 467.1l12 -21l12 21zM528.4 468.2l12 -21l12 21zM531.4 473.8l12 -21l12 21zM534.5 474l12 -21l12 21zM537.5 482.1l12 -21l12 21zM540.6 483.6l12 -21l12 21zM543.6 483.8l12 -21l12 21zM546.6 488.1l12 -21l12 21zM549.7 492.6l12 -21l12 21zM552.7 492.2l12 -21l12 21zM555.8 497l12 -21l12 21zM558.8 497.7l12 -21l12 21zM561.9 499.8l12 -21l12 21zM564.9 497.4l12 -21l12 21zM568 502.1l12 -21l12 21zM571 505.5l12 -21l12 21zM574 511.5l12 -21l12 21zM577.1 522.4l12 -21l12 21zM580.1 513.5l12 -21l12 21zM583.2 517.6l12 -21l12 21zM586.2 517.4l12 -21l12 21zM589.3 522.8l12 -21l12 21zM592.3 525.8l12 -21l12 21zM595.4 531.2l12 -21l12 21zM598.4 526.9l12 -21l12 21zM601.4 535.4l12 -21l12 21zM604.5 537l12 -21l12 21zM607.5 537.6l12 -21l12 21zM610.6 536.9l12 -21l12 21zM613.6 539.8l12 -21l12 21zM616.7 544.9l12 -21l12 21zM619.7 549.6l12 -21l12 21zM622.8 549.8l12 -21l12 21zM625.8 549.9l12 -21l12 21zM628.8 555.5l12 -21l12 21zM631.9 553.5l12 -21l12 21zM634.9 561.5l12 -21l12 21zM638 570.6l12 -21l12 21zM641 561.5l12 -21l12 21zM644.1 568.9l12 -21l12 21zM647.1 564.6l12 -21l12 21zM650.1 570.1l12 -21l12 21zM653.2 573.6l12 -21l12 21zM656.2 577.9l12 -21l12 21zM659.3 576.2l12 -21l12 21zM662.3 582.5l12 -21l12 21zM665.4 576.1l12 -21l12 21zM668.4 581.6l12 -21l12 21zM671.5 584.3l12 -21l12 21zM674.5 586.6l12 -21l12 21zM677.5 587.9l12 -21l12 21zM680.6 596.2l12 -21l12 21zM683.6 591l12 -21l12 21zM686.7 597.4l12 -21l12 21zM689.7 597.5l12 -21l12 21zM692.8 604.7l12 -21l12 21zM695.8 599.3l12 -21l12 21zM698.9 604.2l12 -21l12 21zM701.9 605.6l12 -21l12 21zM704.9 595.3l12 -21l12 21zM708 608.8l12 -21l12 21zM711 612.7l12 -21l12 21zM714.1 616.2l12 -21l12 21zM717.1 609.7l12 -21l12 21zM720.2 614.3l12 -21l12 21zM723.2 620.7l12 -21l12 21zM726.3 614.9l12 -21l12 21zM729.3 617.7l12 -21l12 21zM732.3 624l12 -21l12 21zM735.4 626.1l12 -21l12 21zM738.4 629.9l12 -21l12 21zM741.5 631l12 -21l12 21zM744.5 629.8l12 -21l12 21zM747.6 627.5l12 -21l12 21zM750.6 630.5l12 -21l12 21zM753.7 634.2l12 -21l12 21zM756.7 637.2l12 -21l12 21zM759.7 637.8l12 -21l12 21zM762.8 641.9l12 -21l12 21zM765.8 638.5l12 -21l12 21zM768.9 641.3l12 -21l12 21zM771.9 640.1l12 -21l12 21zM775 652.4l12 -21l12 21zM778 647l12 -21l12 21zM781.1 652.3l12 -21l12 21zM784.1 654.9l12 -21l12 21zM787.1 653.6l12 -21l12 21zM790.2 653.4l12 -21l12 21zM793.2 654l12 -21l12 21zM796.3 656.3l12 -21l12 21zM799.3 653.2l12 -21l12 21zM802.4 658.6l12 -21l12 21zM805.4 664.3l12 -21l12 21zM808.5 664.3l12 -21l12 21zM811.5 667.6l12 -21l12 21zM814.5 669.1l12 -21l12 21zM817.6 670.3l12 -21l12 21zM820.6 669.9l12 -21l12 21zM823.7 671.6l12 -21l12 21zM826.7 675.5l12 -21l12 21zM829.8 672.8l12 -21l12 21zM832.8 671.1l12 -21l12 21zM835.9 679.6l12 -21l12 21zM838.9 678.5l12 -21l12 21zM841.9 683.4l12 -21l12 21zM845 679.2l12 -21l12 21zM848 677.4l12 -21l12 21zM851.1 683.6l12 -21l12 21zM854.1 683.6l12 -21l12 21zM857.2 683.9l12 -21l12 21zM860.2 693.4l12 -21l12 21zM863.3 690.8l12 -21l12 21zM866.3 687.5l12 -21l12 21zM869.3 687.5l12 -21l12 21zM872.4 693.7l12 -21l12 21zM875.4 697.3l12 -21l12 21zM878.5 697.7l12 -21l12 21zM881.5 702l12 -21l12 21zM884.6 700.6l12 -21l12 21zM887.6 702.5l12 -21l12 21zM890.7 696.2l12 -21l12 21zM893.7 707.8l12 -21l12 21zM896.7 703.2l12 -21l12 21zM899.8 709.4l12 -21l12 21zM902.8 702.7l12 -21l12 21zM905.9 706.1l12 -21l12 21zM908.9 714.2l12 -21l12 21zM912 707.7l12 -21l12 21zM915 713.5l12 -21l12 21zM918 713l12 -21l12 21zM921.1 721.2l12 -21l12 21zM924.1 718.1l12 -21l12 21zM927.2 722.3l12 -21l12 21zM930.2 719.4l12 -21l12 21zM933.3 715.3l12 -21l12 21zM936.3 728.6l12 -21l12 21zM939.4 721.4l12 -21l12 21zM942.4 724.7l12 -21l12 21zM945.4 725.7l12 -21l12 21zM948.5 722l12 -21l12 21zM951.5 730.6l12 -21l12 21zM954.6 728.3l12 -21l12 21zM957.6 725.1l12 -21l12 21zM960.7 727.2l12 -21l12 21zM963.7 725.9l12 -21l12 21zM966.8 731.9l12 -21l12 21zM969.8 735l12 -21l12 21zM972.8 733.7l12 -21l12 21zM975.9 737.9l12 -21l12 21zM978.9 738l12 -21l12 21zM982 742l12 -21l12 21zM985 741.5l12 -21l12 21zM988.1 742.2l12 -21l12 21zM991.1 741.3l12 -21l12 21zM994.2 741.3l12 -21l12 21zM997.2 743.3l12 -21l12 21zM1000.2 748.6l12 -21l12 21zM1003.3 747l12 -21l12 21zM1006.3 754.5l12 -21l12 21zM1009.4 753.5l12 -21l12 21zM1012.4 747.7l12 -21l12 21zM1015.5 754.6l12 -21l12 21zM1018.5 758.4l12 -21l12 21zM1021.6 753.4l12 -21l12 21zM1024.6 760.6l12 -21l12 21zM1027.6 755.4l12 -21l12 21zM1030.7 764l12 -21l12 21zM1033.7 761.8l12 -21l12 21zM1036.8 760.4l12 -21l12 21zM1039.8 756.9l12 -21l12 21zM1042.9 763l12 -21l12 21zM1045.9 762l12 -21l12 21zM1049 766.8l12 -21l12 21zM1052 763.8l12 -21l12 21zM1055 769.3l12 -21l12 21zM1058.1 767.3l12 -21l12 21zM1061.1 771.8l12 -21l12 21zM1064.2 773.7l12 -21l12 21zM1067.2 772.7l12 -21l12 21zM1070.3 774.8l12 -21l12 21zM1073.3 777.8l12 -21l12 21zM1076.4 772.3l12 -21l12 21zM1079.4 778.4l12 -21l12 21zM1082.4 778.3l12 -21l12 21zM1085.5 783.8l12 -21l12 21zM1088.5 779l12 -21l12 21zM1091.6 783.9l12 -21l12 21zM1094.6 776.2l12 -21l12 21zM1097.7 786.8l12 -21l12 21zM1100.7 785.2l12 -21l12 21zM1103.8 786.1l12 -21l12 21zM1106.8 788.8l12 -21l12 21zM1109.8 782.9l12 -21l12 21zM1112.9 787.2l12 -21l12 21zM1115.9 789.3l12 -21l12 21zM1119 789l12 -21l12 21zM1122 789.4l12 -21l12 21zM1125.1 795.2l12 -21l12 21zM1128.1 793.2l12 -21l12 21zM1131.2 793.3l12 -21l12 21zM1134.2 795.2l12 -21l12 21zM1137.2 800.3l12 -21l12 21zM1140.3 803.1l12 -21l12 21zM1143.3 801.6l12 -21l12 21zM1146.4 800.7l12 -21l12 21zM1149.4 795.7l12 -21l12 21zM1152.5 799.2l12 -21l12 21zM1155.5 799l12 -21l12 21zM1158.5 800l12 -21l12 21zM1161.6 807.8l12 -21l12 21zM1164.6 803l12 -21l12 21zM1167.7 810.4l12 -21l12 21zM1170.7 807.3l12 -21l12 21zM1173.8 807.4l12 -21l12 21zM1176.8 808.2l12 -21l12 21zM1179.9 805.2l12 -21l12 21zM1182.9 809.4l12 -21l12 21zM1185.9 814.5l12 -21l12 21zM1189 814.9l12 -21l12 21zM1192 814.1l12 -21l12 21zM1195.1 816.8l12 -21l12 21zM1198.1 816l12 -21l12 21zM1201.2 817.7l12 -21l12 21zM1204.2 825.1l12 -21l12 21zM1207.3 818.8l12 -21l12 21zM1210.3 813.7l12 -21l12 21zM1213.3 813.4l12 -21l12 21zM1216.4 818.7l12 -21l12 21zM1219.4 822.7l12 -21l12 21zM1222.5 826.1l12 -21l12 21zM1225.5 823.8l12 -21l12 21zM1228.6 825.2l12 -21l12 21zM1231.6 827.7l12 -21l12 21zM1234.7 823.5l12 -21l12 21zM1237.7 827.4l12 -21l12 21zM1240.7 829.5l12 -21l12 21zM1243.8 828.1l12 -21l12 21zM1246.8 827.6l12 -21l12 21zM1249.9 832.8l12 -21l12 21zM1252.9 835.6l12 -21l12 21zM1256 833.2l12 -21l12 21zM1259 826.2l12 -21l12 21zM1262.1 832.1l12 -21l12 21zM1265.1 834.2l12 -21l12 21zM1268.1 837.9l12 -21l12 21zM1271.2 835.8l12 -21l12 21zM1274.2 836.8l12 -21l12 21zM1277.3 842.2l12 -21l12 21zM1280.3 844l12 -21l12 21zM1283.4 841l12 -21l12 21zM1286.4 838.1l12 -21l12 21zM1289.5 838.6l12 -21l12 21zM1292.5 845.4l12 -21l12 21zM1295.5 841.7l12 -21l12 21zM1298.6 845l12 -21l12 21zM1301.6 845.3l12 -21l12 21zM1304.7 847.2l12 -21l12 21zM1307.7 848.7l12 -21l12 21zM1310.8 845.1l12 -21l12 21zM1313.8 847.2l12 -21l12 21zM1316.9 850.7l12 -21l12 21zM1319.9 851l12 -21l12 21zM1322.9 847.4l12 -21l12 21zM1326 858.8l12 -21l12 21zM1329 849l12 -21l12 21zM1332.1 857.6l12 -21l12 21zM1335.1 849.9l12 -21l12 21zM1338.2 859.1l12 -21l12 21zM1341.2 851.1l12 -21l12 21zM1344.3 860.5l12 -21l12 21zM1347.3 859l12 -21l12 21zM1350.3 861.8l12 -21l12 21zM1353.4 857.6l12 -21l12 21zM1356.4 861.7l12 -21l12 21zM1359.5 862.4l12 -21l12 21zM1362.5 863l12 -21l12 21zM1365.6 861.5l12 -21l12 21zM1368.6 868.5l12 -21l12 21zM1371.7 859.1l12 -21l12 21zM1374.7 860.7l12 -21l12 21zM1377.7 861.8l12 -21l12 21zM1380.8 871.9l12 -21l12 21zM1383.8 865.2l12 -21l12 21zM1386.9 866.5l12 -21l12 21zM1389.9 867.3l12 -21l12 21zM1393 869.4l12 -21l12 21zM1396 870.4l12 -21l12 21zM1399.1 870.5l12 -21l12 21zM1402.1 867.9l12 -21l12 21zM1405.1 875l12 -21l12 21zM1408.2 874.4l12 -21l12 21zM1411.2 880.1l12 -21l12 21zM1414.3 877.3l12 -21l12 21zM1417.3 876.5l12 -21l12 21zM1420.4 872.9l12 -21l12 21zM1423.4 878.6l12 -21l12 21zM1426.4 881l12 -21l12 21zM1429.5 885.2l12 -21l12 21zM1432.5 881.9l12 -21l12 21zM1435.6 884l12 -21l12 21zM1438.6 884.1l12 -21l12 21zM1441.7 888.2l12 -21l12 21zM1444.7 887.4l12 -21l12 21zM1447.8 884.6l12 -21l12 21zM1450.8 880.5l12 -21l12 21zM1453.8 891.2l12 -21l12 21zM1456.9 887l12 -21l12 21zM1459.9 884.9l12 -21l12 21zM1463 883.6l12 -21l12 21zM1466 883.2l12 -21l12 21zM1469.1 890.5l12 -21l12 21zM1472.1 889.9l12 -21l12 21zM1475.2 892.2l12 -21l12 21zM1478.2 895.9l12 -21l12 21zM1481.2 890.7l12 -21l12 21zM1484.3 894.3l12 -21l12 21zM1487.3 892.4l12 -21l12 21zM1490.4 892.1l12 -21l12 21zM1493.4 888.4l12 -21l12 21zM1496.5 893.8l12 -21l12 21zM1499.5 900.6l12 -21l12 21zM1502.6 896.1l12 -21l12 21zM1505.6 899.5l12 -21l12 21zM1508.6 899.6l12 -21l12 21zM1511.7 906.5l12 -21l12 21zM1514.7 905.4l12 -21l12 21zM1517.8 899.3l12 -21l12 21zM1520.8 900.8l12 -21l12 21zM1523.9 906.6l12 -21l12 21zM1526.9 904.4l12 -21l12 21zM1530 904.7l12 -21l12 21zM1533 908.8l12 -21l12 21zM1536 907.6l12 -21l12 21zM1539.1 907l12 -21l12 21zM1542.1 917l12 -21l12 21zM1545.2 909.2l12 -21l12 21zM1548.2 904.3l12 -21l12 21zM1551.3 910.4l12 -21l12 21zM1554.3 910.9l12 -21l12 21zM1557.4 916.2l12 -21l12 21zM1560.4 912.5l12 -21l12 21zM1563.4 910.1l12 -21l12 21zM1566.5 914l12 -21l12 21zM1569.5 909.5l12 -21l12 21zM1572.6 913l12 -21l12 21zM1575.6 916l12 -21l12 21zM1578.7 912.8l12 -21l12 21zM1581.7 909.7l12 -21l12 21zM1584.8 913.5l12 -21l12 21zM1587.8 914.9l12 -21l12 21zM1590.8 920.1l12 -21l12 21zM1593.9 917.4l12 -21l12 21zM1596.9 919.3l12 -21l12 21zM1600 917.2l12 -21l12 21zM1603 921.1l12 -21l12 21zM1606.1 919.5l12 -21l12 21zM1609.1 924l12 -21l12 21zM1612.2 923.6l12 -21l12 21zM1615.2 928.2l12 -21l12 21zM1618.2 926.1l12 -21l12 21zM1621.3 923.8l12 -21l12 21zM1624.3 922.7l12 -21l12 21zM1627.4 926.8l12 -21l12 21zM1630.4 929.2l12 -21l12 21zM1633.5 932.5l12 -21l12 21zM1636.5 926.3l12 -21l12 21zM1639.6 924.5l12 -21l12 21zM1642.6 923.5l12 -21l12 21zM1645.6 926.8l12 -21l12 21zM1648.7 930.1l12 -21l12 21zM1651.7 930.4l12 -21l12 21zM1654.8 930.9l12 -21l12 21zM1657.8 932.5l12 -21l12 21zM1660.9 934.3l12 -21l12 21zM1663.9 928.5l12 -21l12 21zM1666.9 934.7l12 -21l12 21zM1670 934.6l12 -21l12 21zM1673 935.2l12 -21l12 21zM1676.1 935l12 -21l12 21zM1679.1 931l12 -21l12 21zM1682.2 939.2l12 -21l12 21zM1685.2 936.8l12 -21l12 21zM1688.3 938.5l12 -21l12 21zM1691.3 940.6l12 -21l12 21zM1694.3 940.3l12 -21l12 21zM1697.4 942.2l12 -21l12 21zM1700.4 942.8l12 -21l12 21zM1703.5 939.1l12 -21l12 21zM1706.5 939l12 -21l12 21zM1709.6 946l12 -21l12 21zM1712.6 941.5l12 -21l12 21zM1715.7 951.6l12 -21l12 21zM1718.7 941.7l12 -21l12 21zM1721.7 946.4l12 -21l12 21zM1724.8 946.2l12 -21l12 21zM1727.8 947.9l12 -21l12 21zM1730.9 944.7l12 -21l12 21zM1733.9 949.4l12 -21l12 21zM1737 955.3l12 -21l12 21zM1740 947.8l12 -21l12 21zM1743.1 943.1l12 -21l12 21zM1746.1 952.8l12 -21l12 21zM1749.1 952.7l12 -21l12 21zM1752.2 954.1l12 -21l12 21zM1755.2 950l12 -21l12 21zM1758.3 954.5l12 -21l12 21zM1761.3 956.6l12 -21l12 21zM1764.4 952.9l12 -21l12 21zM1767.4 955.2l12 -21l12 21zM1770.5 957.3l12 -21l12 21zM1773.5 958.6l12 -21l12 21zM1776.5 956.1l12 -21l12 21zM1779.6 958.1l12 -21l12 21zM1782.6 964.4l12 -21l12 21zM1785.7 965.1l12 -21l12 21zM1788.7 955.9l12 -21l12 21zM1791.8 966.8l12 -21l12 21zM1794.8 959.2l12 -21l12 21zM1797.9 964.4l12 -21l12 21zM1800.9 957.6l12 -21l12 21zM1803.9 961.5l12 -21l12 21zM1807 960.7l12 -21l12 21zM1810 966l12 -21l12 21zM1813.1 964.6l12 -21l12 21zM1816.1 965.9l12 -21l12 21zM1819.2 966.4l12 -21l12 21zM1822.2 966.3l12 -21l12 21zM1825.3 969.2l12 -21l12 21zM1828.3 967.2l12 -21l12 21zM1831.3 967.1l12 -21l12 21zM1834.4 966l12 -21l12 21zM1837.4 965.7l12 -21l12 21zM1840.5 967.4l12 -21l12 21zM1843.5 970.9l12 -21l12 21zM1846.6 973.5l12 -21l12 21zM1849.6 970.5l12 -21l12 21zM1852.7 977.8l12 -21l12 21zM1855.7 976l12 -21l12 21zM1858.7 972.7l12 -21l12 21zM1861.8 974.3l12 -21l12 21zM1864.8 973.6l12 -21l12 21zM1867.9 968.4l12 -21l12 21zM1870.9 977.5l12 -21l12 21zM1874 976.1l12 -21l12 21zM1877 970.6l12 -21l12 21zM1880.1 979.4l12 -21l12 21zM1883.1 975.3l12 -21l12 21zM1886.1 976.9l12 -21l12 21zM1889.2 972.7l12 -21l12 21zM1892.2 978.7l12 -21l12 21zM1895.3 980.7l12 -21l12 21zM1898.3 978.5l12 -21l12 21zM1901.4 980.4l12 -21l12 21zM1904.4 975l12 -21l12 21zM1907.4 983.2l12 -21l12 21zM1910.5 981.9l12 -21l12 21zM1913.5 982.5l12 -21l12 21zM1916.6 985.3l12 -21l12 21zM1919.6 987l12 -21l12 21zM1922.7 984l12 -21l12 21zM1925.7 987.7l12 -21l12 21zM1928.8 991.2l12 -21l12 21zM1931.8 982.4l12 -21l12 21zM1934.8 986.8l12 -21l12 21zM1937.9 981.8l12 -21l12 21zM1940.9 988.7l12 -21l12 21zM1944 992.5l12 -21l12 21zM1947 988.2l12 -21l12 21zM1950.1 985.5l12 -21l12 21zM1953.1 988l12 -21l12 21zM1956.2 991.6l12 -21l12 21zM1959.2 986l12 -21l12 21zM1962.2 986.8l12 -21l12 21zM1965.3 993.3l12 -21l12 21zM1968.3 988l12 -21l12 21zM1971.4 993.2l12 -21l12 21zM1974.4 990l12 -21l12 21zM1977.5 988.9l12 -21l12 21zM1980.5 997.1l12 -21l12 21zM1983.6 998.7l12 -21l12 21zM1986.6 993.1l12 -21l12 21zM1989.6 1003.5l12 -21l12 21zM1992.7 997.2l12 -21l12 21zM1995.7 998.9l12 -21l12 21zM1998.8 998.4l12 -21l12 21zM2001.8 994.8l12 -21l12 21zM2004.9 1002.2l12 -21l12 21zM2007.9 999.9l12 -21l12 21zM2011 1001.6l12 -21l12 21zM2014 1000.9l12 -21l12 21zM2017 999.7l12 -21l12 21zM2020.1 1009.1l12 -21l12 21zM2023.1 1003.5l12 -21l12 21zM2026.2 1001.9l12 -21l12 21zM2029.2 1005.3l12 -21l12 21zM2032.3 999.7l12 -21l12 21zM2035.3 1005.3l12 -21l12 21zM2038.4 1013.4l12 -21l12 21zM2041.4 1003l12 -21l12 21zM2044.4 1007.3l12 -21l12 21zM2047.5 1002.4l12 -21l12 21zM2050.5 1006.8l12 -21l12 21zM2053.6 1010.8l12 -21l12 21zM2056.6 1004.5l12 -21l12 21zM2059.7 1005.3l12 -21l12 21zM2062.7 1012.5l12 -21l12 21zM2065.8 1010.1l12 -21l12 21zM2068.8 1011.9l12 -21l12 21zM2071.8 1012l12 -21l12 21zM2074.9 1006.7l12 -21l12 21zM2077.9 1005.8l12 -21l12 21zM2081 1005.7l12 -21l12 21zM2084 1013.9l12 -21l12 21zM2087.1 1008.2l12 -21l12 21zM2090.1 1007.6l12 -21l12 21zM2093.2 1012l12 -21l12 21zM2096.2 1013.8l12 -21l12 21zM2099.2 1015.6l12 -21l12 21zM2102.3 1009.4l12 -21l12 21zM2105.3 1020.1l12 -21l12 21zM2108.4 1013.2l12 -21l12 21zM2111.4 1017.2l12 -21l12 21zM2114.5 1017.1l12 -21l12 21zM2117.5 1014.5l12 -21l12 21zM2120.6 1019.5l12 -21l12 21zM2123.6 1019.9l12 -21l12 21zM2126.6 1022.9l12 -21l12 21zM2129.7 1026l12 -21l12 21zM2132.7 1027.2l12 -21l12 21zM2135.8 1023.8l12 -21l12 21zM2138.8 1023.5l12 -21l12 21zM2141.9 1020.6l12 -21l12 21zM2144.9 1017.4l12 -21l12 21zM2148 1024.1l12 -21l12 21zM2151 1021.3l12 -21l12 21zM2154 1022.8l12 -21l12 21zM2157.1 1022.6l12 -21l12 21zM2160.1 1026l12 -21l12 21zM2163.2 1023.9l12 -21l12 21zM2166.2 1033.4l12 -21l12 21zM2169.3 1029l12 -21l12 21zM2172.3 1025l12 -21l12 21zM2175.3 1028.3l12 -21l12 21zM2178.4 1032.1l12 -21l12 21zM2181.4 1024.2l12 -21l12 21zM2184.5 1029.3l12 -21l12 21zM2187.5 1027.3l12 -21l12 21zM2190.6 1029.7l12 -21l12 21zM2193.6 1028.4l12 -21l12 21zM2196.7 1031.1l12 -21l12 21zM2199.7 1032.4l12 -21l12 21zM2202.7 1033.5l12 -21l12 21zM2205.8 1027.1l12 -21l12 21zM2208.8 1034.7l12 -21l12 21zM2211.9 1033l12 -21l12 21zM2214.9 1031.3l12 -21l12 21zM2218 1033.6l12 -21l12 21zM2221 1039.5l12 -21l12 21zM2224.1 1034.2l12 -21l12 21zM2227.1 1032.4l12 -21l12 21zM2230.1 1038l12 -21l12 21zM2233.2 1035.5l12 -21l12 21zM2236.2 1038.9l12 -21l12 21zM2239.3 1038l12 -21l12 21zM2242.3 1042l12 -21l12 21zM2245.4 1036.1l12 -21l12 21zM2248.4 1037.3l12 -21l12 21zM2251.5 1042.6l12 -21l12 21zM2254.5 1045l12 -21l12 21zM2257.5 1040.6l12 -21l12 21zM2260.6 1044.4l12 -21l12 21zM2263.6 1042.4l12 -21l12 21zM2266.7 1041.4l12 -21l12 21zM2269.7 1036.4l12 -21l12 21zM2272.8 1049.1l12 -21l12 21zM2275.8 1046.5l12 -21l12 21zM2278.9 1035.8l12 -21l12 21zM2281.9 1046.2l12 -21l12 21z" fill="#0000e0" stroke="#0000c4" stroke-width="1.5"/>
<path d="M359.5 -212.2 L359.5 -207.4 L359.5 -201.1 L359.5 -194.2 L359.5 -186.8 L359.5 -179.2 L359.5 -171.2 L359.6 -163.1 L359.6 -154.7 L359.6 -146.2 L359.7 -137.5 L359.7 -128.7 L359.8 -119.8 L359.8 -110.8 L359.9 -101.7 L360 -92.5 L360.1 -83.2 L360.3 -73.9 L360.4 -64.5 L360.6 -55 L360.8 -45.5 L361 -35.9 L361.2 -26.3 L361.4 -16.6 L361.7 -6.9 L362 2.8 L362.3 12.5 L362.6 22.3 L362.9 32.1 L363.3 41.9 L363.7 51.8 L364.2 61.6 L364.6 71.5 L365.1 81.4 L365.7 91.3 L366.2 101.2 L366.8 111.1 L367.5 121 L368.1 130.9 L368.8 140.8 L369.5 150.7 L370.3 160.6 L371.1 170.5 L372 180.4 L372.9 190.3 L373.8 200.2 L374.8 210 L375.8 219.9 L376.9 229.8 L378 239.6 L379.1 249.4 L380.3 259.2 L381.6 269.1 L382.9 278.8 L384.2 288.6 L385.6 298.4 L387.1 308.1 L388.6 317.8 L390.1 327.5 L391.7 337.2 L391.7 337.2 L396.5 364 L401.3 388.3 L406 410.8 L410.8 431.7 L415.6 451.2 L420.3 469.5 L425.1 486.8 L429.9 503.1 L434.6 518.7 L439.4 533.5 L444.2 547.7 L448.9 561.3 L453.7 574.4 L458.5 587 L463.2 599.1 L468 610.7 L472.8 622 L477.6 633 L482.3 643.6 L487.1 653.9 L491.9 663.8 L496.6 673.5 L501.4 683 L506.2 692.2 L510.9 701.1 L515.7 709.9 L520.5 718.4 L525.2 726.7 L530 734.9 L534.8 742.8 L539.5 750.6 L544.3 758.2 L549.1 765.7 L553.8 773 L558.6 780.2 L563.4 787.2 L568.1 794.1 L572.9 800.9 L577.7 807.5 L582.4 814 L587.2 820.4 L592 826.7 L596.7 832.9 L601.5 839 L606.3 845 L611 850.9 L615.8 856.7 L620.6 862.4 L625.3 868 L630.1 873.6 L634.9 879 L639.6 884.4 L644.4 889.7 L649.2 894.9 L653.9 900.1 L658.7 905.2 L663.5 910.2 L668.2 915.1 L673 920 L677.8 924.8 L682.5 929.6 L687.3 934.3 L692.1 938.9 L696.8 943.5 L701.6 948 L706.4 952.5 L711.2 956.9 L715.9 961.3 L720.7 965.6 L725.5 969.9 L730.2 974.1 L735 978.3 L739.8 982.4 L744.5 986.5 L749.3 990.5 L754.1 994.5 L758.8 998.4 L763.6 1002.3 L768.4 1006.2 L773.1 1010 L777.9 1013.8 L782.7 1017.6 L787.4 1021.3 L792.2 1025 L797 1028.6 L801.7 1032.2 L806.5 1035.8 L811.3 1039.3 L816 1042.8 L820.8 1046.3 L825.6 1049.7 L830.3 1053.1 L835.1 1056.5 L839.9 1059.8 L844.6 1063.1 L849.4 1066.4 L854.2 1069.7 L858.9 1072.9 L863.7 1076.1 L868.5 1079.3 L873.2 1082.4 L878 1085.5 L882.8 1088.6 L887.5 1091.7 L892.3 1094.7 L897.1 1097.8 L901.8 1100.7 L906.6 1103.7 L911.4 1106.7 L916.1 1109.6 L920.9 1112.5 L925.7 1115.3 L930.4 1118.2 L935.2 1121 L940 1123.8 L944.7 1126.6 L949.5 1129.4 L954.3 1132.1 L959.1 1134.9 L963.8 1137.6 L968.6 1140.2 L973.4 1142.9 L978.1 1145.6 L982.9 1148.2 L987.7 1150.8 L992.4 1153.4 L997.2 1155.9 L1002 1158.5 L1006.7 1161 L1011.5 1163.6 L1016.3 1166.1 L1021 1168.5 L1025.8 1171 L1030.6 1173.5 L1035.3 1175.9 L1040.1 1178.3 L1044.9 1180.7 L1049.6 1183.1 L1054.4 1185.5 L1059.2 1187.8 L1063.9 1190.1 L1068.7 1192.5 L1073.5 1194.8 L1078.2 1197.1 L1083 1199.4 L1087.8 1201.6 L1092.5 1203.9 L1097.3 1206.1 L1102.1 1208.3 L1106.8 1210.5 L1111.6 1212.7 L1116.4 1214.9 L1121.1 1217.1 L1125.9 1219.2 L1130.7 1221.4 L1135.4 1223.5 L1140.2 1225.6 L1145 1227.7 L1149.7 1229.8 L1154.5 1231.9 L1159.3 1234 L1164 1236 L1168.8 1238.1 L1173.6 1240.1 L1178.3 1242.1 L1183.1 1244.1 L1187.9 1246.1 L1192.6 1248.1 L1197.4 1250.1 L1202.2 1252.1 L1207 1254 L1211.7 1256 L1216.5 1257.9 L1221.3 1259.8 L1226 1261.7 L1230.8 1263.6 L1235.6 1265.5 L1240.3 1267.4 L1245.1 1269.3 L1249.9 1271.1 L1254.6 1273 L1259.4 1274.8 L1264.2 1276.6 L1268.9 1278.5 L1273.7 1280.3 L1278.5 1282.1 L1283.2 1283.9 L1288 1285.7 L1292.8 1287.4 L1297.5 1289.2 L1302.3 1291 L1307.1 1292.7 L1311.8 1294.5 L1316.6 1296.2 L1321.4 1297.9 L1326.1 1299.6 L1330.9 1301.3 L1335.7 1303 L1340.4 1304.7 L1345.2 1306.4 L1350 1308.1 L1354.7 1309.7 L1359.5 1311.4 L1364.3 1313 L1369 1314.7 L1373.8 1316.3 L1378.6 1317.9 L1383.3 1319.6 L1388.1 1321.2 L1392.9 1322.8 L1397.6 1324.4 L1402.4 1325.9 L1407.2 1327.5 L1411.9 1329.1 L1416.7 1330.7 L1421.5 1332.2 L1426.2 1333.8 L1431 1335.3 L1435.8 1336.9 L1440.6 1338.4 L1445.3 1339.9 L1450.1 1341.4 L1454.9 1342.9 L1459.6 1344.4 L1464.4 1345.9 L1469.2 1347.4 L1473.9 1348.9 L1478.7 1350.4 L1483.5 1351.9 L1488.2 1353.3 L1493 1354.8 L1497.8 1356.2 L1502.5 1357.7 L1507.3 1359.1 L1512.1 1360.5 L1516.8 1362 L1521.6 1363.4 L1526.4 1364.8 L1531.1 1366.2 L1535.9 1367.6 L1540.7 1369 L1545.4 1370.4 L1550.2 1371.8 L1555 1373.2 L1559.7 1374.5 L1564.5 1375.9 L1569.3 1377.3 L1574 1378.6 L1578.8 1380 L1583.6 1381.3 L1588.3 1382.7 L1593.1 1384 L1597.9 1385.3 L1602.6 1386.7 L1607.4 1388 L1612.2 1389.3 L1616.9 1390.6 L1621.7 1391.9 L1626.5 1393.2 L1631.2 1394.5 L1636 1395.8 L1640.8 1397.1 L1645.5 1398.3 L1650.3 1399.6 L1655.1 1400.9 L1659.8 1402.2 L1664.6 1403.4 L1669.4 1404.7 L1674.1 1405.9 L1678.9 1407.2 L1683.7 1408.4 L1688.5 1409.6 L1693.2 1410.9 L1698 1412.1 L1702.8 1413.3 L1707.5 1414.5 L1712.3 1415.7 L1717.1 1416.9 L1721.8 1418.1 L1726.6 1419.3 L1731.4 1420.5 L1736.1 1421.7 L1740.9 1422.9 L1745.7 1424.1 L1750.4 1425.3 L1755.2 1426.4 L1760 1427.6 L1764.7 1428.8 L1769.5 1429.9 L1774.3 1431.1 L1779 1432.2 L1783.8 1433.4 L1788.6 1434.5 L1793.3 1435.7 L1798.1 1436.8 L1802.9 1437.9 L1807.6 1439.1 L1812.4 1440.2 L1817.2 1441.3 L1821.9 1442.4 L1826.7 1443.5 L1831.5 1444.6 L1836.2 1445.7 L1841 1446.8 L1845.8 1447.9 L1850.5 1449 L1855.3 1450.1 L1860.1 1451.2 L1864.8 1452.3 L1869.6 1453.3 L1874.4 1454.4 L1879.1 1455.5 L1883.9 1456.6 L1888.7 1457.6 L1893.4 1458.7 L1898.2 1459.7 L1903 1460.8 L1907.7 1461.8 L1912.5 1462.9 L1917.3 1463.9 L1922 1465 L1926.8 1466 L1931.6 1467 L1936.4 1468 L1941.1 1469.1 L1945.9 1470.1 L1950.7 1471.1 L1955.4 1472.1 L1960.2 1473.1 L1965 1474.1 L1969.7 1475.1 L1974.5 1476.1 L1979.3 1477.1 L1984 1478.1 L1988.8 1479.1 L1993.6 1480.1 L1998.3 1481.1 L2003.1 1482.1 L2007.9 1483.1 L2012.6 1484 L2017.4 1485 L2022.2 1486 L2026.9 1487 L2031.7 1487.9 L2036.5 1488.9 L2041.2 1489.8 L2046 1490.8 L2050.8 1491.7 L2055.5 1492.7 L2060.3 1493.6 L2065.1 1494.6 L2069.8 1495.5 L2074.6 1496.5 L2079.4 1497.4 L2084.1 1498.3 L2088.9 1499.2 L2093.7 1500.2 L2098.4 1501.1 L2103.2 1502 L2108 1502.9 L2112.7 1503.8 L2117.5 1504.8 L2122.3 1505.7 L2127 1506.6 L2131.8 1507.5 L2136.6 1508.4 L2141.3 1509.3 L2146.1 1510.2 L2150.9 1511.1 L2155.6 1512 L2160.4 1512.8 L2165.2 1513.7 L2169.9 1514.6 L2174.7 1515.5 L2179.5 1516.4 L2184.3 1517.2 L2189 1518.1 L2193.8 1519 L2198.6 1519.8 L2203.3 1520.7 L2208.1 1521.6 L2212.9 1522.4 L2217.6 1523.3 L2222.4 1524.1 L2227.2 1525 L2231.9 1525.8 L2236.7 1526.7 L2241.5 1527.5 L2246.2 1528.4 L2251 1529.2 L2255.8 1530.1 L2260.5 1530.9 L2265.3 1531.7 L2270.1 1532.6 L2274.8 1533.4 L2279.6 1534.2 L2284.4 1535 L2289.1 1535.9 L2293.9 1536.7" fill="none" stroke="#22e4f2" stroke-width="6.5"/>
<path d="M359.5 50.6 L359.5 51.3 L359.5 52.6 L359.5 54.2 L359.5 55.9 L359.5 57.9 L359.5 60.1 L359.6 62.4 L359.6 64.8 L359.6 67.4 L359.7 70.1 L359.7 72.9 L359.8 75.8 L359.8 78.8 L359.9 81.9 L360 85.1 L360.1 88.3 L360.3 91.7 L360.4 95.1 L360.6 98.6 L360.8 102.1 L361 105.7 L361.2 109.4 L361.4 113.2 L361.7 117 L362 120.9 L362.3 124.8 L362.6 128.8 L362.9 132.8 L363.3 136.9 L363.7 141 L364.2 145.2 L364.6 149.4 L365.1 153.7 L365.7 158 L366.2 162.3 L366.8 166.7 L367.5 171.1 L368.1 175.6 L368.8 180.1 L369.5 184.6 L370.3 189.2 L371.1 193.8 L372 198.4 L372.9 203.1 L373.8 207.8 L374.8 212.5 L375.8 217.2 L376.9 222 L378 226.8 L379.1 231.6 L380.3 236.5 L381.6 241.4 L382.9 246.3 L384.2 251.2 L385.6 256.1 L387.1 261.1 L388.6 266.1 L390.1 271.1 L391.7 276.1 L391.7 276.1 L396.5 290.1 L401.3 303.1 L406 315.2 L410.8 326.6 L415.6 337.4 L420.3 347.6 L425.1 357.3 L429.9 366.6 L434.6 375.5 L439.4 384 L444.2 392.2 L448.9 400.2 L453.7 407.9 L458.5 415.3 L463.2 422.5 L468 429.5 L472.8 436.3 L477.6 442.9 L482.3 449.4 L487.1 455.6 L491.9 461.8 L496.6 467.7 L501.4 473.6 L506.2 479.3 L510.9 484.9 L515.7 490.4 L520.5 495.7 L525.2 501 L530 506.2 L534.8 511.2 L539.5 516.2 L544.3 521.1 L549.1 525.9 L553.8 530.6 L558.6 535.2 L563.4 539.8 L568.1 544.3 L572.9 548.7 L577.7 553 L582.4 557.3 L587.2 561.5 L592 565.7 L596.7 569.8 L601.5 573.8 L606.3 577.8 L611 581.7 L615.8 585.6 L620.6 589.5 L625.3 593.2 L630.1 597 L634.9 600.6 L639.6 604.3 L644.4 607.9 L649.2 611.4 L653.9 614.9 L658.7 618.4 L663.5 621.8 L668.2 625.2 L673 628.6 L677.8 631.9 L682.5 635.2 L687.3 638.4 L692.1 641.6 L696.8 644.8 L701.6 647.9 L706.4 651.1 L711.2 654.1 L715.9 657.2 L720.7 660.2 L725.5 663.2 L730.2 666.2 L735 669.1 L739.8 672 L744.5 674.9 L749.3 677.7 L754.1 680.5 L758.8 683.3 L763.6 686.1 L768.4 688.9 L773.1 691.6 L777.9 694.3 L782.7 697 L787.4 699.6 L792.2 702.3 L797 704.9 L801.7 707.5 L806.5 710 L811.3 712.6 L816 715.1 L820.8 717.6 L825.6 720.1 L830.3 722.6 L835.1 725 L839.9 727.5 L844.6 729.9 L849.4 732.3 L854.2 734.7 L858.9 737 L863.7 739.4 L868.5 741.7 L873.2 744 L878 746.3 L882.8 748.6 L887.5 750.8 L892.3 753.1 L897.1 755.3 L901.8 757.5 L906.6 759.7 L911.4 761.9 L916.1 764 L920.9 766.2 L925.7 768.3 L930.4 770.4 L935.2 772.6 L940 774.6 L944.7 776.7 L949.5 778.8 L954.3 780.8 L959.1 782.9 L963.8 784.9 L968.6 786.9 L973.4 788.9 L978.1 790.9 L982.9 792.9 L987.7 794.9 L992.4 796.8 L997.2 798.8 L1002 800.7 L1006.7 802.6 L1011.5 804.5 L1016.3 806.4 L1021 808.3 L1025.8 810.2 L1030.6 812 L1035.3 813.9 L1040.1 815.7 L1044.9 817.6 L1049.6 819.4 L1054.4 821.2 L1059.2 823 L1063.9 824.8 L1068.7 826.6 L1073.5 828.3 L1078.2 830.1 L1083 831.9 L1087.8 833.6 L1092.5 835.3 L1097.3 837.1 L1102.1 838.8 L1106.8 840.5 L1111.6 842.2 L1116.4 843.9 L1121.1 845.5 L1125.9 847.2 L1130.7 848.9 L1135.4 850.5 L1140.2 852.2 L1145 853.8 L1149.7 855.4 L1154.5 857.1 L1159.3 858.7 L1164 860.3 L1168.8 861.9 L1173.6 863.5 L1178.3 865 L1183.1 866.6 L1187.9 868.2 L1192.6 869.7 L1197.4 871.3 L1202.2 872.8 L1207 874.4 L1211.7 875.9 L1216.5 877.4 L1221.3 878.9 L1226 880.4 L1230.8 881.9 L1235.6 883.4 L1240.3 884.9 L1245.1 886.4 L1249.9 887.8 L1254.6 889.3 L1259.4 890.8 L1264.2 892.2 L1268.9 893.7 L1273.7 895.1 L1278.5 896.5 L1283.2 898 L1288 899.4 L1292.8 900.8 L1297.5 902.2 L1302.3 903.6 L1307.1 905 L1311.8 906.4 L1316.6 907.8 L1321.4 909.1 L1326.1 910.5 L1330.9 911.9 L1335.7 913.2 L1340.4 914.6 L1345.2 915.9 L1350 917.3 L1354.7 918.6 L1359.5 919.9 L1364.3 921.3 L1369 922.6 L1373.8 923.9 L1378.6 925.2 L1383.3 926.5 L1388.1 927.8 L1392.9 929.1 L1397.6 930.4 L1402.4 931.7 L1407.2 933 L1411.9 934.2 L1416.7 935.5 L1421.5 936.8 L1426.2 938 L1431 939.3 L1435.8 940.5 L1440.6 941.8 L1445.3 943 L1450.1 944.2 L1454.9 945.5 L1459.6 946.7 L1464.4 947.9 L1469.2 949.1 L1473.9 950.3 L1478.7 951.5 L1483.5 952.7 L1488.2 953.9 L1493 955.1 L1497.8 956.3 L1502.5 957.5 L1507.3 958.7 L1512.1 959.8 L1516.8 961 L1521.6 962.2 L1526.4 963.3 L1531.1 964.5 L1535.9 965.6 L1540.7 966.8 L1545.4 967.9 L1550.2 969.1 L1555 970.2 L1559.7 971.3 L1564.5 972.5 L1569.3 973.6 L1574 974.7 L1578.8 975.8 L1583.6 976.9 L1588.3 978 L1593.1 979.1 L1597.9 980.2 L1602.6 981.3 L1607.4 982.4 L1612.2 983.5 L1616.9 984.6 L1621.7 985.7 L1626.5 986.8 L1631.2 987.8 L1636 988.9 L1640.8 990 L1645.5 991 L1650.3 992.1 L1655.1 993.1 L1659.8 994.2 L1664.6 995.2 L1669.4 996.3 L1674.1 997.3 L1678.9 998.4 L1683.7 999.4 L1688.5 1000.4 L1693.2 1001.4 L1698 1002.5 L1702.8 1003.5 L1707.5 1004.5 L1712.3 1005.5 L1717.1 1006.5 L1721.8 1007.5 L1726.6 1008.5 L1731.4 1009.5 L1736.1 1010.5 L1740.9 1011.5 L1745.7 1012.5 L1750.4 1013.5 L1755.2 1014.5 L1760 1015.5 L1764.7 1016.5 L1769.5 1017.4 L1774.3 1018.4 L1779 1019.4 L1783.8 1020.3 L1788.6 1021.3 L1793.3 1022.3 L1798.1 1023.2 L1802.9 1024.2 L1807.6 1025.1 L1812.4 1026.1 L1817.2 1027 L1821.9 1028 L1826.7 1028.9 L1831.5 1029.8 L1836.2 1030.8 L1841 1031.7 L1845.8 1032.6 L1850.5 1033.6 L1855.3 1034.5 L1860.1 1035.4 L1864.8 1036.3 L1869.6 1037.2 L1874.4 1038.1 L1879.1 1039.1 L1883.9 1040 L1888.7 1040.9 L1893.4 1041.8 L1898.2 1042.7 L1903 1043.6 L1907.7 1044.5 L1912.5 1045.3 L1917.3 1046.2 L1922 1047.1 L1926.8 1048 L1931.6 1048.9 L1936.4 1049.8 L1941.1 1050.6 L1945.9 1051.5 L1950.7 1052.4 L1955.4 1053.2 L1960.2 1054.1 L1965 1055 L1969.7 1055.8 L1974.5 1056.7 L1979.3 1057.5 L1984 1058.4 L1988.8 1059.2 L1993.6 1060.1 L1998.3 1060.9 L2003.1 1061.8 L2007.9 1062.6 L2012.6 1063.5 L2017.4 1064.3 L2022.2 1065.1 L2026.9 1066 L2031.7 1066.8 L2036.5 1067.6 L2041.2 1068.4 L2046 1069.3 L2050.8 1070.1 L2055.5 1070.9 L2060.3 1071.7 L2065.1 1072.5 L2069.8 1073.3 L2074.6 1074.2 L2079.4 1075 L2084.1 1075.8 L2088.9 1076.6 L2093.7 1077.4 L2098.4 1078.2 L2103.2 1079 L2108 1079.8 L2112.7 1080.6 L2117.5 1081.3 L2122.3 1082.1 L2127 1082.9 L2131.8 1083.7 L2136.6 1084.5 L2141.3 1085.3 L2146.1 1086 L2150.9 1086.8 L2155.6 1087.6 L2160.4 1088.4 L2165.2 1089.1 L2169.9 1089.9 L2174.7 1090.7 L2179.5 1091.4 L2184.3 1092.2 L2189 1092.9 L2193.8 1093.7 L2198.6 1094.5 L2203.3 1095.2 L2208.1 1096 L2212.9 1096.7 L2217.6 1097.5 L2222.4 1098.2 L2227.2 1098.9 L2231.9 1099.7 L2236.7 1100.4 L2241.5 1101.2 L2246.2 1101.9 L2251 1102.6 L2255.8 1103.4 L2260.5 1104.1 L2265.3 1104.8 L2270.1 1105.6 L2274.8 1106.3 L2279.6 1107 L2284.4 1107.7 L2289.1 1108.5 L2293.9 1109.2" fill="none" stroke="#a02020" stroke-width="12"/>
<path d="M359.5 50.6 L359.5 51.3 L359.5 52.6 L359.5 54.2 L359.5 55.9 L359.5 57.9 L359.5 60.1 L359.6 62.4 L359.6 64.8 L359.6 67.4 L359.7 70.1 L359.7 72.9 L359.8 75.8 L359.8 78.8 L359.9 81.9 L360 85.1 L360.1 88.3 L360.3 91.7 L360.4 95.1 L360.6 98.6 L360.8 102.1 L361 105.7 L361.2 109.4 L361.4 113.2 L361.7 117 L362 120.9 L362.3 124.8 L362.6 128.8 L362.9 132.8 L363.3 136.9 L363.7 141 L364.2 145.2 L364.6 149.4 L365.1 153.7 L365.7 158 L366.2 162.3 L366.8 166.7 L367.5 171.1 L368.1 175.6 L368.8 180.1 L369.5 184.6 L370.3 189.2 L371.1 193.8 L372 198.4 L372.9 203.1 L373.8 207.8 L374.8 212.5 L375.8 217.2 L376.9 222 L378 226.8 L379.1 231.6 L380.3 236.5 L381.6 241.4 L382.9 246.3 L384.2 251.2 L385.6 256.1 L387.1 261.1 L388.6 266.1 L390.1 271.1 L391.7 276.1 L391.7 276.1 L396.5 290.1 L401.3 303.1 L406 315.2 L410.8 326.6 L415.6 337.4 L420.3 347.6 L425.1 357.3 L429.9 366.6 L434.6 375.5 L439.4 384 L444.2 392.2 L448.9 400.2 L453.7 407.9 L458.5 415.3 L463.2 422.5 L468 429.5 L472.8 436.3 L477.6 442.9 L482.3 449.4 L487.1 455.6 L491.9 461.8 L496.6 467.7 L501.4 473.6 L506.2 479.3 L510.9 484.9 L515.7 490.4 L520.5 495.7 L525.2 501 L530 506.2 L534.8 511.2 L539.5 516.2 L544.3 521.1 L549.1 525.9 L553.8 530.6 L558.6 535.2 L563.4 539.8 L568.1 544.3 L572.9 548.7 L577.7 553 L582.4 557.3 L587.2 561.5 L592 565.7 L596.7 569.8 L601.5 573.8 L606.3 577.8 L611 581.7 L615.8 585.6 L620.6 589.5 L625.3 593.2 L630.1 597 L634.9 600.6 L639.6 604.3 L644.4 607.9 L649.2 611.4 L653.9 614.9 L658.7 618.4 L663.5 621.8 L668.2 625.2 L673 628.6 L677.8 631.9 L682.5 635.2 L687.3 638.4 L692.1 641.6 L696.8 644.8 L701.6 647.9 L706.4 651.1 L711.2 654.1 L715.9 657.2 L720.7 660.2 L725.5 663.2 L730.2 666.2 L735 669.1 L739.8 672 L744.5 674.9 L749.3 677.7 L754.1 680.5 L758.8 683.3 L763.6 686.1 L768.4 688.9 L773.1 691.6 L777.9 694.3 L782.7 697 L787.4 699.6 L792.2 702.3 L797 704.9 L801.7 707.5 L806.5 710 L811.3 712.6 L816 715.1 L820.8 717.6 L825.6 720.1 L830.3 722.6 L835.1 725 L839.9 727.5 L844.6 729.9 L849.4 732.3 L854.2 734.7 L858.9 737 L863.7 739.4 L868.5 741.7 L873.2 744 L878 746.3 L882.8 748.6 L887.5 750.8 L892.3 753.1 L897.1 755.3 L901.8 757.5 L906.6 759.7 L911.4 761.9 L916.1 764 L920.9 766.2 L925.7 768.3 L930.4 770.4 L935.2 772.6 L940 774.6 L944.7 776.7 L949.5 778.8 L954.3 780.8 L959.1 782.9 L963.8 784.9 L968.6 786.9 L973.4 788.9 L978.1 790.9 L982.9 792.9 L987.7 794.9 L992.4 796.8 L997.2 798.8 L1002 800.7 L1006.7 802.6 L1011.5 804.5 L1016.3 806.4 L1021 808.3 L1025.8 810.2 L1030.6 812 L1035.3 813.9 L1040.1 815.7 L1044.9 817.6 L1049.6 819.4 L1054.4 821.2 L1059.2 823 L1063.9 824.8 L1068.7 826.6 L1073.5 828.3 L1078.2 830.1 L1083 831.9 L1087.8 833.6 L1092.5 835.3 L1097.3 837.1 L1102.1 838.8 L1106.8 840.5 L1111.6 842.2 L1116.4 843.9 L1121.1 845.5 L1125.9 847.2 L1130.7 848.9 L1135.4 850.5 L1140.2 852.2 L1145 853.8 L1149.7 855.4 L1154.5 857.1 L1159.3 858.7 L1164 860.3 L1168.8 861.9 L1173.6 863.5 L1178.3 865 L1183.1 866.6 L1187.9 868.2 L1192.6 869.7 L1197.4 871.3 L1202.2 872.8 L1207 874.4 L1211.7 875.9 L1216.5 877.4 L1221.3 878.9 L1226 880.4 L1230.8 881.9 L1235.6 883.4 L1240.3 884.9 L1245.1 886.4 L1249.9 887.8 L1254.6 889.3 L1259.4 890.8 L1264.2 892.2 L1268.9 893.7 L1273.7 895.1 L1278.5 896.5 L1283.2 898 L1288 899.4 L1292.8 900.8 L1297.5 902.2 L1302.3 903.6 L1307.1 905 L1311.8 906.4 L1316.6 907.8 L1321.4 909.1 L1326.1 910.5 L1330.9 911.9 L1335.7 913.2 L1340.4 914.6 L1345.2 915.9 L1350 917.3 L1354.7 918.6 L1359.5 919.9 L1364.3 921.3 L1369 922.6 L1373.8 923.9 L1378.6 925.2 L1383.3 926.5 L1388.1 927.8 L1392.9 929.1 L1397.6 930.4 L1402.4 931.7 L1407.2 933 L1411.9 934.2 L1416.7 935.5 L1421.5 936.8 L1426.2 938 L1431 939.3 L1435.8 940.5 L1440.6 941.8 L1445.3 943 L1450.1 944.2 L1454.9 945.5 L1459.6 946.7 L1464.4 947.9 L1469.2 949.1 L1473.9 950.3 L1478.7 951.5 L1483.5 952.7 L1488.2 953.9 L1493 955.1 L1497.8 956.3 L1502.5 957.5 L1507.3 958.7 L1512.1 959.8 L1516.8 961 L1521.6 962.2 L1526.4 963.3 L1531.1 964.5 L1535.9 965.6 L1540.7 966.8 L1545.4 967.9 L1550.2 969.1 L1555 970.2 L1559.7 971.3 L1564.5 972.5 L1569.3 973.6 L1574 974.7 L1578.8 975.8 L1583.6 976.9 L1588.3 978 L1593.1 979.1 L1597.9 980.2 L1602.6 981.3 L1607.4 982.4 L1612.2 983.5 L1616.9 984.6 L1621.7 985.7 L1626.5 986.8 L1631.2 987.8 L1636 988.9 L1640.8 990 L1645.5 991 L1650.3 992.1 L1655.1 993.1 L1659.8 994.2 L1664.6 995.2 L1669.4 996.3 L1674.1 997.3 L1678.9 998.4 L1683.7 999.4 L1688.5 1000.4 L1693.2 1001.4 L1698 1002.5 L1702.8 1003.5 L1707.5 1004.5 L1712.3 1005.5 L1717.1 1006.5 L1721.8 1007.5 L1726.6 1008.5 L1731.4 1009.5 L1736.1 1010.5 L1740.9 1011.5 L1745.7 1012.5 L1750.4 1013.5 L1755.2 1014.5 L1760 1015.5 L1764.7 1016.5 L1769.5 1017.4 L1774.3 1018.4 L1779 1019.4 L1783.8 1020.3 L1788.6 1021.3 L1793.3 1022.3 L1798.1 1023.2 L1802.9 1024.2 L1807.6 1025.1 L1812.4 1026.1 L1817.2 1027 L1821.9 1028 L1826.7 1028.9 L1831.5 1029.8 L1836.2 1030.8 L1841 1031.7 L1845.8 1032.6 L1850.5 1033.6 L1855.3 1034.5 L1860.1 1035.4 L1864.8 1036.3 L1869.6 1037.2 L1874.4 1038.1 L1879.1 1039.1 L1883.9 1040 L1888.7 1040.9 L1893.4 1041.8 L1898.2 1042.7 L1903 1043.6 L1907.7 1044.5 L1912.5 1045.3 L1917.3 1046.2 L1922 1047.1 L1926.8 1048 L1931.6 1048.9 L1936.4 1049.8 L1941.1 1050.6 L1945.9 1051.5 L1950.7 1052.4 L1955.4 1053.2 L1960.2 1054.1 L1965 1055 L1969.7 1055.8 L1974.5 1056.7 L1979.3 1057.5 L1984 1058.4 L1988.8 1059.2 L1993.6 1060.1 L1998.3 1060.9 L2003.1 1061.8 L2007.9 1062.6 L2012.6 1063.5 L2017.4 1064.3 L2022.2 1065.1 L2026.9 1066 L2031.7 1066.8 L2036.5 1067.6 L2041.2 1068.4 L2046 1069.3 L2050.8 1070.1 L2055.5 1070.9 L2060.3 1071.7 L2065.1 1072.5 L2069.8 1073.3 L2074.6 1074.2 L2079.4 1075 L2084.1 1075.8 L2088.9 1076.6 L2093.7 1077.4 L2098.4 1078.2 L2103.2 1079 L2108 1079.8 L2112.7 1080.6 L2117.5 1081.3 L2122.3 1082.1 L2127 1082.9 L2131.8 1083.7 L2136.6 1084.5 L2141.3 1085.3 L2146.1 1086 L2150.9 1086.8 L2155.6 1087.6 L2160.4 1088.4 L2165.2 1089.1 L2169.9 1089.9 L2174.7 1090.7 L2179.5 1091.4 L2184.3 1092.2 L2189 1092.9 L2193.8 1093.7 L2198.6 1094.5 L2203.3 1095.2 L2208.1 1096 L2212.9 1096.7 L2217.6 1097.5 L2222.4 1098.2 L2227.2 1098.9 L2231.9 1099.7 L2236.7 1100.4 L2241.5 1101.2 L2246.2 1101.9 L2251 1102.6 L2255.8 1103.4 L2260.5 1104.1 L2265.3 1104.8 L2270.1 1105.6 L2274.8 1106.3 L2279.6 1107 L2284.4 1107.7 L2289.1 1108.5 L2293.9 1109.2" fill="none" stroke="#52cccc" stroke-width="6.5"/>
<path d="M359.5 -35.2 L359.5 -33.9 L359.5 -31.9 L359.5 -29.6 L359.5 -27 L359.5 -24.2 L359.5 -21.3 L359.6 -18.2 L359.6 -15 L359.6 -11.6 L359.7 -8.2 L359.7 -4.7 L359.8 -1 L359.8 2.7 L359.9 6.5 L360 10.3 L360.1 14.3 L360.3 18.3 L360.4 22.3 L360.6 26.4 L360.8 30.6 L361 34.8 L361.2 39.1 L361.4 43.4 L361.7 47.8 L362 52.2 L362.3 56.6 L362.6 61.1 L362.9 65.7 L363.3 70.2 L363.7 74.8 L364.2 79.5 L364.6 84.1 L365.1 88.8 L365.7 93.5 L366.2 98.3 L366.8 103.1 L367.5 107.9 L368.1 112.7 L368.8 117.6 L369.5 122.5 L370.3 127.4 L371.1 132.3 L372 137.2 L372.9 142.2 L373.8 147.2 L374.8 152.2 L375.8 157.2 L376.9 162.2 L378 167.3 L379.1 172.3 L380.3 177.4 L381.6 182.5 L382.9 187.6 L384.2 192.7 L385.6 197.9 L387.1 203 L388.6 208.2 L390.1 213.3 L391.7 218.5 L391.7 218.5 L396.5 232.9 L401.3 246.2 L406 258.5 L410.8 270 L415.6 280.9 L420.3 291.2 L425.1 300.9 L429.9 310.2 L434.6 319.2 L439.4 327.7 L444.2 335.9 L448.9 343.8 L453.7 351.4 L458.5 358.8 L463.2 366 L468 372.9 L472.8 379.6 L477.6 386.1 L482.3 392.5 L487.1 398.7 L491.9 404.7 L496.6 410.6 L501.4 416.3 L506.2 422 L510.9 427.5 L515.7 432.8 L520.5 438.1 L525.2 443.2 L530 448.3 L534.8 453.2 L539.5 458.1 L544.3 462.8 L549.1 467.5 L553.8 472.1 L558.6 476.6 L563.4 481.1 L568.1 485.5 L572.9 489.8 L577.7 494 L582.4 498.2 L587.2 502.3 L592 506.3 L596.7 510.3 L601.5 514.2 L606.3 518.1 L611 521.9 L615.8 525.7 L620.6 529.4 L625.3 533 L630.1 536.6 L634.9 540.2 L639.6 543.7 L644.4 547.2 L649.2 550.7 L653.9 554.1 L658.7 557.4 L663.5 560.7 L668.2 564 L673 567.3 L677.8 570.5 L682.5 573.6 L687.3 576.8 L692.1 579.9 L696.8 582.9 L701.6 586 L706.4 589 L711.2 592 L715.9 594.9 L720.7 597.8 L725.5 600.7 L730.2 603.6 L735 606.4 L739.8 609.2 L744.5 612 L749.3 614.7 L754.1 617.5 L758.8 620.2 L763.6 622.9 L768.4 625.5 L773.1 628.1 L777.9 630.7 L782.7 633.3 L787.4 635.9 L792.2 638.4 L797 641 L801.7 643.5 L806.5 645.9 L811.3 648.4 L816 650.8 L820.8 653.2 L825.6 655.6 L830.3 658 L835.1 660.4 L839.9 662.7 L844.6 665.1 L849.4 667.4 L854.2 669.7 L858.9 671.9 L863.7 674.2 L868.5 676.4 L873.2 678.6 L878 680.9 L882.8 683 L887.5 685.2 L892.3 687.4 L897.1 689.5 L901.8 691.7 L906.6 693.8 L911.4 695.9 L916.1 698 L920.9 700 L925.7 702.1 L930.4 704.1 L935.2 706.2 L940 708.2 L944.7 710.2 L949.5 712.2 L954.3 714.2 L959.1 716.1 L963.8 718.1 L968.6 720 L973.4 722 L978.1 723.9 L982.9 725.8 L987.7 727.7 L992.4 729.6 L997.2 731.4 L1002 733.3 L1006.7 735.2 L1011.5 737 L1016.3 738.8 L1021 740.6 L1025.8 742.5 L1030.6 744.3 L1035.3 746 L1040.1 747.8 L1044.9 749.6 L1049.6 751.3 L1054.4 753.1 L1059.2 754.8 L1063.9 756.5 L1068.7 758.3 L1073.5 760 L1078.2 761.7 L1083 763.4 L1087.8 765 L1092.5 766.7 L1097.3 768.4 L1102.1 770 L1106.8 771.7 L1111.6 773.3 L1116.4 774.9 L1121.1 776.6 L1125.9 778.2 L1130.7 779.8 L1135.4 781.4 L1140.2 783 L1145 784.6 L1149.7 786.1 L1154.5 787.7 L1159.3 789.2 L1164 790.8 L1168.8 792.3 L1173.6 793.9 L1178.3 795.4 L1183.1 796.9 L1187.9 798.4 L1192.6 799.9 L1197.4 801.4 L1202.2 802.9 L1207 804.4 L1211.7 805.9 L1216.5 807.3 L1221.3 808.8 L1226 810.3 L1230.8 811.7 L1235.6 813.2 L1240.3 814.6 L1245.1 816 L1249.9 817.4 L1254.6 818.9 L1259.4 820.3 L1264.2 821.7 L1268.9 823.1 L1273.7 824.5 L1278.5 825.9 L1283.2 827.2 L1288 828.6 L1292.8 830 L1297.5 831.3 L1302.3 832.7 L1307.1 834 L1311.8 835.4 L1316.6 836.7 L1321.4 838.1 L1326.1 839.4 L1330.9 840.7 L1335.7 842 L1340.4 843.3 L1345.2 844.6 L1350 845.9 L1354.7 847.2 L1359.5 848.5 L1364.3 849.8 L1369 851.1 L1373.8 852.4 L1378.6 853.6 L1383.3 854.9 L1388.1 856.2 L1392.9 857.4 L1397.6 858.7 L1402.4 859.9 L1407.2 861.1 L1411.9 862.4 L1416.7 863.6 L1421.5 864.8 L1426.2 866 L1431 867.3 L1435.8 868.5 L1440.6 869.7 L1445.3 870.9 L1450.1 872.1 L1454.9 873.3 L1459.6 874.5 L1464.4 875.6 L1469.2 876.8 L1473.9 878 L1478.7 879.2 L1483.5 880.3 L1488.2 881.5 L1493 882.7 L1497.8 883.8 L1502.5 885 L1507.3 886.1 L1512.1 887.2 L1516.8 888.4 L1521.6 889.5 L1526.4 890.6 L1531.1 891.8 L1535.9 892.9 L1540.7 894 L1545.4 895.1 L1550.2 896.2 L1555 897.3 L1559.7 898.4 L1564.5 899.5 L1569.3 900.6 L1574 901.7 L1578.8 902.8 L1583.6 903.9 L1588.3 905 L1593.1 906 L1597.9 907.1 L1602.6 908.2 L1607.4 909.2 L1612.2 910.3 L1616.9 911.4 L1621.7 912.4 L1626.5 913.5 L1631.2 914.5 L1636 915.5 L1640.8 916.6 L1645.5 917.6 L1650.3 918.7 L1655.1 919.7 L1659.8 920.7 L1664.6 921.7 L1669.4 922.8 L1674.1 923.8 L1678.9 924.8 L1683.7 925.8 L1688.5 926.8 L1693.2 927.8 L1698 928.8 L1702.8 929.8 L1707.5 930.8 L1712.3 931.8 L1717.1 932.8 L1721.8 933.8 L1726.6 934.7 L1731.4 935.7 L1736.1 936.7 L1740.9 937.7 L1745.7 938.6 L1750.4 939.6 L1755.2 940.6 L1760 941.5 L1764.7 942.5 L1769.5 943.4 L1774.3 944.4 L1779 945.3 L1783.8 946.3 L1788.6 947.2 L1793.3 948.2 L1798.1 949.1 L1802.9 950 L1807.6 951 L1812.4 951.9 L1817.2 952.8 L1821.9 953.7 L1826.7 954.7 L1831.5 955.6 L1836.2 956.5 L1841 957.4 L1845.8 958.3 L1850.5 959.2 L1855.3 960.1 L1860.1 961 L1864.8 961.9 L1869.6 962.8 L1874.4 963.7 L1879.1 964.6 L1883.9 965.5 L1888.7 966.4 L1893.4 967.3 L1898.2 968.2 L1903 969 L1907.7 969.9 L1912.5 970.8 L1917.3 971.7 L1922 972.5 L1926.8 973.4 L1931.6 974.3 L1936.4 975.1 L1941.1 976 L1945.9 976.8 L1950.7 977.7 L1955.4 978.5 L1960.2 979.4 L1965 980.2 L1969.7 981.1 L1974.5 981.9 L1979.3 982.8 L1984 983.6 L1988.8 984.4 L1993.6 985.3 L1998.3 986.1 L2003.1 986.9 L2007.9 987.8 L2012.6 988.6 L2017.4 989.4 L2022.2 990.2 L2026.9 991.1 L2031.7 991.9 L2036.5 992.7 L2041.2 993.5 L2046 994.3 L2050.8 995.1 L2055.5 995.9 L2060.3 996.7 L2065.1 997.5 L2069.8 998.3 L2074.6 999.1 L2079.4 999.9 L2084.1 1000.7 L2088.9 1001.5 L2093.7 1002.3 L2098.4 1003.1 L2103.2 1003.9 L2108 1004.7 L2112.7 1005.4 L2117.5 1006.2 L2122.3 1007 L2127 1007.8 L2131.8 1008.5 L2136.6 1009.3 L2141.3 1010.1 L2146.1 1010.9 L2150.9 1011.6 L2155.6 1012.4 L2160.4 1013.1 L2165.2 1013.9 L2169.9 1014.7 L2174.7 1015.4 L2179.5 1016.2 L2184.3 1016.9 L2189 1017.7 L2193.8 1018.4 L2198.6 1019.2 L2203.3 1019.9 L2208.1 1020.7 L2212.9 1021.4 L2217.6 1022.2 L2222.4 1022.9 L2227.2 1023.6 L2231.9 1024.4 L2236.7 1025.1 L2241.5 1025.8 L2246.2 1026.6 L2251 1027.3 L2255.8 1028 L2260.5 1028.7 L2265.3 1029.5 L2270.1 1030.2 L2274.8 1030.9 L2279.6 1031.6 L2284.4 1032.3 L2289.1 1033 L2293.9 1033.8" fill="none" stroke="#0000a0" stroke-width="11"/>
<path d="M359.5 -35.2 L359.5 -33.9 L359.5 -31.9 L359.5 -29.6 L359.5 -27 L359.5 -24.2 L359.5 -21.3 L359.6 -18.2 L359.6 -15 L359.6 -11.6 L359.7 -8.2 L359.7 -4.7 L359.8 -1 L359.8 2.7 L359.9 6.5 L360 10.3 L360.1 14.3 L360.3 18.3 L360.4 22.3 L360.6 26.4 L360.8 30.6 L361 34.8 L361.2 39.1 L361.4 43.4 L361.7 47.8 L362 52.2 L362.3 56.6 L362.6 61.1 L362.9 65.7 L363.3 70.2 L363.7 74.8 L364.2 79.5 L364.6 84.1 L365.1 88.8 L365.7 93.5 L366.2 98.3 L366.8 103.1 L367.5 107.9 L368.1 112.7 L368.8 117.6 L369.5 122.5 L370.3 127.4 L371.1 132.3 L372 137.2 L372.9 142.2 L373.8 147.2 L374.8 152.2 L375.8 157.2 L376.9 162.2 L378 167.3 L379.1 172.3 L380.3 177.4 L381.6 182.5 L382.9 187.6 L384.2 192.7 L385.6 197.9 L387.1 203 L388.6 208.2 L390.1 213.3 L391.7 218.5 L391.7 218.5 L396.5 232.9 L401.3 246.2 L406 258.5 L410.8 270 L415.6 280.9 L420.3 291.2 L425.1 300.9 L429.9 310.2 L434.6 319.2 L439.4 327.7 L444.2 335.9 L448.9 343.8 L453.7 351.4 L458.5 358.8 L463.2 366 L468 372.9 L472.8 379.6 L477.6 386.1 L482.3 392.5 L487.1 398.7 L491.9 404.7 L496.6 410.6 L501.4 416.3 L506.2 422 L510.9 427.5 L515.7 432.8 L520.5 438.1 L525.2 443.2 L530 448.3 L534.8 453.2 L539.5 458.1 L544.3 462.8 L549.1 467.5 L553.8 472.1 L558.6 476.6 L563.4 481.1 L568.1 485.5 L572.9 489.8 L577.7 494 L582.4 498.2 L587.2 502.3 L592 506.3 L596.7 510.3 L601.5 514.2 L606.3 518.1 L611 521.9 L615.8 525.7 L620.6 529.4 L625.3 533 L630.1 536.6 L634.9 540.2 L639.6 543.7 L644.4 547.2 L649.2 550.7 L653.9 554.1 L658.7 557.4 L663.5 560.7 L668.2 564 L673 567.3 L677.8 570.5 L682.5 573.6 L687.3 576.8 L692.1 579.9 L696.8 582.9 L701.6 586 L706.4 589 L711.2 592 L715.9 594.9 L720.7 597.8 L725.5 600.7 L730.2 603.6 L735 606.4 L739.8 609.2 L744.5 612 L749.3 614.7 L754.1 617.5 L758.8 620.2 L763.6 622.9 L768.4 625.5 L773.1 628.1 L777.9 630.7 L782.7 633.3 L787.4 635.9 L792.2 638.4 L797 641 L801.7 643.5 L806.5 645.9 L811.3 648.4 L816 650.8 L820.8 653.2 L825.6 655.6 L830.3 658 L835.1 660.4 L839.9 662.7 L844.6 665.1 L849.4 667.4 L854.2 669.7 L858.9 671.9 L863.7 674.2 L868.5 676.4 L873.2 678.6 L878 680.9 L882.8 683 L887.5 685.2 L892.3 687.4 L897.1 689.5 L901.8 691.7 L906.6 693.8 L911.4 695.9 L916.1 698 L920.9 700 L925.7 702.1 L930.4 704.1 L935.2 706.2 L940 708.2 L944.7 710.2 L949.5 712.2 L954.3 714.2 L959.1 716.1 L963.8 718.1 L968.6 720 L973.4 722 L978.1 723.9 L982.9 725.8 L987.7 727.7 L992.4 729.6 L997.2 731.4 L1002 733.3 L1006.7 735.2 L1011.5 737 L1016.3 738.8 L1021 740.6 L1025.8 742.5 L1030.6 744.3 L1035.3 746 L1040.1 747.8 L1044.9 749.6 L1049.6 751.3 L1054.4 753.1 L1059.2 754.8 L1063.9 756.5 L1068.7 758.3 L1073.5 760 L1078.2 761.7 L1083 763.4 L1087.8 765 L1092.5 766.7 L1097.3 768.4 L1102.1 770 L1106.8 771.7 L1111.6 773.3 L1116.4 774.9 L1121.1 776.6 L1125.9 778.2 L1130.7 779.8 L1135.4 781.4 L1140.2 783 L1145 784.6 L1149.7 786.1 L1154.5 787.7 L1159.3 789.2 L1164 790.8 L1168.8 792.3 L1173.6 793.9 L1178.3 795.4 L1183.1 796.9 L1187.9 798.4 L1192.6 799.9 L1197.4 801.4 L1202.2 802.9 L1207 804.4 L1211.7 805.9 L1216.5 807.3 L1221.3 808.8 L1226 810.3 L1230.8 811.7 L1235.6 813.2 L1240.3 814.6 L1245.1 816 L1249.9 817.4 L1254.6 818.9 L1259.4 820.3 L1264.2 821.7 L1268.9 823.1 L1273.7 824.5 L1278.5 825.9 L1283.2 827.2 L1288 828.6 L1292.8 830 L1297.5 831.3 L1302.3 832.7 L1307.1 834 L1311.8 835.4 L1316.6 836.7 L1321.4 838.1 L1326.1 839.4 L1330.9 840.7 L1335.7 842 L1340.4 843.3 L1345.2 844.6 L1350 845.9 L1354.7 847.2 L1359.5 848.5 L1364.3 849.8 L1369 851.1 L1373.8 852.4 L1378.6 853.6 L1383.3 854.9 L1388.1 856.2 L1392.9 857.4 L1397.6 858.7 L1402.4 859.9 L1407.2 861.1 L1411.9 862.4 L1416.7 863.6 L1421.5 864.8 L1426.2 866 L1431 867.3 L1435.8 868.5 L1440.6 869.7 L1445.3 870.9 L1450.1 872.1 L1454.9 873.3 L1459.6 874.5 L1464.4 875.6 L1469.2 876.8 L1473.9 878 L1478.7 879.2 L1483.5 880.3 L1488.2 881.5 L1493 882.7 L1497.8 883.8 L1502.5 885 L1507.3 886.1 L1512.1 887.2 L1516.8 888.4 L1521.6 889.5 L1526.4 890.6 L1531.1 891.8 L1535.9 892.9 L1540.7 894 L1545.4 895.1 L1550.2 896.2 L1555 897.3 L1559.7 898.4 L1564.5 899.5 L1569.3 900.6 L1574 901.7 L1578.8 902.8 L1583.6 903.9 L1588.3 905 L1593.1 906 L1597.9 907.1 L1602.6 908.2 L1607.4 909.2 L1612.2 910.3 L1616.9 911.4 L1621.7 912.4 L1626.5 913.5 L1631.2 914.5 L1636 915.5 L1640.8 916.6 L1645.5 917.6 L1650.3 918.7 L1655.1 919.7 L1659.8 920.7 L1664.6 921.7 L1669.4 922.8 L1674.1 923.8 L1678.9 924.8 L1683.7 925.8 L1688.5 926.8 L1693.2 927.8 L1698 928.8 L1702.8 929.8 L1707.5 930.8 L1712.3 931.8 L1717.1 932.8 L1721.8 933.8 L1726.6 934.7 L1731.4 935.7 L1736.1 936.7 L1740.9 937.7 L1745.7 938.6 L1750.4 939.6 L1755.2 940.6 L1760 941.5 L1764.7 942.5 L1769.5 943.4 L1774.3 944.4 L1779 945.3 L1783.8 946.3 L1788.6 947.2 L1793.3 948.2 L1798.1 949.1 L1802.9 950 L1807.6 951 L1812.4 951.9 L1817.2 952.8 L1821.9 953.7 L1826.7 954.7 L1831.5 955.6 L1836.2 956.5 L1841 957.4 L1845.8 958.3 L1850.5 959.2 L1855.3 960.1 L1860.1 961 L1864.8 961.9 L1869.6 962.8 L1874.4 963.7 L1879.1 964.6 L1883.9 965.5 L1888.7 966.4 L1893.4 967.3 L1898.2 968.2 L1903 969 L1907.7 969.9 L1912.5 970.8 L1917.3 971.7 L1922 972.5 L1926.8 973.4 L1931.6 974.3 L1936.4 975.1 L1941.1 976 L1945.9 976.8 L1950.7 977.7 L1955.4 978.5 L1960.2 979.4 L1965 980.2 L1969.7 981.1 L1974.5 981.9 L1979.3 982.8 L1984 983.6 L1988.8 984.4 L1993.6 985.3 L1998.3 986.1 L2003.1 986.9 L2007.9 987.8 L2012.6 988.6 L2017.4 989.4 L2022.2 990.2 L2026.9 991.1 L2031.7 991.9 L2036.5 992.7 L2041.2 993.5 L2046 994.3 L2050.8 995.1 L2055.5 995.9 L2060.3 996.7 L2065.1 997.5 L2069.8 998.3 L2074.6 999.1 L2079.4 999.9 L2084.1 1000.7 L2088.9 1001.5 L2093.7 1002.3 L2098.4 1003.1 L2103.2 1003.9 L2108 1004.7 L2112.7 1005.4 L2117.5 1006.2 L2122.3 1007 L2127 1007.8 L2131.8 1008.5 L2136.6 1009.3 L2141.3 1010.1 L2146.1 1010.9 L2150.9 1011.6 L2155.6 1012.4 L2160.4 1013.1 L2165.2 1013.9 L2169.9 1014.7 L2174.7 1015.4 L2179.5 1016.2 L2184.3 1016.9 L2189 1017.7 L2193.8 1018.4 L2198.6 1019.2 L2203.3 1019.9 L2208.1 1020.7 L2212.9 1021.4 L2217.6 1022.2 L2222.4 1022.9 L2227.2 1023.6 L2231.9 1024.4 L2236.7 1025.1 L2241.5 1025.8 L2246.2 1026.6 L2251 1027.3 L2255.8 1028 L2260.5 1028.7 L2265.3 1029.5 L2270.1 1030.2 L2274.8 1030.9 L2279.6 1031.6 L2284.4 1032.3 L2289.1 1033 L2293.9 1033.8" fill="none" stroke="#22e4f8" stroke-width="6.5"/>
</g>
<rect x="359.5" y="59.5" width="1934.5" height="1551.2" fill="none" stroke="#000" stroke-width="5.5"/>
<path d="M359.5 1610.7v-30M359.5 59.5v30M601.3 1610.7v-15M601.3 59.5v15M843.1 1610.7v-30M843.1 59.5v30M1084.9 1610.7v-15M1084.9 59.5v15M1326.7 1610.7v-30M1326.7 59.5v30M1568.5 1610.7v-15M1568.5 59.5v15M1810.3 1610.7v-30M1810.3 59.5v30M2052.1 1610.7v-15M2052.1 59.5v15M2293.9 1610.7v-30M2293.9 59.5v30M359.5 1610.7h30M2294 1610.7h-30M359.5 1507.3h15M2294 1507.3h-15M359.5 1403.9h30M2294 1403.9h-30M359.5 1300.5h15M2294 1300.5h-15M359.5 1197.1h30M2294 1197.1h-30M359.5 1093.7h15M2294 1093.7h-15M359.5 990.3h30M2294 990.3h-30M359.5 886.9h15M2294 886.9h-15M359.5 783.5h30M2294 783.5h-30M359.5 680.1h15M2294 680.1h-15M359.5 576.7h30M2294 576.7h-30M359.5 473.3h15M2294 473.3h-15M359.5 369.9h30M2294 369.9h-30M359.5 266.5h15M2294 266.5h-15M359.5 163.1h30M2294 163.1h-30M359.5 59.7h15M2294 59.7h-15" stroke="#000" stroke-width="5" fill="none"/>
<g font-family="&quot;Liberation Sans&quot;, Arial, sans-serif" font-size="88" fill="#000">
<text x="325" y="1635.7" text-anchor="end">93</text>
<text x="325" y="1428.9" text-anchor="end">94</text>
<text x="325" y="1222.1" text-anchor="end">95</text>
<text x="325" y="1015.3" text-anchor="end">96</text>
<text x="325" y="808.5" text-anchor="end">97</text>
<text x="325" y="601.7" text-anchor="end">98</text>
<text x="325" y="394.9" text-anchor="end">99</text>
<text x="325" y="188.1" text-anchor="end">100</text>
<text x="359.5" y="1712" text-anchor="middle">0</text>
<text x="843.1" y="1712" text-anchor="middle">30</text>
<text x="1326.7" y="1712" text-anchor="middle">60</text>
<text x="1810.3" y="1712" text-anchor="middle">90</text>
<text x="2293.9" y="1712" text-anchor="middle">120</text>
<text x="398" y="1001.3">4.21%</text>
<text x="412" y="1201">4.58%</text>
<text x="411" y="1485.3">6.56%</text>
<text x="1929.5" y="939.2">x = 1 %</text>
<text x="1879.3" y="1211.4">x = 0.5 %</text>
<text x="2086" y="1432.4">NiO</text>
<text x="660.5" y="394.8">H</text>
<text x="780.5" y="394.8">= 0 Oe</text>
<text x="1252" y="333.2">H</text>
<text x="1372" y="333.2">= 500 Oe</text>
</g>
<g font-family="&quot;Liberation Serif&quot;, &quot;Times New Roman&quot;, serif" font-style="italic" font-size="58" fill="#000">
<text x="725.5" y="418.5">a</text>
<text x="1316.5" y="356.8">a</text>
</g>
<g font-family="&quot;Liberation Sans&quot;, Arial, sans-serif" font-size="134.3" fill="#000">
<text x="1073" y="1838">Time (min)</text>
<text transform="translate(132 1649) rotate(-90)">Magnetization (normalized)</text>
</g>
<g fill="none" stroke="#000" stroke-width="4.5">
<ellipse cx="1094" cy="216" rx="25.5" ry="81.5"/>
<ellipse cx="453.2" cy="444.5" rx="112" ry="58.5" transform="rotate(-49.4 453.2 444.5)"/>
</g>
<g stroke="#000" stroke-width="2.2" fill="#000">
<line x1="1229" y1="300.5" x2="1170" y2="277"/>
<path d="M1122.6 259.1 L1182.9 271.2 L1172.7 290.7 Z" stroke="none"/>
<line x1="658" y1="397.2" x2="600" y2="408"/>
<path d="M553.3 418.9 L605 398 L612 417.7 Z" stroke="none"/>
</g>
<g stroke="#000" fill="none">
<line x1="1499" y1="400" x2="2252.5" y2="400" stroke-width="3.5"/>
<line x1="1499" y1="506.3" x2="2252.5" y2="506.3" stroke-width="5"/>
<line x1="1499" y1="826" x2="2252.5" y2="826" stroke-width="5.5"/>
</g>
<g font-family="&quot;Liberation Sans&quot;, Arial, sans-serif" font-weight="bold" font-size="55" fill="#000" text-anchor="middle">
<text x="1633" y="474.6" textLength="183.3" lengthAdjust="spacingAndGlyphs">Sample</text><text x="1868" y="474.6">β</text><text x="2110" y="474.6">τ (min)</text>
<text x="1633" y="580.4">NiO</text><text x="1868" y="580.4">0.47</text><text x="2110" y="580.4">47.3</text>
<text x="1633" y="687.2" textLength="133.4" lengthAdjust="spacingAndGlyphs">0.5 %</text><text x="1868" y="687.2">0.51</text><text x="2110" y="687.2">92.4</text>
<text x="1633" y="792.6" textLength="86.3" lengthAdjust="spacingAndGlyphs">1 %</text><text x="1868" y="792.6">0.60</text><text x="2110" y="792.6">77.2</text>
</g>
</svg></body></html>
